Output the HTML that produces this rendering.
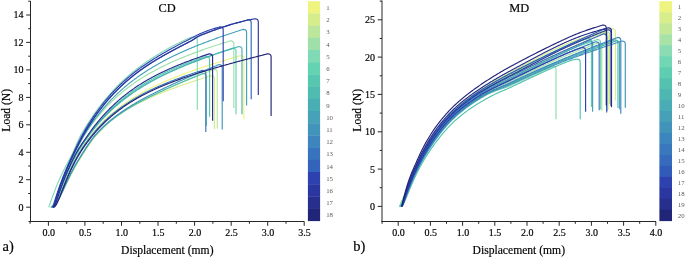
<!DOCTYPE html>
<html><head><meta charset="utf-8"><style>
html,body{margin:0;padding:0;background:#fff;}
svg{display:block;will-change:transform;}
text{font-family:"Liberation Serif",serif;fill:#000;stroke:#000;stroke-width:0.18px;}
.tk{font-size:10px;}
.cb{font-size:6.8px;fill:#5a5a5a;stroke:none;}
.ti{font-size:12.4px;}
.al{font-size:11.6px;}
.ab{font-size:14.5px;}
</style></head><body>
<svg width="685" height="257" viewBox="0 0 685 257">
<path d="M28.5 221.5H304.3M30.5 222.0V1.0" stroke="#262626" stroke-width="1.0" fill="none"/>
<path d="M48.4 221.5v4.3M84.9 221.5v4.3M121.5 221.5v4.3M158.0 221.5v4.3M194.6 221.5v4.3M231.2 221.5v4.3M267.7 221.5v4.3M304.2 221.5v4.3M30.1 221.5v2.3M66.7 221.5v2.3M103.2 221.5v2.3M139.8 221.5v2.3M176.3 221.5v2.3M212.9 221.5v2.3M249.4 221.5v2.3M286.0 221.5v2.3M30.5 207.2h-4.3M30.5 179.7h-4.3M30.5 152.3h-4.3M30.5 124.8h-4.3M30.5 97.4h-4.3M30.5 69.9h-4.3M30.5 42.4h-4.3M30.5 15.0h-4.3M30.5 193.5h-2.3M30.5 166.0h-2.3M30.5 138.5h-2.3M30.5 111.1h-2.3M30.5 83.6h-2.3M30.5 56.2h-2.3M30.5 28.7h-2.3M30.5 1.2h-2.3" stroke="#262626" stroke-width="1" fill="none"/>
<text x="48.7" y="235.9" text-anchor="middle" class="tk">0.0</text>
<text x="85.2" y="235.9" text-anchor="middle" class="tk">0.5</text>
<text x="121.8" y="235.9" text-anchor="middle" class="tk">1.0</text>
<text x="158.3" y="235.9" text-anchor="middle" class="tk">1.5</text>
<text x="194.9" y="235.9" text-anchor="middle" class="tk">2.0</text>
<text x="231.5" y="235.9" text-anchor="middle" class="tk">2.5</text>
<text x="268.0" y="235.9" text-anchor="middle" class="tk">3.0</text>
<text x="304.5" y="235.9" text-anchor="middle" class="tk">3.5</text>
<text x="23.5" y="210.6" text-anchor="end" class="tk">0</text>
<text x="23.5" y="183.1" text-anchor="end" class="tk">2</text>
<text x="23.5" y="155.7" text-anchor="end" class="tk">4</text>
<text x="23.5" y="128.2" text-anchor="end" class="tk">6</text>
<text x="23.5" y="100.8" text-anchor="end" class="tk">8</text>
<text x="23.5" y="73.3" text-anchor="end" class="tk">10</text>
<text x="23.5" y="45.8" text-anchor="end" class="tk">12</text>
<text x="23.5" y="18.4" text-anchor="end" class="tk">14</text>
<path d="M381.5 221.5H656.0M382.0 222.0V0.5" stroke="#262626" stroke-width="1.0" fill="none"/>
<path d="M398.2 221.5v4.3M430.4 221.5v4.3M462.6 221.5v4.3M494.8 221.5v4.3M527.0 221.5v4.3M559.2 221.5v4.3M591.4 221.5v4.3M623.6 221.5v4.3M655.8 221.5v4.3M382.1 221.5v2.3M414.3 221.5v2.3M446.5 221.5v2.3M478.7 221.5v2.3M510.9 221.5v2.3M543.1 221.5v2.3M575.3 221.5v2.3M607.5 221.5v2.3M639.7 221.5v2.3M382.0 206.4h-4.3M382.0 169.1h-4.3M382.0 131.8h-4.3M382.0 94.4h-4.3M382.0 57.1h-4.3M382.0 19.8h-4.3M382.0 187.7h-2.3M382.0 150.4h-2.3M382.0 113.1h-2.3M382.0 75.8h-2.3M382.0 38.5h-2.3M382.0 1.1h-2.3" stroke="#262626" stroke-width="1" fill="none"/>
<text x="398.5" y="235.9" text-anchor="middle" class="tk">0.0</text>
<text x="430.7" y="235.9" text-anchor="middle" class="tk">0.5</text>
<text x="462.9" y="235.9" text-anchor="middle" class="tk">1.0</text>
<text x="495.1" y="235.9" text-anchor="middle" class="tk">1.5</text>
<text x="527.3" y="235.9" text-anchor="middle" class="tk">2.0</text>
<text x="559.5" y="235.9" text-anchor="middle" class="tk">2.5</text>
<text x="591.7" y="235.9" text-anchor="middle" class="tk">3.0</text>
<text x="623.9" y="235.9" text-anchor="middle" class="tk">3.5</text>
<text x="656.1" y="235.9" text-anchor="middle" class="tk">4.0</text>
<text x="375.0" y="209.8" text-anchor="end" class="tk">0</text>
<text x="375.0" y="172.5" text-anchor="end" class="tk">5</text>
<text x="375.0" y="135.2" text-anchor="end" class="tk">10</text>
<text x="375.0" y="97.8" text-anchor="end" class="tk">15</text>
<text x="375.0" y="60.5" text-anchor="end" class="tk">20</text>
<text x="375.0" y="23.2" text-anchor="end" class="tk">25</text>
<rect x="307.9" y="1.20" width="12.2" height="12.50" fill="#eef47f"/>
<rect x="307.9" y="13.40" width="12.2" height="12.50" fill="#d6ed8c"/>
<rect x="307.9" y="25.60" width="12.2" height="12.50" fill="#bce69c"/>
<rect x="307.9" y="37.80" width="12.2" height="12.50" fill="#9fe0aa"/>
<rect x="307.9" y="50.00" width="12.2" height="12.50" fill="#80dab5"/>
<rect x="307.9" y="62.20" width="12.2" height="12.50" fill="#64d3b2"/>
<rect x="307.9" y="74.40" width="12.2" height="12.50" fill="#57c7b0"/>
<rect x="307.9" y="86.60" width="12.2" height="12.50" fill="#50bbb0"/>
<rect x="307.9" y="98.80" width="12.2" height="12.50" fill="#4aafb4"/>
<rect x="307.9" y="111.00" width="12.2" height="12.50" fill="#45a2b8"/>
<rect x="307.9" y="123.20" width="12.2" height="12.50" fill="#4194ba"/>
<rect x="307.9" y="135.40" width="12.2" height="12.50" fill="#3c85bd"/>
<rect x="307.9" y="147.60" width="12.2" height="12.50" fill="#3874bd"/>
<rect x="307.9" y="159.80" width="12.2" height="12.50" fill="#3463bb"/>
<rect x="307.9" y="172.00" width="12.2" height="12.50" fill="#2d42ae"/>
<rect x="307.9" y="184.20" width="12.2" height="12.50" fill="#2a37a0"/>
<rect x="307.9" y="196.40" width="12.2" height="12.50" fill="#262e8e"/>
<rect x="307.9" y="208.60" width="12.2" height="12.50" fill="#212577"/>
<text x="326.2" y="9.9" class="cb">1</text>
<text x="326.2" y="22.1" class="cb">2</text>
<text x="326.2" y="34.3" class="cb">3</text>
<text x="326.2" y="46.5" class="cb">4</text>
<text x="326.2" y="58.7" class="cb">5</text>
<text x="326.2" y="70.9" class="cb">6</text>
<text x="326.2" y="83.1" class="cb">7</text>
<text x="326.2" y="95.3" class="cb">8</text>
<text x="326.2" y="107.5" class="cb">9</text>
<text x="326.2" y="119.7" class="cb">10</text>
<text x="326.2" y="131.9" class="cb">11</text>
<text x="326.2" y="144.1" class="cb">12</text>
<text x="326.2" y="156.3" class="cb">13</text>
<text x="326.2" y="168.5" class="cb">14</text>
<text x="326.2" y="180.7" class="cb">15</text>
<text x="326.2" y="192.9" class="cb">16</text>
<text x="326.2" y="205.1" class="cb">17</text>
<text x="326.2" y="217.3" class="cb">18</text>
<rect x="659.4" y="1.20" width="12.6" height="11.28" fill="#eef47f"/>
<rect x="659.4" y="12.18" width="12.6" height="11.28" fill="#d9ee8a"/>
<rect x="659.4" y="23.16" width="12.6" height="11.28" fill="#c3e898"/>
<rect x="659.4" y="34.14" width="12.6" height="11.28" fill="#a8e2a6"/>
<rect x="659.4" y="45.12" width="12.6" height="11.28" fill="#8bdcb2"/>
<rect x="659.4" y="56.10" width="12.6" height="11.28" fill="#70d6b4"/>
<rect x="659.4" y="67.08" width="12.6" height="11.28" fill="#5ecdb0"/>
<rect x="659.4" y="78.06" width="12.6" height="11.28" fill="#55c2b0"/>
<rect x="659.4" y="89.04" width="12.6" height="11.28" fill="#4fb7b1"/>
<rect x="659.4" y="100.02" width="12.6" height="11.28" fill="#4aacb5"/>
<rect x="659.4" y="111.00" width="12.6" height="11.28" fill="#45a0b8"/>
<rect x="659.4" y="121.98" width="12.6" height="11.28" fill="#4193ba"/>
<rect x="659.4" y="132.96" width="12.6" height="11.28" fill="#3d86bd"/>
<rect x="659.4" y="143.94" width="12.6" height="11.28" fill="#3978bd"/>
<rect x="659.4" y="154.92" width="12.6" height="11.28" fill="#356abc"/>
<rect x="659.4" y="165.90" width="12.6" height="11.28" fill="#315bb8"/>
<rect x="659.4" y="176.88" width="12.6" height="11.28" fill="#2d42ae"/>
<rect x="659.4" y="187.86" width="12.6" height="11.28" fill="#2a37a0"/>
<rect x="659.4" y="198.84" width="12.6" height="11.28" fill="#262e8e"/>
<rect x="659.4" y="209.82" width="12.6" height="11.28" fill="#212577"/>
<text x="677.8" y="9.3" class="cb">1</text>
<text x="677.8" y="20.3" class="cb">2</text>
<text x="677.8" y="31.2" class="cb">3</text>
<text x="677.8" y="42.2" class="cb">4</text>
<text x="677.8" y="53.2" class="cb">5</text>
<text x="677.8" y="64.2" class="cb">6</text>
<text x="677.8" y="75.2" class="cb">7</text>
<text x="677.8" y="86.1" class="cb">8</text>
<text x="677.8" y="97.1" class="cb">9</text>
<text x="677.8" y="108.1" class="cb">10</text>
<text x="677.8" y="119.1" class="cb">11</text>
<text x="677.8" y="130.1" class="cb">12</text>
<text x="677.8" y="141.0" class="cb">13</text>
<text x="677.8" y="152.0" class="cb">14</text>
<text x="677.8" y="163.0" class="cb">15</text>
<text x="677.8" y="174.0" class="cb">16</text>
<text x="677.8" y="185.0" class="cb">17</text>
<text x="677.8" y="195.9" class="cb">18</text>
<text x="677.8" y="206.9" class="cb">19</text>
<text x="677.8" y="217.9" class="cb">20</text>
<text x="167.2" y="11.9" text-anchor="middle" class="ti">CD</text>
<text x="519.2" y="11.9" text-anchor="middle" class="ti">MD</text>
<text x="167.3" y="253.6" text-anchor="middle" class="al">Displacement (mm)</text>
<text x="518.8" y="253.6" text-anchor="middle" class="al">Displacement (mm)</text>
<text transform="translate(9.8 110.3) rotate(-90)" text-anchor="middle" class="al">Load (N)</text>
<text transform="translate(361.3 110.3) rotate(-90)" text-anchor="middle" class="al">Load (N)</text>
<text x="2.6" y="251.2" class="ab">a)</text>
<text x="353.2" y="251.2" class="ab">b)</text>
<path d="M52.05 207.20 L52.80 207.01 L53.55 206.45 L54.30 205.59 L55.05 204.48 L55.80 203.17 L56.55 201.70 L57.30 200.10 L58.05 198.41 L58.80 196.65 L59.55 194.84 L60.30 192.99 L61.05 191.12 L61.80 189.24 L62.55 187.36 L63.30 185.48 L64.06 183.63 L64.81 181.78 L65.56 179.96 L66.31 178.15 L67.06 176.38 L67.81 174.63 L68.56 172.91 L69.31 171.22 L70.06 169.56 L70.81 167.93 L71.56 166.34 L72.31 164.78 L73.06 163.25 L73.81 161.76 L74.56 160.29 L75.31 158.87 L76.06 157.47 L76.81 156.11 L77.56 154.77 L78.31 153.48 L79.06 152.21 L79.81 150.98 L80.56 149.77 L81.31 148.60 L82.06 147.45 L82.81 146.33 L83.56 145.23 L84.31 144.15 L85.06 143.09 L85.81 142.05 L86.56 141.03 L87.31 140.03 L88.06 139.04 L88.81 138.06 L89.56 137.09 L90.31 136.13 L91.06 135.18 L91.81 134.24 L92.56 133.32 L93.31 132.41 L94.06 131.51 L94.81 130.62 L95.56 129.75 L96.31 128.90 L97.06 128.05 L97.81 127.22 L98.56 126.39 L99.31 125.58 L100.06 124.79 L100.81 124.00 L101.56 123.22 L102.31 122.46 L103.06 121.70 L103.81 120.95 L104.56 120.22 L105.31 119.49 L106.06 118.78 L106.81 118.07 L107.56 117.37 L108.31 116.68 L109.06 116.00 L109.81 115.33 L110.56 114.67 L111.31 114.01 L112.06 113.36 L112.81 112.72 L113.56 112.09 L114.31 111.47 L115.06 110.85 L115.81 110.24 L116.56 109.64 L117.31 109.05 L118.06 108.46 L118.81 107.88 L119.56 107.31 L120.31 106.74 L121.06 106.18 L121.81 105.62 L122.56 105.08 L123.31 104.53 L124.06 104.00 L124.81 103.47 L125.56 102.94 L126.31 102.42 L127.06 101.91 L127.81 101.40 L128.56 100.90 L129.31 100.40 L130.06 99.91 L130.81 99.43 L131.56 98.94 L132.31 98.47 L133.06 98.00 L133.81 97.53 L134.56 97.07 L135.31 96.61 L136.06 96.16 L136.81 95.71 L137.56 95.27 L138.31 94.83 L139.06 94.39 L139.81 93.96 L140.56 93.53 L141.31 93.11 L142.06 92.69 L142.81 92.27 L143.56 91.86 L144.31 91.46 L145.06 91.05 L145.81 90.65 L146.56 90.26 L147.31 89.86 L148.06 89.47 L148.81 89.09 L149.56 88.71 L150.31 88.33 L151.06 87.95 L151.81 87.58 L152.56 87.21 L153.31 86.84 L154.06 86.48 L154.81 86.12 L155.56 85.76 L156.31 85.41 L157.06 85.05 L157.81 84.70 L158.56 84.36 L159.31 84.02 L160.06 83.68 L160.81 83.34 L161.56 83.00 L162.31 82.67 L163.06 82.34 L163.81 82.01 L164.56 81.68 L165.31 81.36 L166.06 81.04 L166.81 80.72 L167.56 80.40 L168.31 80.09 L169.06 79.77 L169.81 79.46 L170.56 79.15 L171.31 78.84 L172.06 78.54 L172.81 78.24 L173.56 77.93 L174.31 77.63 L175.06 77.34 L175.81 77.04 L176.56 76.74 L177.31 76.45 L178.06 76.16 L178.81 75.87 L179.56 75.58 L180.31 75.30 L181.06 75.01 L181.81 74.73 L182.56 74.45 L183.31 74.17 L184.06 73.89 L184.81 73.61 L185.56 73.33 L186.31 73.06 L187.06 72.79 L187.81 72.51 L188.56 72.24 L189.31 71.97 L190.06 71.70 L190.81 71.44 L191.56 71.17 L192.31 70.91 L193.06 70.64 L193.81 70.38 L194.56 70.12 L195.31 69.86 L196.06 69.60 L196.81 69.34 L197.56 69.09 L198.31 68.83 L199.06 68.58 L199.81 68.32 L200.56 68.07 L201.31 67.82 L202.06 67.57 L202.81 67.32 L203.56 67.07 L204.31 66.82 L205.06 66.57 L205.81 66.32 L206.56 66.08 L207.31 65.83 L208.06 65.59 L208.81 65.35 L209.56 65.10 L210.31 64.86 L211.06 64.62 L211.81 64.38 L212.56 64.14 L213.31 63.90 L214.06 63.67 L214.81 63.43 L215.56 63.19 L216.31 62.96 L217.06 62.72 L217.81 62.49 L218.56 62.25 L219.31 62.02 L220.06 61.79 L220.81 61.56 L221.56 61.32 L222.31 61.09 L223.06 60.86 L223.81 60.63 L224.56 60.40 L225.31 60.18 L226.06 59.95 L226.81 59.72 L227.56 59.49 L228.31 59.27 L229.06 59.04 L229.81 58.82 L230.56 58.59 L231.31 58.37 L232.06 58.14 L232.81 57.92 L233.56 57.70 L234.31 57.47 L235.06 57.25 L235.81 57.03 L236.56 56.81 L237.31 56.59 L238.06 56.37 L238.81 56.15 L239.56 55.93 L240.31 55.71 L240.70 55.59 Q243.90 55.59 243.90 58.79 L243.90 119.40" stroke="#eef47f" stroke-width="1.15" fill="none" stroke-linejoin="round"/>
<path d="M50.59 207.20 L51.34 207.07 L52.09 206.75 L52.84 206.27 L53.59 205.65 L54.34 204.89 L55.09 204.02 L55.84 203.05 L56.59 201.99 L57.34 200.85 L58.09 199.64 L58.84 198.37 L59.59 197.04 L60.34 195.68 L61.09 194.28 L61.84 192.85 L62.59 191.39 L63.34 189.92 L64.09 188.43 L64.84 186.92 L65.59 185.42 L66.34 183.91 L67.09 182.41 L67.84 180.91 L68.59 179.43 L69.34 177.96 L70.09 176.51 L70.84 175.07 L71.59 173.64 L72.34 172.23 L73.09 170.84 L73.84 169.47 L74.59 168.11 L75.34 166.77 L76.09 165.45 L76.84 164.14 L77.59 162.85 L78.34 161.58 L79.09 160.32 L79.84 159.08 L80.59 157.85 L81.34 156.64 L82.09 155.44 L82.84 154.25 L83.59 153.07 L84.34 151.90 L85.09 150.73 L85.84 149.58 L86.59 148.43 L87.34 147.30 L88.09 146.19 L88.84 145.08 L89.59 144.00 L90.34 142.93 L91.09 141.88 L91.84 140.85 L92.59 139.84 L93.34 138.86 L94.09 137.90 L94.84 136.97 L95.59 136.06 L96.34 135.18 L97.09 134.33 L97.84 133.49 L98.59 132.66 L99.34 131.85 L100.09 131.06 L100.84 130.28 L101.59 129.51 L102.34 128.76 L103.09 128.02 L103.84 127.29 L104.59 126.57 L105.34 125.87 L106.09 125.18 L106.84 124.50 L107.59 123.83 L108.34 123.17 L109.09 122.52 L109.84 121.88 L110.59 121.26 L111.34 120.64 L112.09 120.03 L112.84 119.44 L113.59 118.85 L114.34 118.27 L115.09 117.70 L115.84 117.13 L116.59 116.58 L117.34 116.03 L118.09 115.50 L118.84 114.97 L119.59 114.44 L120.34 113.93 L121.09 113.42 L121.84 112.92 L122.59 112.42 L123.34 111.93 L124.09 111.45 L124.84 110.98 L125.59 110.51 L126.34 110.05 L127.09 109.59 L127.84 109.14 L128.59 108.69 L129.34 108.25 L130.09 107.81 L130.84 107.38 L131.59 106.96 L132.34 106.54 L133.09 106.12 L133.84 105.71 L134.59 105.30 L135.34 104.90 L136.09 104.50 L136.84 104.11 L137.59 103.72 L138.34 103.33 L139.09 102.95 L139.84 102.57 L140.59 102.20 L141.34 101.82 L142.09 101.46 L142.84 101.09 L143.59 100.73 L144.34 100.37 L145.09 100.02 L145.84 99.67 L146.59 99.32 L147.34 98.97 L148.09 98.63 L148.84 98.29 L149.59 97.95 L150.34 97.61 L151.09 97.28 L151.84 96.95 L152.59 96.62 L153.34 96.30 L154.09 95.97 L154.84 95.65 L155.59 95.33 L156.34 95.02 L157.09 94.70 L157.84 94.39 L158.59 94.08 L159.34 93.77 L160.09 93.46 L160.84 93.16 L161.59 92.85 L162.34 92.55 L163.09 92.25 L163.84 91.95 L164.59 91.66 L165.34 91.36 L166.09 91.07 L166.84 90.78 L167.59 90.49 L168.34 90.20 L169.09 89.92 L169.84 89.63 L170.59 89.35 L171.34 89.07 L172.09 88.79 L172.84 88.51 L173.59 88.24 L174.34 87.96 L175.09 87.69 L175.84 87.41 L176.59 87.14 L177.34 86.87 L178.09 86.60 L178.84 86.33 L179.59 86.07 L180.34 85.80 L181.09 85.54 L181.84 85.28 L182.59 85.01 L183.34 84.75 L184.09 84.49 L184.84 84.23 L185.59 83.97 L186.34 83.72 L187.09 83.46 L187.84 83.21 L188.59 82.95 L189.34 82.70 L190.09 82.44 L190.84 82.19 L191.59 81.94 L192.34 81.69 L193.09 81.44 L193.84 81.19 L194.59 80.95 L195.34 80.70 L196.09 80.45 L196.84 80.21 L197.59 79.96 L198.34 79.72 L199.09 79.47 L199.84 79.23 L200.59 78.99 L201.34 78.74 L202.09 78.50 L202.84 78.26 L203.59 78.02 L204.34 77.78 L205.09 77.54 L205.84 77.30 L206.59 77.07 L207.34 76.83 L208.09 76.59 L208.84 76.35 L209.59 76.12 L210.34 75.88 L211.09 75.65 L211.20 75.61 Q214.40 75.61 214.40 78.81 L214.40 129.20" stroke="#d6ed8c" stroke-width="1.15" fill="none" stroke-linejoin="round"/>
<path d="M50.59 207.20 L51.34 207.06 L52.09 206.73 L52.84 206.24 L53.59 205.59 L54.34 204.80 L55.09 203.90 L55.84 202.89 L56.59 201.80 L57.34 200.62 L58.09 199.37 L58.84 198.06 L59.59 196.70 L60.34 195.30 L61.09 193.86 L61.84 192.40 L62.59 190.91 L63.34 189.40 L64.09 187.88 L64.84 186.34 L65.59 184.81 L66.34 183.28 L67.09 181.75 L67.84 180.24 L68.59 178.74 L69.34 177.26 L70.09 175.79 L70.84 174.33 L71.59 172.90 L72.34 171.48 L73.09 170.08 L73.84 168.70 L74.59 167.33 L75.34 165.99 L76.09 164.66 L76.84 163.35 L77.59 162.06 L78.34 160.79 L79.09 159.53 L79.84 158.29 L80.59 157.06 L81.34 155.85 L82.09 154.65 L82.84 153.46 L83.59 152.28 L84.34 151.11 L85.09 149.95 L85.84 148.80 L86.59 147.66 L87.34 146.54 L88.09 145.43 L88.84 144.34 L89.59 143.26 L90.34 142.21 L91.09 141.18 L91.84 140.16 L92.59 139.17 L93.34 138.21 L94.09 137.27 L94.84 136.35 L95.59 135.47 L96.34 134.61 L97.09 133.77 L97.84 132.94 L98.59 132.13 L99.34 131.34 L100.09 130.55 L100.84 129.78 L101.59 129.03 L102.34 128.28 L103.09 127.55 L103.84 126.84 L104.59 126.13 L105.34 125.44 L106.09 124.75 L106.84 124.08 L107.59 123.42 L108.34 122.77 L109.09 122.13 L109.84 121.50 L110.59 120.88 L111.34 120.26 L112.09 119.66 L112.84 119.07 L113.59 118.48 L114.34 117.90 L115.09 117.33 L115.84 116.77 L116.59 116.22 L117.34 115.67 L118.09 115.14 L118.84 114.60 L119.59 114.08 L120.34 113.56 L121.09 113.05 L121.84 112.54 L122.59 112.04 L123.34 111.55 L124.09 111.06 L124.84 110.58 L125.59 110.10 L126.34 109.63 L127.09 109.16 L127.84 108.70 L128.59 108.24 L129.34 107.79 L130.09 107.34 L130.84 106.90 L131.59 106.46 L132.34 106.03 L133.09 105.60 L133.84 105.17 L134.59 104.75 L135.34 104.33 L136.09 103.91 L136.84 103.50 L137.59 103.09 L138.34 102.68 L139.09 102.28 L139.84 101.88 L140.59 101.48 L141.34 101.09 L142.09 100.70 L142.84 100.31 L143.59 99.92 L144.34 99.54 L145.09 99.16 L145.84 98.78 L146.59 98.41 L147.34 98.03 L148.09 97.66 L148.84 97.29 L149.59 96.92 L150.34 96.56 L151.09 96.19 L151.84 95.83 L152.59 95.47 L153.34 95.11 L154.09 94.76 L154.84 94.40 L155.59 94.05 L156.34 93.70 L157.09 93.35 L157.84 93.00 L158.59 92.65 L159.34 92.30 L160.09 91.96 L160.84 91.61 L161.59 91.27 L162.34 90.93 L163.09 90.59 L163.84 90.25 L164.59 89.92 L165.34 89.58 L166.09 89.25 L166.84 88.91 L167.59 88.58 L168.34 88.25 L169.09 87.92 L169.84 87.59 L170.59 87.26 L171.34 86.94 L172.09 86.61 L172.84 86.29 L173.59 85.96 L174.34 85.64 L175.09 85.32 L175.84 85.00 L176.59 84.68 L177.34 84.36 L178.09 84.04 L178.84 83.72 L179.59 83.41 L180.34 83.09 L181.09 82.78 L181.84 82.46 L182.59 82.15 L183.34 81.83 L184.09 81.52 L184.84 81.21 L185.59 80.90 L186.34 80.59 L187.09 80.28 L187.84 79.97 L188.59 79.66 L189.34 79.35 L190.09 79.04 L190.84 78.74 L191.59 78.43 L192.34 78.12 L193.09 77.82 L193.84 77.51 L194.59 77.21 L195.34 76.90 L196.09 76.60 L196.84 76.30 L197.59 75.99 L198.34 75.69 L199.09 75.39 L199.84 75.08 L200.59 74.78 L201.34 74.48 L202.09 74.18 L202.84 73.88 L203.59 73.58 L204.34 73.28 L205.09 72.98 L205.84 72.68 L206.59 72.38 L207.34 72.08 L208.09 71.78 L208.84 71.48 L209.59 71.18 L210.34 70.89 L211.09 70.59 L211.84 70.29 L212.59 69.99 L213.34 69.70 L214.09 69.40 L214.10 69.40 Q217.30 69.40 217.30 72.60 L217.30 128.50" stroke="#bce69c" stroke-width="1.15" fill="none" stroke-linejoin="round"/>
<path d="M50.59 207.20 L51.34 206.91 L52.09 206.21 L52.84 205.16 L53.59 203.85 L54.34 202.33 L55.09 200.65 L55.84 198.83 L56.59 196.93 L57.34 194.96 L58.09 192.94 L58.84 190.90 L59.59 188.85 L60.34 186.79 L61.09 184.75 L61.84 182.73 L62.59 180.74 L63.34 178.80 L64.09 176.89 L64.84 175.02 L65.59 173.20 L66.34 171.41 L67.09 169.67 L67.84 167.96 L68.59 166.28 L69.34 164.64 L70.09 163.02 L70.84 161.44 L71.59 159.87 L72.34 158.33 L73.09 156.81 L73.84 155.31 L74.59 153.82 L75.34 152.32 L76.09 150.82 L76.84 149.33 L77.59 147.83 L78.34 146.35 L79.09 144.88 L79.84 143.42 L80.59 142.00 L81.34 140.60 L82.09 139.24 L82.84 137.91 L83.59 136.64 L84.34 135.41 L85.09 134.23 L85.84 133.07 L86.59 131.92 L87.34 130.80 L88.09 129.69 L88.84 128.60 L89.59 127.52 L90.34 126.46 L91.09 125.41 L91.84 124.38 L92.59 123.36 L93.34 122.36 L94.09 121.37 L94.84 120.40 L95.59 119.44 L96.34 118.49 L97.09 117.55 L97.84 116.63 L98.59 115.71 L99.34 114.81 L100.09 113.93 L100.84 113.05 L101.59 112.18 L102.34 111.33 L103.09 110.49 L103.84 109.65 L104.59 108.83 L105.34 108.02 L106.09 107.22 L106.84 106.43 L107.59 105.65 L108.34 104.87 L109.09 104.11 L109.84 103.36 L110.59 102.61 L111.34 101.88 L112.09 101.15 L112.84 100.43 L113.59 99.72 L114.34 99.02 L115.09 98.33 L115.84 97.65 L116.59 96.97 L117.34 96.30 L118.09 95.64 L118.84 94.99 L119.59 94.34 L120.34 93.70 L121.09 93.07 L121.84 92.45 L122.59 91.83 L123.34 91.22 L124.09 90.62 L124.84 90.02 L125.59 89.43 L126.34 88.85 L127.09 88.27 L127.84 87.70 L128.59 87.13 L129.34 86.57 L130.09 86.02 L130.84 85.47 L131.59 84.93 L132.34 84.39 L133.09 83.86 L133.84 83.34 L134.59 82.82 L135.34 82.30 L136.09 81.79 L136.84 81.29 L137.59 80.79 L138.34 80.30 L139.09 79.81 L139.84 79.32 L140.59 78.84 L141.34 78.37 L142.09 77.90 L142.84 77.43 L143.59 76.97 L144.34 76.51 L145.09 76.06 L145.84 75.61 L146.59 75.16 L147.34 74.72 L148.09 74.28 L148.84 73.85 L149.59 73.42 L150.34 72.99 L151.09 72.57 L151.84 72.15 L152.59 71.73 L153.34 71.32 L154.09 70.91 L154.84 70.51 L155.59 70.10 L156.34 69.70 L157.09 69.31 L157.84 68.91 L158.59 68.52 L159.34 68.14 L160.09 67.75 L160.84 67.37 L161.59 66.99 L162.34 66.62 L163.09 66.25 L163.84 65.88 L164.59 65.51 L165.34 65.15 L166.09 64.79 L166.84 64.43 L167.59 64.07 L168.34 63.72 L169.09 63.37 L169.84 63.03 L170.59 62.68 L171.34 62.34 L172.09 62.00 L172.84 61.66 L173.59 61.33 L174.34 61.00 L175.09 60.67 L175.84 60.34 L176.59 60.02 L177.34 59.69 L178.09 59.37 L178.84 59.05 L179.59 58.74 L180.34 58.42 L181.09 58.11 L181.84 57.80 L182.59 57.49 L183.34 57.19 L184.09 56.88 L184.84 56.58 L185.59 56.28 L186.34 55.98 L187.09 55.69 L187.84 55.39 L188.59 55.10 L189.34 54.81 L190.09 54.52 L190.84 54.23 L191.59 53.94 L192.34 53.66 L193.09 53.38 L193.84 53.09 L194.59 52.82 L195.34 52.54 L196.09 52.26 L196.84 51.98 L197.59 51.71 L198.34 51.44 L199.09 51.17 L199.84 50.90 L200.59 50.63 L201.34 50.36 L202.09 50.10 L202.84 49.83 L203.59 49.57 L204.34 49.31 L205.09 49.05 L205.84 48.79 L206.59 48.53 L207.34 48.27 L208.09 48.02 L208.84 47.76 L209.59 47.51 L210.34 47.26 L211.09 47.01 L211.84 46.76 L212.59 46.51 L213.34 46.26 L214.09 46.01 L214.84 45.77 L215.59 45.52 L216.34 45.28 L217.09 45.03 L217.84 44.79 L218.59 44.55 L219.34 44.31 L220.09 44.07 L220.84 43.83 L221.59 43.59 L222.34 43.36 L223.09 43.12 L223.84 42.89 L224.59 42.65 L225.34 42.42 L226.09 42.19 L226.84 41.95 L227.59 41.72 L228.34 41.49 L229.09 41.26 L229.84 41.03 L230.59 40.81 L230.60 40.80 Q233.80 40.80 233.80 44.00 L233.80 108.00" stroke="#9fe0aa" stroke-width="1.15" fill="none" stroke-linejoin="round"/>
<path d="M48.77 207.20 L49.52 205.27 L50.27 202.92 L51.02 200.74 L51.77 198.64 L52.52 196.59 L53.27 194.57 L54.02 192.58 L54.77 190.62 L55.52 188.70 L56.27 186.82 L57.02 184.96 L57.77 183.15 L58.52 181.39 L59.27 179.68 L60.02 178.02 L60.77 176.39 L61.52 174.80 L62.27 173.25 L63.02 171.72 L63.77 170.22 L64.52 168.75 L65.27 167.29 L66.02 165.84 L66.77 164.41 L67.52 162.98 L68.27 161.56 L69.02 160.13 L69.77 158.71 L70.52 157.27 L71.27 155.82 L72.02 154.36 L72.77 152.86 L73.52 151.26 L74.27 149.58 L75.02 147.85 L75.77 146.10 L76.52 144.33 L77.27 142.58 L78.02 140.86 L78.77 139.20 L79.52 137.63 L80.27 136.15 L81.02 134.80 L81.77 133.51 L82.52 132.23 L83.27 130.97 L84.02 129.72 L84.77 128.48 L85.52 127.26 L86.27 126.05 L87.02 124.86 L87.77 123.68 L88.52 122.51 L89.27 121.35 L90.02 120.21 L90.77 119.08 L91.52 117.97 L92.27 116.86 L93.02 115.77 L93.77 114.69 L94.52 113.62 L95.27 112.57 L96.02 111.52 L96.77 110.49 L97.52 109.47 L98.27 108.46 L99.02 107.46 L99.77 106.48 L100.52 105.50 L101.27 104.53 L102.02 103.58 L102.77 102.63 L103.52 101.70 L104.27 100.78 L105.02 99.86 L105.77 98.96 L106.52 98.06 L107.27 97.18 L108.02 96.31 L108.77 95.44 L109.52 94.59 L110.27 93.74 L111.02 92.90 L111.77 92.07 L112.52 91.26 L113.27 90.45 L114.02 89.64 L114.77 88.85 L115.52 88.07 L116.27 87.29 L117.02 86.52 L117.77 85.76 L118.52 85.01 L119.27 84.27 L120.02 83.53 L120.77 82.80 L121.52 82.08 L122.27 81.37 L123.02 80.67 L123.77 79.97 L124.52 79.28 L125.27 78.60 L126.02 77.92 L126.77 77.25 L127.52 76.59 L128.27 75.93 L129.02 75.28 L129.77 74.64 L130.52 74.01 L131.27 73.38 L132.02 72.75 L132.77 72.14 L133.52 71.53 L134.27 70.92 L135.02 70.32 L135.77 69.73 L136.52 69.14 L137.27 68.56 L138.02 67.99 L138.77 67.42 L139.52 66.86 L140.27 66.30 L141.02 65.74 L141.77 65.20 L142.52 64.65 L143.27 64.12 L144.02 63.58 L144.77 63.05 L145.52 62.53 L146.27 62.01 L147.02 61.50 L147.77 60.99 L148.52 60.49 L149.27 59.99 L150.02 59.49 L150.77 59.00 L151.52 58.52 L152.27 58.04 L153.02 57.56 L153.77 57.09 L154.52 56.62 L155.27 56.15 L156.02 55.69 L156.77 55.23 L157.52 54.78 L158.27 54.33 L159.02 53.88 L159.77 53.44 L160.52 53.00 L161.27 52.56 L162.02 52.12 L162.77 51.69 L163.52 51.25 L164.27 50.82 L165.02 50.39 L165.77 49.96 L166.52 49.53 L167.27 49.11 L168.02 48.68 L168.77 48.26 L169.52 47.84 L170.27 47.43 L171.02 47.02 L171.77 46.60 L172.52 46.20 L173.27 45.79 L174.02 45.39 L174.77 44.99 L175.52 44.60 L176.27 44.21 L177.02 43.82 L177.77 43.44 L178.52 43.06 L179.27 42.68 L180.02 42.31 L180.77 41.94 L181.52 41.58 L182.27 41.22 L183.02 40.86 L183.77 40.51 L184.52 40.17 L185.27 39.83 L186.02 39.49 L186.77 39.16 L187.52 38.84 L188.27 38.52 L189.02 38.20 L189.77 37.90 L190.52 37.60 L191.27 37.36 L192.02 37.16 L192.77 36.98 L193.52 36.83 L194.10 36.71 Q197.30 36.71 197.30 39.91 L197.30 109.80" stroke="#80dab5" stroke-width="1.15" fill="none" stroke-linejoin="round"/>
<path d="M50.96 207.20 L51.71 207.01 L52.46 206.42 L53.21 205.52 L53.96 204.36 L54.71 203.01 L55.46 201.49 L56.21 199.84 L56.96 198.11 L57.71 196.30 L58.46 194.45 L59.21 192.57 L59.96 190.67 L60.71 188.77 L61.46 186.87 L62.21 184.98 L62.96 183.10 L63.71 181.24 L64.46 179.40 L65.21 177.58 L65.96 175.79 L66.71 174.02 L67.46 172.28 L68.21 170.57 L68.96 168.89 L69.71 167.24 L70.46 165.62 L71.21 164.04 L71.96 162.49 L72.71 160.97 L73.46 159.49 L74.21 158.04 L74.96 156.62 L75.71 155.24 L76.46 153.90 L77.21 152.59 L77.96 151.31 L78.71 150.07 L79.46 148.87 L80.21 147.69 L80.96 146.54 L81.71 145.41 L82.46 144.31 L83.21 143.22 L83.96 142.16 L84.71 141.11 L85.46 140.07 L86.21 139.04 L86.96 138.02 L87.71 137.01 L88.46 136.00 L89.21 134.99 L89.96 133.99 L90.71 133.00 L91.46 132.03 L92.21 131.07 L92.96 130.12 L93.71 129.19 L94.46 128.27 L95.21 127.36 L95.96 126.46 L96.71 125.57 L97.46 124.70 L98.21 123.83 L98.96 122.98 L99.71 122.14 L100.46 121.30 L101.21 120.48 L101.96 119.67 L102.71 118.87 L103.46 118.07 L104.21 117.29 L104.96 116.52 L105.71 115.75 L106.46 115.00 L107.21 114.25 L107.96 113.51 L108.71 112.78 L109.46 112.06 L110.21 111.34 L110.96 110.64 L111.71 109.94 L112.46 109.25 L113.21 108.57 L113.96 107.89 L114.71 107.22 L115.46 106.56 L116.21 105.91 L116.96 105.26 L117.71 104.62 L118.46 103.99 L119.21 103.37 L119.96 102.75 L120.71 102.13 L121.46 101.53 L122.21 100.93 L122.96 100.33 L123.71 99.75 L124.46 99.16 L125.21 98.59 L125.96 98.02 L126.71 97.45 L127.46 96.89 L128.21 96.34 L128.96 95.79 L129.71 95.25 L130.46 94.71 L131.21 94.18 L131.96 93.65 L132.71 93.13 L133.46 92.61 L134.21 92.10 L134.96 91.60 L135.71 91.09 L136.46 90.59 L137.21 90.10 L137.96 89.61 L138.71 89.13 L139.46 88.65 L140.21 88.17 L140.96 87.70 L141.71 87.24 L142.46 86.77 L143.21 86.31 L143.96 85.86 L144.71 85.41 L145.46 84.96 L146.21 84.52 L146.96 84.08 L147.71 83.64 L148.46 83.21 L149.21 82.78 L149.96 82.36 L150.71 81.94 L151.46 81.52 L152.21 81.11 L152.96 80.70 L153.71 80.29 L154.46 79.89 L155.21 79.49 L155.96 79.09 L156.71 78.69 L157.46 78.30 L158.21 77.91 L158.96 77.53 L159.71 77.15 L160.46 76.77 L161.21 76.39 L161.96 76.02 L162.71 75.65 L163.46 75.28 L164.21 74.91 L164.96 74.55 L165.71 74.19 L166.46 73.83 L167.21 73.47 L167.96 73.12 L168.71 72.77 L169.46 72.42 L170.21 72.07 L170.96 71.72 L171.71 71.38 L172.46 71.04 L173.21 70.70 L173.96 70.36 L174.71 70.03 L175.46 69.70 L176.21 69.37 L176.96 69.04 L177.71 68.71 L178.46 68.38 L179.21 68.06 L179.96 67.74 L180.71 67.42 L181.46 67.10 L182.21 66.78 L182.96 66.47 L183.71 66.16 L184.46 65.84 L185.21 65.53 L185.96 65.22 L186.71 64.92 L187.46 64.61 L188.21 64.31 L188.96 64.01 L189.71 63.71 L190.46 63.41 L191.21 63.11 L191.96 62.81 L192.71 62.52 L193.46 62.22 L194.21 61.93 L194.96 61.64 L195.71 61.35 L196.46 61.06 L197.21 60.77 L197.96 60.48 L198.71 60.20 L199.46 59.91 L200.21 59.63 L200.96 59.35 L201.71 59.07 L202.46 58.79 L203.21 58.51 L203.96 58.23 L204.71 57.96 L205.46 57.68 L206.21 57.41 L206.96 57.13 L207.71 56.86 L208.46 56.59 L209.21 56.32 L209.96 56.05 L210.71 55.78 L211.46 55.51 L212.21 55.25 L212.96 54.98 L213.71 54.72 L214.46 54.45 L215.21 54.19 L215.96 53.93 L216.71 53.66 L217.46 53.40 L218.21 53.14 L218.96 52.88 L219.71 52.63 L220.46 52.37 L221.21 52.11 L221.96 51.86 L222.71 51.60 L223.46 51.34 L224.21 51.09 L224.96 50.84 L225.71 50.58 L226.46 50.33 L227.21 50.08 L227.96 49.83 L228.71 49.58 L229.46 49.33 L230.21 49.08 L230.96 48.83 L231.71 48.59 L232.46 48.34 L232.80 48.23 Q236.00 48.23 236.00 51.43 L236.00 114.20" stroke="#64d3b2" stroke-width="1.15" fill="none" stroke-linejoin="round"/>
<path d="M51.32 207.20 L52.07 206.99 L52.82 206.35 L53.57 205.37 L54.32 204.12 L55.07 202.67 L55.82 201.06 L56.57 199.33 L57.32 197.51 L58.07 195.63 L58.82 193.72 L59.57 191.78 L60.32 189.83 L61.07 187.89 L61.82 185.96 L62.57 184.05 L63.32 182.15 L64.07 180.27 L64.82 178.41 L65.57 176.58 L66.32 174.78 L67.07 173.00 L67.82 171.26 L68.57 169.54 L69.32 167.86 L70.07 166.21 L70.82 164.59 L71.57 163.01 L72.32 161.46 L73.07 159.94 L73.82 158.46 L74.57 157.02 L75.32 155.60 L76.07 154.23 L76.82 152.89 L77.57 151.59 L78.32 150.33 L79.07 149.10 L79.82 147.91 L80.57 146.74 L81.32 145.60 L82.07 144.48 L82.82 143.38 L83.57 142.30 L84.32 141.23 L85.07 140.17 L85.82 139.13 L86.57 138.08 L87.32 137.04 L88.07 136.01 L88.82 134.97 L89.57 133.93 L90.32 132.91 L91.07 131.91 L91.82 130.91 L92.57 129.93 L93.32 128.96 L94.07 128.01 L94.82 127.06 L95.57 126.13 L96.32 125.21 L97.07 124.30 L97.82 123.40 L98.57 122.52 L99.32 121.64 L100.07 120.77 L100.82 119.92 L101.57 119.07 L102.32 118.24 L103.07 117.41 L103.82 116.60 L104.57 115.79 L105.32 115.00 L106.07 114.21 L106.82 113.43 L107.57 112.66 L108.32 111.90 L109.07 111.15 L109.82 110.41 L110.57 109.67 L111.32 108.95 L112.07 108.23 L112.82 107.52 L113.57 106.82 L114.32 106.12 L115.07 105.43 L115.82 104.76 L116.57 104.08 L117.32 103.42 L118.07 102.76 L118.82 102.11 L119.57 101.47 L120.32 100.84 L121.07 100.21 L121.82 99.58 L122.57 98.97 L123.32 98.36 L124.07 97.76 L124.82 97.16 L125.57 96.57 L126.32 95.99 L127.07 95.41 L127.82 94.84 L128.57 94.27 L129.32 93.71 L130.07 93.16 L130.82 92.61 L131.57 92.07 L132.32 91.53 L133.07 91.00 L133.82 90.48 L134.57 89.95 L135.32 89.44 L136.07 88.93 L136.82 88.42 L137.57 87.92 L138.32 87.43 L139.07 86.94 L139.82 86.45 L140.57 85.97 L141.32 85.50 L142.07 85.02 L142.82 84.56 L143.57 84.10 L144.32 83.64 L145.07 83.18 L145.82 82.74 L146.57 82.29 L147.32 81.85 L148.07 81.41 L148.82 80.98 L149.57 80.55 L150.32 80.13 L151.07 79.71 L151.82 79.29 L152.57 78.88 L153.32 78.47 L154.07 78.07 L154.82 77.67 L155.57 77.27 L156.32 76.88 L157.07 76.49 L157.82 76.10 L158.57 75.72 L159.32 75.34 L160.07 74.96 L160.82 74.59 L161.57 74.22 L162.32 73.85 L163.07 73.49 L163.82 73.13 L164.57 72.77 L165.32 72.42 L166.07 72.06 L166.82 71.71 L167.57 71.37 L168.32 71.02 L169.07 70.68 L169.82 70.34 L170.57 70.01 L171.32 69.67 L172.07 69.34 L172.82 69.01 L173.57 68.69 L174.32 68.36 L175.07 68.04 L175.82 67.72 L176.57 67.40 L177.32 67.09 L178.07 66.78 L178.82 66.47 L179.57 66.16 L180.32 65.85 L181.07 65.55 L181.82 65.24 L182.57 64.94 L183.32 64.65 L184.07 64.35 L184.82 64.06 L185.57 63.76 L186.32 63.47 L187.07 63.19 L187.82 62.90 L188.57 62.61 L189.32 62.33 L190.07 62.05 L190.82 61.77 L191.57 61.49 L192.32 61.22 L193.07 60.94 L193.82 60.67 L194.57 60.40 L195.32 60.13 L196.07 59.86 L196.82 59.60 L197.57 59.33 L198.32 59.07 L199.07 58.81 L199.82 58.55 L200.57 58.29 L201.32 58.03 L202.07 57.78 L202.82 57.52 L203.57 57.27 L204.32 57.02 L205.07 56.77 L205.82 56.52 L206.40 56.33 Q209.60 56.33 209.60 59.53 L209.60 116.80" stroke="#57c7b0" stroke-width="1.15" fill="none" stroke-linejoin="round"/>
<path d="M52.05 207.20 L52.80 207.01 L53.55 206.57 L54.30 205.93 L55.05 205.11 L55.80 204.14 L56.55 203.03 L57.30 201.81 L58.05 200.50 L58.80 199.11 L59.55 197.65 L60.30 196.14 L61.05 194.59 L61.80 193.01 L62.55 191.40 L63.30 189.78 L64.06 188.15 L64.81 186.51 L65.56 184.88 L66.31 183.26 L67.06 181.66 L67.81 180.08 L68.56 178.53 L69.31 177.00 L70.06 175.50 L70.81 174.03 L71.56 172.58 L72.31 171.16 L73.06 169.77 L73.81 168.40 L74.56 167.06 L75.31 165.74 L76.06 164.44 L76.81 163.16 L77.56 161.91 L78.31 160.67 L79.06 159.44 L79.81 158.24 L80.56 157.04 L81.31 155.86 L82.06 154.69 L82.81 153.53 L83.56 152.36 L84.31 151.19 L85.06 150.02 L85.81 148.86 L86.56 147.70 L87.31 146.55 L88.06 145.41 L88.81 144.29 L89.56 143.18 L90.31 142.09 L91.06 141.03 L91.81 139.99 L92.56 138.98 L93.31 138.00 L94.06 137.05 L94.81 136.14 L95.56 135.27 L96.31 134.44 L97.06 133.62 L97.81 132.82 L98.56 132.03 L99.31 131.26 L100.06 130.49 L100.81 129.74 L101.56 129.01 L102.31 128.28 L103.06 127.57 L103.81 126.87 L104.56 126.18 L105.31 125.50 L106.06 124.83 L106.81 124.17 L107.56 123.52 L108.31 122.88 L109.06 122.25 L109.81 121.62 L110.56 121.01 L111.31 120.41 L112.06 119.81 L112.81 119.22 L113.56 118.64 L114.31 118.07 L115.06 117.51 L115.81 116.95 L116.56 116.40 L117.31 115.86 L118.06 115.32 L118.81 114.79 L119.56 114.27 L120.31 113.75 L121.06 113.24 L121.81 112.73 L122.56 112.23 L123.31 111.74 L124.06 111.25 L124.81 110.76 L125.56 110.28 L126.31 109.81 L127.06 109.34 L127.81 108.87 L128.56 108.41 L129.31 107.96 L130.06 107.51 L130.81 107.06 L131.56 106.62 L132.31 106.18 L133.06 105.74 L133.81 105.31 L134.56 104.88 L135.31 104.46 L136.06 104.04 L136.81 103.62 L137.56 103.20 L138.31 102.79 L139.06 102.39 L139.81 101.98 L140.56 101.58 L141.31 101.18 L142.06 100.78 L142.81 100.39 L143.56 99.99 L144.31 99.61 L145.06 99.22 L145.81 98.83 L146.56 98.45 L147.31 98.07 L148.06 97.69 L148.81 97.32 L149.56 96.94 L150.31 96.57 L151.06 96.20 L151.81 95.83 L152.56 95.46 L153.31 95.10 L154.06 94.74 L154.81 94.37 L155.56 94.01 L156.31 93.65 L157.06 93.29 L157.81 92.94 L158.56 92.58 L159.31 92.23 L160.06 91.87 L160.81 91.52 L161.56 91.17 L162.31 90.82 L163.06 90.48 L163.81 90.13 L164.56 89.79 L165.31 89.44 L166.06 89.10 L166.81 88.76 L167.56 88.42 L168.31 88.09 L169.06 87.75 L169.81 87.42 L170.56 87.08 L171.31 86.75 L172.06 86.42 L172.81 86.09 L173.56 85.76 L174.31 85.43 L175.06 85.10 L175.81 84.78 L176.56 84.45 L177.31 84.13 L178.06 83.81 L178.81 83.49 L179.56 83.16 L180.31 82.84 L181.06 82.52 L181.81 82.21 L182.56 81.89 L183.31 81.57 L184.06 81.25 L184.81 80.94 L185.56 80.62 L186.31 80.31 L187.06 80.00 L187.81 79.68 L188.56 79.37 L189.31 79.06 L190.06 78.75 L190.81 78.44 L191.56 78.13 L192.31 77.82 L193.06 77.51 L193.81 77.20 L194.56 76.89 L195.31 76.58 L196.06 76.27 L196.81 75.97 L197.56 75.66 L198.31 75.36 L199.06 75.05 L199.81 74.74 L200.56 74.44 L201.31 74.13 L202.06 73.83 L202.81 73.52 L203.10 73.41 Q206.30 73.41 206.30 76.61 L206.30 126.10" stroke="#50bbb0" stroke-width="1.15" fill="none" stroke-linejoin="round"/>
<path d="M51.32 207.20 L52.07 206.98 L52.82 206.33 L53.57 205.35 L54.32 204.11 L55.07 202.66 L55.82 201.05 L56.57 199.32 L57.32 197.50 L58.07 195.63 L58.82 193.71 L59.57 191.78 L60.32 189.83 L61.07 187.89 L61.82 185.96 L62.57 184.05 L63.32 182.16 L64.07 180.29 L64.82 178.44 L65.57 176.63 L66.32 174.84 L67.07 173.09 L67.82 171.36 L68.57 169.67 L69.32 168.02 L70.07 166.39 L70.82 164.80 L71.57 163.25 L72.32 161.72 L73.07 160.23 L73.82 158.77 L74.57 157.34 L75.32 155.95 L76.07 154.58 L76.82 153.25 L77.57 151.95 L78.32 150.69 L79.07 149.45 L79.82 148.25 L80.57 147.07 L81.32 145.91 L82.07 144.77 L82.82 143.66 L83.57 142.56 L84.32 141.48 L85.07 140.42 L85.82 139.36 L86.57 138.32 L87.32 137.29 L88.07 136.26 L88.82 135.24 L89.57 134.22 L90.32 133.22 L91.07 132.24 L91.82 131.26 L92.57 130.30 L93.32 129.35 L94.07 128.42 L94.82 127.50 L95.57 126.59 L96.32 125.69 L97.07 124.80 L97.82 123.92 L98.57 123.06 L99.32 122.20 L100.07 121.36 L100.82 120.52 L101.57 119.70 L102.32 118.89 L103.07 118.08 L103.82 117.29 L104.57 116.50 L105.32 115.73 L106.07 114.96 L106.82 114.21 L107.57 113.46 L108.32 112.72 L109.07 111.99 L109.82 111.27 L110.57 110.55 L111.32 109.85 L112.07 109.15 L112.82 108.46 L113.57 107.78 L114.32 107.10 L115.07 106.44 L115.82 105.78 L116.57 105.12 L117.32 104.48 L118.07 103.84 L118.82 103.21 L119.57 102.58 L120.32 101.97 L121.07 101.35 L121.82 100.75 L122.57 100.15 L123.32 99.56 L124.07 98.97 L124.82 98.39 L125.57 97.82 L126.32 97.25 L127.07 96.69 L127.82 96.13 L128.57 95.58 L129.32 95.04 L130.07 94.50 L130.82 93.96 L131.57 93.43 L132.32 92.91 L133.07 92.39 L133.82 91.88 L134.57 91.37 L135.32 90.87 L136.07 90.37 L136.82 89.87 L137.57 89.38 L138.32 88.90 L139.07 88.42 L139.82 87.94 L140.57 87.47 L141.32 87.00 L142.07 86.54 L142.82 86.08 L143.57 85.63 L144.32 85.18 L145.07 84.73 L145.82 84.29 L146.57 83.85 L147.32 83.41 L148.07 82.98 L148.82 82.56 L149.57 82.13 L150.32 81.71 L151.07 81.30 L151.82 80.88 L152.57 80.48 L153.32 80.07 L154.07 79.67 L154.82 79.27 L155.57 78.87 L156.32 78.48 L157.07 78.09 L157.82 77.70 L158.57 77.32 L159.32 76.94 L160.07 76.56 L160.82 76.19 L161.57 75.82 L162.32 75.45 L163.07 75.08 L163.82 74.72 L164.57 74.36 L165.32 74.00 L166.07 73.64 L166.82 73.29 L167.57 72.94 L168.32 72.59 L169.07 72.24 L169.82 71.90 L170.57 71.56 L171.32 71.22 L172.07 70.88 L172.82 70.54 L173.57 70.21 L174.32 69.88 L175.07 69.55 L175.82 69.22 L176.57 68.90 L177.32 68.58 L178.07 68.25 L178.82 67.93 L179.57 67.62 L180.32 67.30 L181.07 66.99 L181.82 66.68 L182.57 66.36 L183.32 66.06 L184.07 65.75 L184.82 65.44 L185.57 65.14 L186.32 64.84 L187.07 64.54 L187.82 64.24 L188.57 63.94 L189.32 63.65 L190.07 63.35 L190.82 63.06 L191.57 62.77 L192.32 62.48 L193.07 62.19 L193.82 61.90 L194.57 61.61 L195.32 61.33 L196.07 61.05 L196.82 60.76 L197.57 60.48 L198.32 60.20 L199.07 59.93 L199.82 59.65 L200.57 59.37 L201.32 59.10 L202.07 58.82 L202.82 58.55 L203.57 58.28 L204.32 58.01 L205.07 57.74 L205.82 57.47 L206.57 57.20 L207.32 56.94 L208.07 56.67 L208.82 56.41 L209.57 56.15 L210.32 55.88 L211.07 55.62 L211.82 55.36 L212.57 55.10 L213.32 54.84 L214.07 54.59 L214.82 54.33 L215.57 54.07 L216.32 53.82 L217.07 53.57 L217.82 53.31 L218.57 53.06 L219.32 52.81 L220.07 52.56 L220.82 52.31 L221.57 52.06 L222.32 51.81 L223.07 51.56 L223.82 51.31 L224.57 51.07 L225.32 50.82 L226.07 50.58 L226.82 50.33 L227.57 50.09 L228.32 49.84 L229.07 49.60 L229.82 49.36 L230.57 49.12 L231.32 48.88 L232.07 48.64 L232.82 48.40 L233.57 48.16 L234.32 47.92 L235.07 47.68 L235.82 47.45 L236.57 47.21 L237.32 46.98 L238.07 46.74 L238.80 46.51 Q242.00 46.51 242.00 49.71 L242.00 114.20" stroke="#4aafb4" stroke-width="1.15" fill="none" stroke-linejoin="round"/>
<path d="M51.32 207.20 L52.07 206.84 L52.82 205.94 L53.57 204.62 L54.32 203.01 L55.07 201.18 L55.82 199.21 L56.57 197.13 L57.32 194.99 L58.07 192.83 L58.82 190.66 L59.57 188.49 L60.32 186.35 L61.07 184.23 L61.82 182.16 L62.57 180.14 L63.32 178.17 L64.07 176.25 L64.82 174.38 L65.57 172.55 L66.32 170.77 L67.07 169.03 L67.82 167.33 L68.57 165.66 L69.32 164.03 L70.07 162.42 L70.82 160.85 L71.57 159.29 L72.32 157.76 L73.07 156.25 L73.82 154.75 L74.57 153.26 L75.32 151.76 L76.07 150.26 L76.82 148.76 L77.57 147.27 L78.32 145.78 L79.07 144.31 L79.82 142.85 L80.57 141.42 L81.32 140.02 L82.07 138.65 L82.82 137.32 L83.57 136.04 L84.32 134.80 L85.07 133.59 L85.82 132.40 L86.57 131.22 L87.32 130.06 L88.07 128.91 L88.82 127.78 L89.57 126.67 L90.32 125.56 L91.07 124.48 L91.82 123.40 L92.57 122.34 L93.32 121.30 L94.07 120.26 L94.82 119.24 L95.57 118.24 L96.32 117.24 L97.07 116.26 L97.82 115.29 L98.57 114.33 L99.32 113.38 L100.07 112.45 L100.82 111.52 L101.57 110.61 L102.32 109.71 L103.07 108.82 L103.82 107.94 L104.57 107.07 L105.32 106.21 L106.07 105.36 L106.82 104.52 L107.57 103.69 L108.32 102.87 L109.07 102.06 L109.82 101.26 L110.57 100.47 L111.32 99.69 L112.07 98.91 L112.82 98.15 L113.57 97.39 L114.32 96.65 L115.07 95.91 L115.82 95.18 L116.57 94.46 L117.32 93.74 L118.07 93.04 L118.82 92.34 L119.57 91.65 L120.32 90.97 L121.07 90.29 L121.82 89.62 L122.57 88.96 L123.32 88.31 L124.07 87.66 L124.82 87.02 L125.57 86.39 L126.32 85.76 L127.07 85.14 L127.82 84.53 L128.57 83.92 L129.32 83.32 L130.07 82.72 L130.82 82.13 L131.57 81.55 L132.32 80.97 L133.07 80.40 L133.82 79.84 L134.57 79.28 L135.32 78.72 L136.07 78.17 L136.82 77.63 L137.57 77.09 L138.32 76.56 L139.07 76.03 L139.82 75.50 L140.57 74.99 L141.32 74.47 L142.07 73.96 L142.82 73.46 L143.57 72.96 L144.32 72.46 L145.07 71.97 L145.82 71.48 L146.57 71.00 L147.32 70.52 L148.07 70.05 L148.82 69.58 L149.57 69.11 L150.32 68.65 L151.07 68.19 L151.82 67.73 L152.57 67.28 L153.32 66.84 L154.07 66.39 L154.82 65.95 L155.57 65.51 L156.32 65.08 L157.07 64.65 L157.82 64.22 L158.57 63.80 L159.32 63.38 L160.07 62.96 L160.82 62.54 L161.57 62.13 L162.32 61.72 L163.07 61.32 L163.82 60.92 L164.57 60.52 L165.32 60.12 L166.07 59.73 L166.82 59.34 L167.57 58.95 L168.32 58.57 L169.07 58.19 L169.82 57.81 L170.57 57.44 L171.32 57.06 L172.07 56.69 L172.82 56.33 L173.57 55.96 L174.32 55.60 L175.07 55.24 L175.82 54.88 L176.57 54.53 L177.32 54.17 L178.07 53.82 L178.82 53.47 L179.57 53.13 L180.32 52.79 L181.07 52.44 L181.82 52.11 L182.57 51.77 L183.32 51.43 L184.07 51.10 L184.82 50.77 L185.57 50.44 L186.32 50.11 L187.07 49.79 L187.82 49.47 L188.57 49.15 L189.32 48.83 L190.07 48.51 L190.82 48.20 L191.57 47.88 L192.32 47.57 L193.07 47.26 L193.82 46.95 L194.57 46.65 L195.32 46.34 L196.07 46.04 L196.82 45.74 L197.57 45.44 L198.32 45.14 L199.07 44.84 L199.82 44.54 L200.57 44.25 L201.32 43.96 L202.07 43.67 L202.82 43.38 L203.57 43.09 L204.32 42.80 L205.07 42.52 L205.82 42.23 L206.57 41.95 L207.32 41.67 L208.07 41.39 L208.82 41.11 L209.57 40.83 L210.32 40.55 L211.07 40.28 L211.82 40.00 L212.57 39.73 L213.32 39.46 L214.07 39.19 L214.82 38.92 L215.57 38.65 L216.32 38.38 L217.07 38.11 L217.82 37.85 L218.57 37.58 L219.32 37.32 L220.07 37.06 L220.82 36.80 L221.57 36.54 L222.32 36.28 L223.07 36.02 L223.82 35.76 L224.57 35.50 L225.32 35.25 L226.07 34.99 L226.82 34.74 L227.57 34.49 L228.32 34.23 L229.07 33.98 L229.82 33.73 L230.57 33.48 L231.32 33.23 L232.07 32.98 L232.82 32.74 L233.57 32.49 L234.32 32.24 L235.07 32.00 L235.82 31.75 L236.57 31.51 L237.32 31.26 L238.07 31.02 L238.82 30.78 L239.57 30.54 L240.32 30.30 L241.07 30.06 L241.82 29.82 L242.57 29.58 L243.32 29.34 L243.40 29.32 Q246.60 29.32 246.60 32.52 L246.60 105.40" stroke="#45a2b8" stroke-width="1.15" fill="none" stroke-linejoin="round"/>
<path d="M52.05 207.20 L52.80 207.01 L53.55 206.57 L54.30 205.91 L55.05 205.07 L55.80 204.07 L56.55 202.93 L57.30 201.68 L58.05 200.34 L58.80 198.91 L59.55 197.42 L60.30 195.88 L61.05 194.30 L61.80 192.69 L62.55 191.05 L63.30 189.41 L64.06 187.75 L64.81 186.09 L65.56 184.44 L66.31 182.80 L67.06 181.18 L67.81 179.59 L68.56 178.02 L69.31 176.48 L70.06 174.96 L70.81 173.47 L71.56 172.01 L72.31 170.57 L73.06 169.16 L73.81 167.77 L74.56 166.41 L75.31 165.08 L76.06 163.76 L76.81 162.47 L77.56 161.20 L78.31 159.95 L79.06 158.71 L79.81 157.49 L80.56 156.29 L81.31 155.09 L82.06 153.91 L82.81 152.74 L83.56 151.56 L84.31 150.39 L85.06 149.22 L85.81 148.06 L86.56 146.91 L87.31 145.78 L88.06 144.65 L88.81 143.55 L89.56 142.46 L90.31 141.39 L91.06 140.35 L91.81 139.33 L92.56 138.35 L93.31 137.39 L94.06 136.46 L94.81 135.57 L95.56 134.71 L96.31 133.88 L97.06 133.05 L97.81 132.25 L98.56 131.45 L99.31 130.67 L100.06 129.90 L100.81 129.14 L101.56 128.40 L102.31 127.66 L103.06 126.94 L103.81 126.23 L104.56 125.53 L105.31 124.84 L106.06 124.16 L106.81 123.49 L107.56 122.83 L108.31 122.18 L109.06 121.54 L109.81 120.91 L110.56 120.28 L111.31 119.67 L112.06 119.06 L112.81 118.46 L113.56 117.86 L114.31 117.28 L115.06 116.70 L115.81 116.13 L116.56 115.57 L117.31 115.01 L118.06 114.46 L118.81 113.91 L119.56 113.37 L120.31 112.84 L121.06 112.32 L121.81 111.79 L122.56 111.28 L123.31 110.77 L124.06 110.26 L124.81 109.77 L125.56 109.27 L126.31 108.78 L127.06 108.30 L127.81 107.82 L128.56 107.34 L129.31 106.87 L130.06 106.40 L130.81 105.94 L131.56 105.48 L132.31 105.03 L133.06 104.57 L133.81 104.13 L134.56 103.68 L135.31 103.24 L136.06 102.81 L136.81 102.37 L137.56 101.94 L138.31 101.52 L139.06 101.09 L139.81 100.67 L140.56 100.25 L141.31 99.84 L142.06 99.42 L142.81 99.01 L143.56 98.61 L144.31 98.20 L145.06 97.80 L145.81 97.40 L146.56 97.00 L147.31 96.61 L148.06 96.22 L148.81 95.82 L149.56 95.44 L150.31 95.05 L151.06 94.66 L151.81 94.28 L152.56 93.90 L153.31 93.52 L154.06 93.14 L154.81 92.77 L155.56 92.39 L156.31 92.02 L157.06 91.65 L157.81 91.28 L158.56 90.91 L159.31 90.54 L160.06 90.17 L160.81 89.81 L161.56 89.45 L162.31 89.08 L163.06 88.72 L163.81 88.37 L164.56 88.01 L165.31 87.65 L166.06 87.30 L166.81 86.95 L167.56 86.60 L168.31 86.25 L169.06 85.90 L169.81 85.55 L170.56 85.21 L171.31 84.86 L172.06 84.52 L172.81 84.18 L173.56 83.84 L174.31 83.50 L175.06 83.16 L175.81 82.82 L176.56 82.48 L177.31 82.15 L178.06 81.82 L178.81 81.48 L179.56 81.15 L180.31 80.82 L181.06 80.49 L181.81 80.16 L182.56 79.83 L183.31 79.50 L184.06 79.18 L184.81 78.85 L185.56 78.53 L186.31 78.20 L187.06 77.88 L187.81 77.56 L188.56 77.23 L189.31 76.91 L190.06 76.59 L190.81 76.27 L191.56 75.95 L192.31 75.63 L193.06 75.32 L193.81 75.00 L194.56 74.68 L195.31 74.37 L196.06 74.05 L196.81 73.74 L197.56 73.42 L198.31 73.11 L199.06 72.79 L199.81 72.48 L200.56 72.17 L201.31 71.86 L202.06 71.54 L202.81 71.23 L203.56 70.92 L204.31 70.61 L205.06 70.30 L205.81 69.99 L206.56 69.68 L207.31 69.38 L208.06 69.07 L208.81 68.76 L209.56 68.45 L210.31 68.15 L211.06 67.84 L211.81 67.53 L212.56 67.23 L213.31 66.92 L214.06 66.61 L214.81 66.31 L215.56 66.00 L216.31 65.70 L217.06 65.39 L217.81 65.09 L218.56 64.79 L219.00 64.61 Q222.20 64.61 222.20 67.81 L222.20 129.50" stroke="#4194ba" stroke-width="1.15" fill="none" stroke-linejoin="round"/>
<path d="M53.15 207.20 L53.90 206.97 L54.65 206.32 L55.40 205.33 L56.15 204.08 L56.90 202.62 L57.65 201.00 L58.40 199.26 L59.15 197.44 L59.90 195.56 L60.65 193.64 L61.40 191.70 L62.15 189.75 L62.90 187.81 L63.65 185.89 L64.40 183.98 L65.15 182.10 L65.90 180.25 L66.65 178.42 L67.40 176.63 L68.15 174.87 L68.90 173.15 L69.65 171.46 L70.40 169.81 L71.15 168.20 L71.90 166.62 L72.65 165.07 L73.40 163.56 L74.15 162.09 L74.90 160.64 L75.65 159.24 L76.40 157.86 L77.15 156.51 L77.90 155.20 L78.65 153.91 L79.40 152.66 L80.15 151.43 L80.90 150.24 L81.65 149.07 L82.40 147.93 L83.15 146.81 L83.90 145.72 L84.65 144.64 L85.40 143.59 L86.15 142.55 L86.90 141.54 L87.65 140.54 L88.40 139.55 L89.15 138.58 L89.90 137.62 L90.65 136.68 L91.40 135.74 L92.15 134.81 L92.90 133.90 L93.65 133.00 L94.40 132.12 L95.15 131.24 L95.90 130.39 L96.65 129.54 L97.40 128.71 L98.15 127.89 L98.90 127.08 L99.65 126.28 L100.40 125.49 L101.15 124.72 L101.90 123.95 L102.65 123.20 L103.40 122.46 L104.15 121.72 L104.90 121.00 L105.65 120.29 L106.40 119.58 L107.15 118.89 L107.90 118.20 L108.65 117.53 L109.40 116.86 L110.15 116.20 L110.90 115.55 L111.65 114.91 L112.40 114.28 L113.15 113.66 L113.90 113.04 L114.65 112.43 L115.40 111.83 L116.15 111.23 L116.90 110.65 L117.65 110.07 L118.40 109.50 L119.15 108.93 L119.90 108.37 L120.65 107.82 L121.40 107.27 L122.15 106.74 L122.90 106.20 L123.65 105.68 L124.40 105.16 L125.15 104.64 L125.90 104.13 L126.65 103.63 L127.40 103.13 L128.15 102.64 L128.90 102.16 L129.65 101.68 L130.40 101.20 L131.15 100.73 L131.90 100.27 L132.65 99.81 L133.40 99.35 L134.15 98.90 L134.90 98.46 L135.65 98.02 L136.40 97.58 L137.15 97.15 L137.90 96.72 L138.65 96.30 L139.40 95.88 L140.15 95.46 L140.90 95.05 L141.65 94.65 L142.40 94.25 L143.15 93.85 L143.90 93.45 L144.65 93.06 L145.40 92.68 L146.15 92.29 L146.90 91.91 L147.65 91.54 L148.40 91.16 L149.15 90.79 L149.90 90.43 L150.65 90.07 L151.40 89.71 L152.15 89.35 L152.90 89.00 L153.65 88.65 L154.40 88.30 L155.15 87.96 L155.90 87.61 L156.65 87.28 L157.40 86.94 L158.15 86.61 L158.90 86.28 L159.65 85.95 L160.40 85.63 L161.15 85.30 L161.90 84.98 L162.65 84.67 L163.40 84.35 L164.15 84.04 L164.90 83.73 L165.65 83.42 L166.40 83.12 L167.15 82.81 L167.90 82.51 L168.65 82.21 L169.40 81.91 L170.15 81.62 L170.90 81.32 L171.65 81.03 L172.40 80.74 L173.15 80.45 L173.90 80.17 L174.65 79.88 L175.40 79.60 L176.15 79.32 L176.90 79.04 L177.65 78.76 L178.40 78.49 L179.15 78.21 L179.90 77.94 L180.65 77.67 L181.40 77.40 L182.15 77.13 L182.90 76.87 L183.65 76.60 L184.40 76.34 L185.15 76.07 L185.90 75.81 L186.65 75.55 L187.40 75.29 L188.15 75.04 L188.90 74.78 L189.65 74.53 L190.40 74.27 L191.15 74.02 L191.90 73.77 L192.65 73.52 L193.40 73.27 L194.15 73.03 L194.90 72.78 L195.65 72.54 L196.40 72.29 L197.15 72.05 L197.90 71.81 L198.65 71.57 L199.40 71.33 L200.15 71.09 L200.90 70.85 L201.65 70.61 L202.40 70.38 L202.60 70.31 Q205.80 70.31 205.80 73.51 L205.80 132.00" stroke="#3874bd" stroke-width="1.15" fill="none" stroke-linejoin="round"/>
<path d="M52.79 207.20 L53.54 206.43 L54.29 204.66 L55.04 202.40 L55.79 199.95 L56.54 197.46 L57.29 195.00 L58.04 192.61 L58.79 190.29 L59.54 188.06 L60.29 185.89 L61.04 183.78 L61.79 181.74 L62.54 179.74 L63.29 177.78 L64.04 175.87 L64.79 174.00 L65.54 172.15 L66.29 170.34 L67.04 168.56 L67.79 166.80 L68.54 165.07 L69.29 163.37 L70.04 161.69 L70.79 160.03 L71.54 158.39 L72.29 156.78 L73.04 155.19 L73.79 153.61 L74.54 152.05 L75.29 150.51 L76.04 148.98 L76.79 147.47 L77.54 145.98 L78.29 144.50 L79.04 143.04 L79.79 141.61 L80.54 140.19 L81.29 138.80 L82.04 137.43 L82.79 136.08 L83.54 134.76 L84.29 133.46 L85.04 132.18 L85.79 130.91 L86.54 129.66 L87.29 128.43 L88.04 127.21 L88.79 126.01 L89.54 124.83 L90.29 123.66 L91.04 122.50 L91.79 121.36 L92.54 120.24 L93.29 119.13 L94.04 118.03 L94.79 116.95 L95.54 115.88 L96.29 114.83 L97.04 113.78 L97.79 112.76 L98.54 111.74 L99.29 110.74 L100.04 109.75 L100.79 108.77 L101.54 107.80 L102.29 106.85 L103.04 105.91 L103.79 104.98 L104.54 104.06 L105.29 103.15 L106.04 102.25 L106.79 101.37 L107.54 100.49 L108.29 99.62 L109.04 98.77 L109.79 97.92 L110.54 97.09 L111.29 96.26 L112.04 95.45 L112.79 94.64 L113.54 93.84 L114.29 93.06 L115.04 92.28 L115.79 91.51 L116.54 90.75 L117.29 89.99 L118.04 89.25 L118.79 88.51 L119.54 87.79 L120.29 87.07 L121.04 86.35 L121.79 85.65 L122.54 84.95 L123.29 84.26 L124.04 83.58 L124.79 82.91 L125.54 82.24 L126.29 81.58 L127.04 80.93 L127.79 80.28 L128.54 79.64 L129.29 79.01 L130.04 78.38 L130.79 77.76 L131.54 77.15 L132.29 76.54 L133.04 75.94 L133.79 75.34 L134.54 74.75 L135.29 74.17 L136.04 73.59 L136.79 73.02 L137.54 72.45 L138.29 71.89 L139.04 71.33 L139.79 70.78 L140.54 70.23 L141.29 69.69 L142.04 69.16 L142.79 68.62 L143.54 68.10 L144.29 67.58 L145.04 67.06 L145.79 66.55 L146.54 66.04 L147.29 65.53 L148.04 65.03 L148.79 64.54 L149.54 64.05 L150.29 63.56 L151.04 63.08 L151.79 62.60 L152.54 62.13 L153.29 61.65 L154.04 61.19 L154.79 60.72 L155.54 60.26 L156.29 59.81 L157.04 59.36 L157.79 58.91 L158.54 58.46 L159.29 58.02 L160.04 57.58 L160.79 57.14 L161.54 56.71 L162.29 56.28 L163.04 55.85 L163.79 55.42 L164.54 54.99 L165.29 54.57 L166.04 54.15 L166.79 53.73 L167.54 53.31 L168.29 52.90 L169.04 52.48 L169.79 52.07 L170.54 51.66 L171.29 51.25 L172.04 50.84 L172.79 50.44 L173.54 50.03 L174.29 49.63 L175.04 49.23 L175.79 48.83 L176.54 48.43 L177.29 48.04 L178.04 47.64 L178.79 47.25 L179.54 46.86 L180.29 46.47 L181.04 46.08 L181.79 45.69 L182.54 45.30 L183.29 44.91 L184.04 44.53 L184.79 44.14 L185.54 43.76 L186.29 43.38 L187.04 43.00 L187.79 42.62 L188.54 42.24 L189.29 41.86 L190.04 41.48 L190.79 41.09 L191.54 40.66 L192.29 40.20 L193.04 39.73 L193.79 39.25 L194.54 38.76 L195.29 38.27 L196.04 37.78 L196.79 37.31 L197.54 36.86 L198.29 36.44 L199.04 36.05 L199.79 35.69 L200.54 35.37 L201.29 35.06 L202.04 34.75 L202.79 34.44 L203.54 34.13 L204.29 33.83 L205.04 33.53 L205.79 33.23 L206.54 32.94 L207.29 32.65 L208.04 32.36 L208.79 32.07 L209.54 31.79 L210.29 31.51 L211.04 31.23 L211.79 30.96 L212.54 30.68 L213.29 30.41 L214.04 30.14 L214.79 29.87 L215.54 29.61 L216.29 29.34 L217.04 29.08 L217.79 28.82 L218.54 28.57 L219.29 28.31 L220.04 28.05 L220.79 27.80 L221.54 27.55 L222.29 27.30 L223.04 27.05 L223.79 26.80 L224.54 26.56 L225.29 26.31 L226.04 26.07 L226.79 25.83 L227.54 25.59 L228.29 25.35 L229.04 25.11 L229.79 24.87 L230.54 24.63 L231.29 24.41 L232.04 24.20 L232.79 24.00 L233.54 23.81 L234.29 23.62 L235.04 23.43 L235.79 23.25 L236.54 23.08 L237.29 22.90 L238.04 22.72 L238.79 22.53 L239.54 22.34 L240.29 22.14 L241.04 21.93 L241.79 21.72 L242.54 21.49 L243.29 21.25 L244.04 20.99 L244.79 20.72 L245.54 20.46 L246.29 20.19 L247.04 19.92 L247.79 19.65 L248.00 19.57 Q251.20 19.57 251.20 22.77 L251.20 99.30" stroke="#3463bb" stroke-width="1.15" fill="none" stroke-linejoin="round"/>
<path d="M52.79 207.20 L53.54 205.01 L54.29 202.33 L55.04 199.86 L55.79 197.48 L56.54 195.15 L57.29 192.87 L58.04 190.64 L58.79 188.45 L59.54 186.30 L60.29 184.21 L61.04 182.16 L61.79 180.16 L62.54 178.20 L63.29 176.29 L64.04 174.41 L64.79 172.57 L65.54 170.76 L66.29 168.99 L67.04 167.24 L67.79 165.51 L68.54 163.81 L69.29 162.13 L70.04 160.47 L70.79 158.81 L71.54 157.18 L72.29 155.55 L73.04 153.92 L73.79 152.30 L74.54 150.69 L75.29 149.08 L76.04 147.48 L76.79 145.90 L77.54 144.33 L78.29 142.79 L79.04 141.27 L79.79 139.77 L80.54 138.31 L81.29 136.88 L82.04 135.48 L82.79 134.12 L83.54 132.78 L84.29 131.46 L85.04 130.16 L85.79 128.87 L86.54 127.61 L87.29 126.36 L88.04 125.12 L88.79 123.91 L89.54 122.71 L90.29 121.52 L91.04 120.35 L91.79 119.20 L92.54 118.06 L93.29 116.94 L94.04 115.83 L94.79 114.74 L95.54 113.66 L96.29 112.60 L97.04 111.54 L97.79 110.51 L98.54 109.48 L99.29 108.47 L100.04 107.47 L100.79 106.49 L101.54 105.52 L102.29 104.56 L103.04 103.61 L103.79 102.67 L104.54 101.75 L105.29 100.83 L106.04 99.93 L106.79 99.04 L107.54 98.16 L108.29 97.29 L109.04 96.43 L109.79 95.58 L110.54 94.74 L111.29 93.91 L112.04 93.09 L112.79 92.29 L113.54 91.49 L114.29 90.70 L115.04 89.91 L115.79 89.14 L116.54 88.38 L117.29 87.62 L118.04 86.88 L118.79 86.14 L119.54 85.41 L120.29 84.69 L121.04 83.98 L121.79 83.27 L122.54 82.58 L123.29 81.89 L124.04 81.20 L124.79 80.53 L125.54 79.86 L126.29 79.20 L127.04 78.55 L127.79 77.90 L128.54 77.26 L129.29 76.63 L130.04 76.00 L130.79 75.38 L131.54 74.76 L132.29 74.16 L133.04 73.55 L133.79 72.96 L134.54 72.37 L135.29 71.78 L136.04 71.21 L136.79 70.63 L137.54 70.07 L138.29 69.50 L139.04 68.95 L139.79 68.39 L140.54 67.85 L141.29 67.31 L142.04 66.77 L142.79 66.24 L143.54 65.71 L144.29 65.19 L145.04 64.67 L145.79 64.16 L146.54 63.65 L147.29 63.15 L148.04 62.65 L148.79 62.15 L149.54 61.66 L150.29 61.17 L151.04 60.69 L151.79 60.21 L152.54 59.73 L153.29 59.26 L154.04 58.79 L154.79 58.33 L155.54 57.87 L156.29 57.41 L157.04 56.96 L157.79 56.51 L158.54 56.06 L159.29 55.62 L160.04 55.18 L160.79 54.74 L161.54 54.30 L162.29 53.87 L163.04 53.44 L163.79 53.01 L164.54 52.58 L165.29 52.15 L166.04 51.72 L166.79 51.30 L167.54 50.87 L168.29 50.45 L169.04 50.03 L169.79 49.61 L170.54 49.19 L171.29 48.78 L172.04 48.36 L172.79 47.95 L173.54 47.54 L174.29 47.13 L175.04 46.72 L175.79 46.31 L176.54 45.91 L177.29 45.50 L178.04 45.10 L178.79 44.70 L179.54 44.30 L180.29 43.91 L181.04 43.51 L181.79 43.11 L182.54 42.72 L183.29 42.33 L184.04 41.94 L184.79 41.55 L185.54 41.17 L186.29 40.78 L187.04 40.40 L187.79 40.02 L188.54 39.64 L189.29 39.26 L190.04 38.88 L190.79 38.50 L191.54 38.11 L192.29 37.71 L193.04 37.31 L193.79 36.91 L194.54 36.51 L195.29 36.11 L196.04 35.72 L196.79 35.33 L197.54 34.95 L198.29 34.58 L199.04 34.23 L199.79 33.89 L200.54 33.57 L201.29 33.25 L202.04 32.94 L202.79 32.62 L203.54 32.32 L204.29 32.02 L205.04 31.72 L205.79 31.43 L206.54 31.14 L207.29 30.86 L208.04 30.58 L208.79 30.31 L209.54 30.04 L210.29 29.78 L211.04 29.53 L211.79 29.28 L212.54 29.03 L213.29 28.80 L214.04 28.56 L214.79 28.34 L215.54 28.11 L216.29 27.90 L217.04 27.69 L217.79 27.49 L218.54 27.29 L219.29 27.11 L220.00 26.93 Q223.20 26.93 223.20 30.13 L223.20 101.20" stroke="#2d42ae" stroke-width="1.15" fill="none" stroke-linejoin="round"/>
<path d="M52.79 207.20 L53.54 206.41 L54.29 204.61 L55.04 202.33 L55.79 199.87 L56.54 197.38 L57.29 194.93 L58.04 192.56 L58.79 190.26 L59.54 188.04 L60.29 185.88 L61.04 183.79 L61.79 181.75 L62.54 179.76 L63.29 177.81 L64.04 175.90 L64.79 174.03 L65.54 172.19 L66.29 170.37 L67.04 168.59 L67.79 166.83 L68.54 165.10 L69.29 163.39 L70.04 161.70 L70.79 160.04 L71.54 158.40 L72.29 156.79 L73.04 155.19 L73.79 153.61 L74.54 152.05 L75.29 150.51 L76.04 148.98 L76.79 147.47 L77.54 145.98 L78.29 144.50 L79.04 143.05 L79.79 141.61 L80.54 140.20 L81.29 138.81 L82.04 137.43 L82.79 136.09 L83.54 134.76 L84.29 133.46 L85.04 132.17 L85.79 130.90 L86.54 129.64 L87.29 128.40 L88.04 127.18 L88.79 125.98 L89.54 124.79 L90.29 123.61 L91.04 122.45 L91.79 121.31 L92.54 120.18 L93.29 119.06 L94.04 117.96 L94.79 116.88 L95.54 115.80 L96.29 114.74 L97.04 113.70 L97.79 112.66 L98.54 111.64 L99.29 110.64 L100.04 109.64 L100.79 108.66 L101.54 107.69 L102.29 106.73 L103.04 105.79 L103.79 104.85 L104.54 103.93 L105.29 103.02 L106.04 102.12 L106.79 101.23 L107.54 100.35 L108.29 99.48 L109.04 98.62 L109.79 97.77 L110.54 96.93 L111.29 96.11 L112.04 95.29 L112.79 94.48 L113.54 93.68 L114.29 92.89 L115.04 92.11 L115.79 91.34 L116.54 90.57 L117.29 89.82 L118.04 89.07 L118.79 88.34 L119.54 87.61 L120.29 86.89 L121.04 86.17 L121.79 85.47 L122.54 84.77 L123.29 84.08 L124.04 83.40 L124.79 82.73 L125.54 82.06 L126.29 81.40 L127.04 80.75 L127.79 80.10 L128.54 79.46 L129.29 78.83 L130.04 78.20 L130.79 77.59 L131.54 76.97 L132.29 76.37 L133.04 75.77 L133.79 75.17 L134.54 74.59 L135.29 74.00 L136.04 73.43 L136.79 72.86 L137.54 72.29 L138.29 71.73 L139.04 71.18 L139.79 70.63 L140.54 70.09 L141.29 69.55 L142.04 69.02 L142.79 68.49 L143.54 67.97 L144.29 67.45 L145.04 66.94 L145.79 66.43 L146.54 65.93 L147.29 65.43 L148.04 64.93 L148.79 64.44 L149.54 63.96 L150.29 63.48 L151.04 63.00 L151.79 62.53 L152.54 62.06 L153.29 61.59 L154.04 61.13 L154.79 60.67 L155.54 60.22 L156.29 59.77 L157.04 59.33 L157.79 58.88 L158.54 58.45 L159.29 58.01 L160.04 57.58 L160.79 57.15 L161.54 56.72 L162.29 56.30 L163.04 55.87 L163.79 55.45 L164.54 55.03 L165.29 54.61 L166.04 54.19 L166.79 53.78 L167.54 53.36 L168.29 52.95 L169.04 52.54 L169.79 52.13 L170.54 51.72 L171.29 51.31 L172.04 50.90 L172.79 50.50 L173.54 50.09 L174.29 49.69 L175.04 49.29 L175.79 48.89 L176.54 48.49 L177.29 48.09 L178.04 47.69 L178.79 47.30 L179.54 46.90 L180.29 46.51 L181.04 46.12 L181.79 45.72 L182.54 45.33 L183.29 44.94 L184.04 44.55 L184.79 44.17 L185.54 43.78 L186.29 43.40 L187.04 43.01 L187.79 42.63 L188.54 42.24 L189.29 41.86 L190.04 41.48 L190.79 41.08 L191.54 40.65 L192.29 40.19 L193.04 39.71 L193.79 39.22 L194.54 38.73 L195.29 38.24 L196.04 37.75 L196.79 37.28 L197.54 36.83 L198.29 36.42 L199.04 36.03 L199.79 35.69 L200.54 35.38 L201.29 35.08 L202.04 34.78 L202.79 34.48 L203.54 34.19 L204.29 33.89 L205.04 33.60 L205.79 33.31 L206.54 33.02 L207.29 32.74 L208.04 32.45 L208.79 32.17 L209.54 31.89 L210.29 31.61 L211.04 31.33 L211.79 31.05 L212.54 30.78 L213.29 30.51 L214.04 30.23 L214.79 29.97 L215.54 29.70 L216.29 29.43 L217.04 29.17 L217.79 28.90 L218.54 28.64 L219.29 28.38 L220.04 28.12 L220.79 27.86 L221.54 27.61 L222.29 27.35 L223.04 27.10 L223.79 26.84 L224.54 26.59 L225.29 26.34 L226.04 26.09 L226.79 25.85 L227.54 25.60 L228.29 25.36 L229.04 25.11 L229.79 24.87 L230.54 24.63 L231.29 24.39 L232.04 24.16 L232.79 23.94 L233.54 23.72 L234.29 23.50 L235.04 23.29 L235.79 23.09 L236.54 22.88 L237.29 22.68 L238.04 22.49 L238.79 22.29 L239.54 22.10 L240.29 21.91 L241.04 21.73 L241.79 21.54 L242.54 21.36 L243.29 21.17 L244.04 20.99 L244.79 20.81 L245.54 20.64 L246.29 20.47 L247.04 20.30 L247.79 20.14 L248.54 19.99 L249.29 19.84 L250.04 19.69 L250.79 19.54 L251.54 19.40 L252.29 19.26 L253.04 19.13 L253.79 18.99 L254.54 18.86 L255.10 18.77 Q258.30 18.77 258.30 21.97 L258.30 94.90" stroke="#2a37a0" stroke-width="1.15" fill="none" stroke-linejoin="round"/>
<path d="M53.15 207.20 L53.90 206.74 L54.65 205.55 L55.40 203.89 L56.15 201.94 L56.90 199.81 L57.65 197.60 L58.40 195.36 L59.15 193.12 L59.90 190.92 L60.65 188.76 L61.40 186.65 L62.15 184.59 L62.90 182.58 L63.65 180.61 L64.40 178.69 L65.15 176.81 L65.90 174.96 L66.65 173.16 L67.40 171.39 L68.15 169.65 L68.90 167.95 L69.65 166.28 L70.40 164.64 L71.15 163.04 L71.90 161.47 L72.65 159.93 L73.40 158.42 L74.15 156.94 L74.90 155.50 L75.65 154.09 L76.40 152.72 L77.15 151.40 L77.90 150.11 L78.65 148.87 L79.40 147.66 L80.15 146.48 L80.90 145.32 L81.65 144.19 L82.40 143.08 L83.15 141.98 L83.90 140.89 L84.65 139.81 L85.40 138.74 L86.15 137.67 L86.90 136.59 L87.65 135.51 L88.40 134.42 L89.15 133.34 L89.90 132.28 L90.65 131.23 L91.40 130.19 L92.15 129.17 L92.90 128.17 L93.65 127.17 L94.40 126.19 L95.15 125.22 L95.90 124.27 L96.65 123.33 L97.40 122.40 L98.15 121.48 L98.90 120.57 L99.65 119.68 L100.40 118.79 L101.15 117.92 L101.90 117.06 L102.65 116.21 L103.40 115.37 L104.15 114.54 L104.90 113.72 L105.65 112.92 L106.40 112.12 L107.15 111.33 L107.90 110.55 L108.65 109.78 L109.40 109.02 L110.15 108.27 L110.90 107.53 L111.65 106.80 L112.40 106.08 L113.15 105.36 L113.90 104.65 L114.65 103.96 L115.40 103.27 L116.15 102.59 L116.90 101.91 L117.65 101.25 L118.40 100.59 L119.15 99.94 L119.90 99.30 L120.65 98.66 L121.40 98.03 L122.15 97.41 L122.90 96.80 L123.65 96.19 L124.40 95.59 L125.15 94.99 L125.90 94.41 L126.65 93.83 L127.40 93.25 L128.15 92.69 L128.90 92.12 L129.65 91.57 L130.40 91.02 L131.15 90.48 L131.90 89.94 L132.65 89.41 L133.40 88.88 L134.15 88.36 L134.90 87.84 L135.65 87.33 L136.40 86.83 L137.15 86.33 L137.90 85.84 L138.65 85.35 L139.40 84.86 L140.15 84.38 L140.90 83.91 L141.65 83.44 L142.40 82.98 L143.15 82.52 L143.90 82.06 L144.65 81.61 L145.40 81.17 L146.15 80.72 L146.90 80.29 L147.65 79.85 L148.40 79.43 L149.15 79.00 L149.90 78.58 L150.65 78.16 L151.40 77.75 L152.15 77.34 L152.90 76.94 L153.65 76.54 L154.40 76.14 L155.15 75.75 L155.90 75.36 L156.65 74.98 L157.40 74.59 L158.15 74.22 L158.90 73.84 L159.65 73.47 L160.40 73.10 L161.15 72.74 L161.90 72.38 L162.65 72.02 L163.40 71.66 L164.15 71.31 L164.90 70.96 L165.65 70.61 L166.40 70.27 L167.15 69.92 L167.90 69.58 L168.65 69.25 L169.40 68.91 L170.15 68.58 L170.90 68.25 L171.65 67.92 L172.40 67.60 L173.15 67.27 L173.90 66.95 L174.65 66.64 L175.40 66.32 L176.15 66.00 L176.90 65.69 L177.65 65.38 L178.40 65.08 L179.15 64.77 L179.90 64.47 L180.65 64.16 L181.40 63.86 L182.15 63.57 L182.90 63.27 L183.65 62.98 L184.40 62.68 L185.15 62.39 L185.90 62.10 L186.65 61.82 L187.40 61.53 L188.15 61.25 L188.90 60.97 L189.65 60.69 L190.40 60.41 L191.15 60.13 L191.90 59.85 L192.65 59.58 L193.40 59.31 L194.15 59.04 L194.90 58.77 L195.65 58.50 L196.40 58.23 L197.15 57.97 L197.90 57.70 L198.65 57.44 L199.40 57.18 L200.15 56.92 L200.90 56.66 L201.65 56.41 L202.40 56.15 L203.15 55.90 L203.90 55.64 L204.65 55.39 L205.40 55.14 L206.15 54.89 L206.90 54.64 L207.65 54.40 L208.40 54.15 L209.15 53.90 L209.40 53.82 Q212.60 53.82 212.60 57.02 L212.60 120.70" stroke="#262e8e" stroke-width="1.15" fill="none" stroke-linejoin="round"/>
<path d="M53.52 207.20 L54.27 206.97 L55.02 206.33 L55.77 205.36 L56.52 204.12 L57.27 202.69 L58.02 201.10 L58.77 199.39 L59.52 197.60 L60.27 195.74 L61.02 193.85 L61.77 191.94 L62.52 190.02 L63.27 188.11 L64.02 186.21 L64.77 184.33 L65.52 182.48 L66.27 180.65 L67.02 178.85 L67.77 177.08 L68.52 175.35 L69.27 173.65 L70.02 171.99 L70.77 170.36 L71.52 168.77 L72.27 167.21 L73.02 165.68 L73.77 164.19 L74.52 162.73 L75.27 161.31 L76.02 159.92 L76.77 158.55 L77.52 157.22 L78.27 155.92 L79.02 154.64 L79.77 153.39 L80.52 152.17 L81.27 150.98 L82.02 149.82 L82.77 148.68 L83.52 147.56 L84.27 146.46 L85.02 145.39 L85.77 144.34 L86.52 143.30 L87.27 142.28 L88.02 141.28 L88.77 140.30 L89.52 139.33 L90.27 138.38 L91.02 137.43 L91.77 136.50 L92.52 135.59 L93.27 134.68 L94.02 133.78 L94.77 132.90 L95.52 132.04 L96.27 131.18 L97.02 130.34 L97.77 129.51 L98.52 128.69 L99.27 127.89 L100.02 127.09 L100.77 126.31 L101.52 125.54 L102.27 124.78 L103.02 124.02 L103.77 123.28 L104.52 122.55 L105.27 121.83 L106.02 121.12 L106.77 120.42 L107.52 119.73 L108.27 119.05 L109.02 118.38 L109.77 117.71 L110.52 117.06 L111.27 116.41 L112.02 115.77 L112.77 115.14 L113.52 114.52 L114.27 113.91 L115.02 113.30 L115.77 112.70 L116.52 112.11 L117.27 111.52 L118.02 110.95 L118.77 110.38 L119.52 109.81 L120.27 109.26 L121.02 108.71 L121.77 108.17 L122.52 107.63 L123.27 107.10 L124.02 106.57 L124.77 106.06 L125.52 105.55 L126.27 105.04 L127.02 104.54 L127.77 104.05 L128.52 103.56 L129.27 103.07 L130.02 102.60 L130.77 102.12 L131.52 101.66 L132.27 101.19 L133.02 100.74 L133.77 100.28 L134.52 99.84 L135.27 99.39 L136.02 98.96 L136.77 98.52 L137.52 98.09 L138.27 97.67 L139.02 97.25 L139.77 96.83 L140.52 96.42 L141.27 96.02 L142.02 95.61 L142.77 95.21 L143.52 94.82 L144.27 94.43 L145.02 94.04 L145.77 93.65 L146.52 93.27 L147.27 92.90 L148.02 92.53 L148.77 92.16 L149.52 91.79 L150.27 91.43 L151.02 91.07 L151.77 90.71 L152.52 90.36 L153.27 90.01 L154.02 89.66 L154.77 89.32 L155.52 88.98 L156.27 88.64 L157.02 88.30 L157.77 87.97 L158.52 87.64 L159.27 87.32 L160.02 86.99 L160.77 86.67 L161.52 86.35 L162.27 86.04 L163.02 85.72 L163.77 85.41 L164.52 85.10 L165.27 84.80 L166.02 84.49 L166.77 84.19 L167.52 83.89 L168.27 83.59 L169.02 83.29 L169.77 83.00 L170.52 82.71 L171.27 82.42 L172.02 82.13 L172.77 81.85 L173.52 81.56 L174.27 81.28 L175.02 81.00 L175.77 80.72 L176.52 80.44 L177.27 80.17 L178.02 79.90 L178.77 79.62 L179.52 79.35 L180.27 79.09 L181.02 78.82 L181.77 78.55 L182.52 78.29 L183.27 78.03 L184.02 77.77 L184.77 77.51 L185.52 77.25 L186.27 76.99 L187.02 76.74 L187.77 76.48 L188.52 76.23 L189.27 75.98 L190.02 75.73 L190.77 75.48 L191.52 75.23 L192.27 74.99 L193.02 74.74 L193.77 74.50 L194.52 74.25 L195.27 74.01 L196.02 73.77 L196.77 73.53 L197.52 73.29 L198.27 73.06 L199.02 72.82 L199.77 72.58 L200.52 72.35 L201.27 72.11 L202.02 71.88 L202.77 71.65 L203.52 71.42 L204.27 71.19 L205.02 70.96 L205.77 70.73 L206.52 70.51 L207.27 70.28 L208.02 70.05 L208.77 69.83 L209.52 69.60 L210.27 69.38 L211.02 69.16 L211.77 68.94 L212.52 68.72 L213.27 68.50 L214.02 68.28 L214.77 68.06 L215.52 67.84 L216.27 67.62 L217.02 67.40 L217.77 67.19 L218.52 66.97 L219.27 66.76 L220.02 66.54 L220.77 66.33 L221.52 66.12 L222.27 65.90 L223.02 65.69 L223.77 65.48 L224.52 65.27 L225.27 65.06 L226.02 64.85 L226.77 64.64 L227.52 64.43 L228.27 64.22 L229.02 64.02 L229.77 63.81 L230.52 63.60 L231.27 63.40 L232.02 63.19 L232.77 62.99 L233.52 62.78 L234.27 62.58 L235.02 62.37 L235.77 62.17 L236.52 61.97 L237.27 61.76 L238.02 61.56 L238.77 61.36 L239.52 61.16 L240.27 60.96 L241.02 60.75 L241.77 60.55 L242.52 60.35 L243.27 60.15 L244.02 59.95 L244.77 59.76 L245.52 59.56 L246.27 59.36 L247.02 59.16 L247.77 58.96 L248.52 58.77 L249.27 58.57 L250.02 58.37 L250.77 58.17 L251.52 57.98 L252.27 57.78 L253.02 57.59 L253.77 57.39 L254.52 57.20 L255.27 57.00 L256.02 56.81 L256.77 56.61 L257.52 56.42 L258.27 56.22 L259.02 56.03 L259.77 55.84 L260.52 55.64 L261.27 55.45 L262.02 55.26 L262.77 55.07 L263.52 54.87 L264.27 54.68 L265.02 54.49 L265.77 54.30 L266.52 54.11 L267.27 53.92 L267.90 53.75 Q271.10 53.75 271.10 56.95 L271.10 115.90" stroke="#212577" stroke-width="1.15" fill="none" stroke-linejoin="round"/>
<path d="M399.49 206.40 L400.24 204.95 L400.99 203.11 L401.74 201.46 L402.49 199.86 L403.24 198.27 L403.99 196.69 L404.74 195.10 L405.49 193.49 L406.24 191.85 L406.99 190.18 L407.74 188.45 L408.49 186.67 L409.24 184.82 L409.99 182.96 L410.74 181.12 L411.49 179.31 L412.24 177.52 L412.99 175.76 L413.74 174.02 L414.49 172.31 L415.24 170.63 L415.99 168.98 L416.74 167.35 L417.49 165.76 L418.24 164.19 L418.99 162.66 L419.74 161.16 L420.49 159.69 L421.24 158.25 L421.99 156.83 L422.74 155.43 L423.49 154.05 L424.24 152.70 L424.99 151.37 L425.74 150.05 L426.49 148.76 L427.24 147.49 L427.99 146.23 L428.74 145.00 L429.49 143.79 L430.24 142.59 L430.99 141.41 L431.74 140.25 L432.49 139.11 L433.24 137.99 L433.99 136.88 L434.74 135.79 L435.49 134.72 L436.24 133.67 L436.99 132.63 L437.74 131.61 L438.49 130.60 L439.24 129.61 L439.99 128.64 L440.74 127.68 L441.49 126.74 L442.24 125.82 L442.99 124.91 L443.74 124.01 L444.49 123.13 L445.24 122.27 L445.99 121.42 L446.74 120.59 L447.49 119.77 L448.24 118.96 L448.99 118.17 L449.74 117.40 L450.49 116.64 L451.24 115.90 L451.99 115.17 L452.74 114.45 L453.49 113.75 L454.24 113.05 L454.99 112.36 L455.74 111.68 L456.49 111.01 L457.24 110.35 L457.99 109.69 L458.74 109.05 L459.49 108.41 L460.24 107.78 L460.99 107.16 L461.74 106.54 L462.49 105.93 L463.24 105.33 L463.99 104.74 L464.74 104.15 L465.49 103.57 L466.24 103.00 L466.99 102.43 L467.74 101.87 L468.49 101.32 L469.24 100.77 L469.99 100.23 L470.74 99.69 L471.49 99.16 L472.24 98.64 L472.99 98.12 L473.74 97.61 L474.49 97.11 L475.24 96.61 L475.99 96.11 L476.74 95.62 L477.49 95.14 L478.24 94.66 L478.99 94.19 L479.74 93.72 L480.49 93.26 L481.24 92.80 L481.99 92.34 L482.74 91.90 L483.49 91.45 L484.24 91.01 L484.99 90.57 L485.74 90.14 L486.49 89.71 L487.24 89.28 L487.99 88.86 L488.74 88.44 L489.49 88.03 L490.24 87.61 L490.99 87.20 L491.74 86.80 L492.49 86.39 L493.24 85.99 L493.99 85.59 L494.74 85.19 L495.49 84.80 L496.24 84.40 L496.99 84.01 L497.74 83.62 L498.49 83.24 L499.24 82.85 L499.99 82.46 L500.74 82.08 L501.49 81.70 L502.24 81.31 L502.99 80.93 L503.74 80.55 L504.49 80.17 L505.24 79.80 L505.99 79.42 L506.74 79.04 L507.49 78.66 L508.24 78.29 L508.99 77.91 L509.74 77.53 L510.49 77.15 L511.24 76.78 L511.99 76.40 L512.74 76.02 L513.49 75.65 L514.24 75.27 L514.99 74.89 L515.74 74.51 L516.49 74.14 L517.24 73.76 L517.99 73.38 L518.74 73.01 L519.49 72.63 L520.24 72.25 L520.99 71.88 L521.74 71.50 L522.49 71.12 L523.24 70.75 L523.99 70.37 L524.74 69.99 L525.49 69.62 L526.24 69.24 L526.99 68.86 L527.74 68.49 L528.49 68.11 L529.24 67.74 L529.99 67.36 L530.74 66.99 L531.49 66.61 L532.24 66.24 L532.99 65.87 L533.74 65.49 L534.49 65.12 L535.24 64.74 L535.99 64.37 L536.74 64.00 L537.49 63.63 L538.24 63.26 L538.99 62.88 L539.74 62.51 L540.49 62.14 L541.24 61.77 L541.99 61.40 L542.74 61.04 L543.49 60.67 L544.24 60.30 L544.99 59.93 L545.74 59.57 L546.49 59.20 L547.24 58.84 L547.99 58.47 L548.74 58.11 L549.49 57.74 L550.24 57.38 L550.99 57.02 L551.74 56.66 L552.49 56.30 L553.24 55.94 L553.99 55.58 L554.74 55.23 L555.49 54.87 L556.24 54.52 L556.99 54.16 L557.74 53.81 L558.49 53.46 L559.24 53.10 L559.99 52.75 L560.74 52.41 L561.49 52.06 L562.24 51.71 L562.99 51.37 L563.74 51.02 L564.49 50.68 L565.24 50.34 L565.99 50.00 L566.74 49.66 L567.49 49.32 L568.24 48.98 L568.99 48.65 L569.74 48.32 L570.49 47.98 L571.24 47.65 L571.99 47.32 L572.74 46.99 L573.49 46.66 L574.24 46.33 L574.99 46.01 L575.74 45.68 L576.49 45.35 L577.24 45.03 L577.99 44.70 L578.74 44.38 L579.49 44.05 L580.24 43.73 L580.99 43.41 L581.74 43.09 L582.49 42.77 L583.24 42.45 L583.99 42.13 L584.74 41.81 L585.49 41.49 L586.24 41.17 L586.99 40.85 L587.74 40.53 L588.49 40.22 L589.24 39.90 L589.99 39.59 L590.74 39.27 L591.49 38.96 L592.24 38.64 L592.99 38.33 L593.74 38.02 L594.49 37.71 L595.24 37.40 L595.99 37.09 L596.74 36.77 L597.49 36.47 L598.24 36.16 L598.99 35.85 L599.74 35.54 L600.49 35.23 L601.24 34.92 L601.99 34.62 L602.74 34.31 L603.49 34.01 L604.24 33.70 L604.99 33.40 L605.30 33.27 Q608.50 33.27 608.50 36.47 L608.50 109.60" stroke="#eef47f" stroke-width="1.15" fill="none" stroke-linejoin="round"/>
<path d="M399.49 206.40 L400.24 204.78 L400.99 202.75 L401.74 200.92 L402.49 199.15 L403.24 197.40 L403.99 195.65 L404.74 193.89 L405.49 192.11 L406.24 190.29 L406.99 188.42 L407.74 186.50 L408.49 184.51 L409.24 182.52 L409.99 180.57 L410.74 178.66 L411.49 176.79 L412.24 174.95 L412.99 173.14 L413.74 171.37 L414.49 169.63 L415.24 167.93 L415.99 166.26 L416.74 164.61 L417.49 163.01 L418.24 161.43 L418.99 159.88 L419.74 158.36 L420.49 156.86 L421.24 155.39 L421.99 153.94 L422.74 152.52 L423.49 151.12 L424.24 149.75 L424.99 148.39 L425.74 147.06 L426.49 145.75 L427.24 144.46 L427.99 143.19 L428.74 141.94 L429.49 140.71 L430.24 139.51 L430.99 138.32 L431.74 137.15 L432.49 136.00 L433.24 134.87 L433.99 133.75 L434.74 132.66 L435.49 131.58 L436.24 130.52 L436.99 129.48 L437.74 128.45 L438.49 127.44 L439.24 126.45 L439.99 125.48 L440.74 124.52 L441.49 123.57 L442.24 122.65 L442.99 121.74 L443.74 120.84 L444.49 119.96 L445.24 119.10 L445.99 118.25 L446.74 117.41 L447.49 116.60 L448.24 115.79 L448.99 115.00 L449.74 114.23 L450.49 113.47 L451.24 112.71 L451.99 111.97 L452.74 111.24 L453.49 110.53 L454.24 109.82 L454.99 109.12 L455.74 108.43 L456.49 107.75 L457.24 107.08 L457.99 106.42 L458.74 105.77 L459.49 105.13 L460.24 104.49 L460.99 103.86 L461.74 103.24 L462.49 102.63 L463.24 102.03 L463.99 101.43 L464.74 100.84 L465.49 100.25 L466.24 99.67 L466.99 99.10 L467.74 98.53 L468.49 97.97 L469.24 97.41 L469.99 96.86 L470.74 96.32 L471.49 95.77 L472.24 95.24 L472.99 94.70 L473.74 94.18 L474.49 93.65 L475.24 93.13 L475.99 92.62 L476.74 92.11 L477.49 91.60 L478.24 91.10 L478.99 90.60 L479.74 90.11 L480.49 89.62 L481.24 89.13 L481.99 88.65 L482.74 88.17 L483.49 87.70 L484.24 87.22 L484.99 86.75 L485.74 86.29 L486.49 85.82 L487.24 85.36 L487.99 84.91 L488.74 84.45 L489.49 84.00 L490.24 83.55 L490.99 83.11 L491.74 82.66 L492.49 82.22 L493.24 81.78 L493.99 81.35 L494.74 80.91 L495.49 80.48 L496.24 80.05 L496.99 79.62 L497.74 79.20 L498.49 78.77 L499.24 78.35 L499.99 77.93 L500.74 77.52 L501.49 77.10 L502.24 76.69 L502.99 76.27 L503.74 75.86 L504.49 75.46 L505.24 75.05 L505.99 74.64 L506.74 74.24 L507.49 73.84 L508.24 73.44 L508.99 73.04 L509.74 72.64 L510.49 72.24 L511.24 71.84 L511.99 71.45 L512.74 71.05 L513.49 70.65 L514.24 70.25 L514.99 69.86 L515.74 69.46 L516.49 69.06 L517.24 68.66 L517.99 68.26 L518.74 67.87 L519.49 67.47 L520.24 67.07 L520.99 66.67 L521.74 66.28 L522.49 65.88 L523.24 65.48 L523.99 65.08 L524.74 64.69 L525.49 64.29 L526.24 63.89 L526.99 63.50 L527.74 63.10 L528.49 62.71 L529.24 62.31 L529.99 61.92 L530.74 61.52 L531.49 61.13 L532.24 60.74 L532.99 60.35 L533.74 59.95 L534.49 59.56 L535.24 59.17 L535.99 58.78 L536.74 58.39 L537.49 58.01 L538.24 57.62 L538.99 57.23 L539.74 56.85 L540.49 56.46 L541.24 56.08 L541.99 55.70 L542.74 55.32 L543.49 54.94 L544.24 54.56 L544.99 54.18 L545.74 53.81 L546.49 53.43 L547.24 53.06 L547.99 52.69 L548.74 52.32 L549.49 51.95 L550.24 51.58 L550.99 51.21 L551.74 50.85 L552.49 50.49 L553.24 50.13 L553.99 49.77 L554.74 49.41 L555.49 49.05 L556.24 48.70 L556.99 48.35 L557.74 48.00 L558.49 47.65 L559.24 47.31 L559.99 46.96 L560.74 46.62 L561.49 46.28 L562.24 45.94 L562.99 45.61 L563.74 45.28 L564.49 44.95 L565.24 44.62 L565.99 44.29 L566.74 43.97 L567.49 43.65 L568.24 43.33 L568.99 43.02 L569.74 42.71 L570.49 42.40 L571.24 42.09 L571.99 41.79 L572.74 41.49 L573.49 41.19 L574.24 40.90 L574.99 40.60 L575.74 40.31 L576.49 40.03 L577.24 39.74 L577.99 39.46 L578.74 39.18 L579.49 38.91 L580.24 38.63 L580.99 38.36 L581.74 38.09 L582.49 37.82 L583.24 37.56 L583.99 37.29 L584.74 37.03 L585.49 36.78 L586.24 36.52 L586.99 36.27 L587.74 36.02 L588.49 35.77 L589.24 35.52 L589.99 35.27 L590.74 35.03 L591.49 34.79 L592.24 34.55 L592.99 34.31 L593.74 34.08 L594.49 33.85 L595.24 33.61 L595.99 33.38 L596.74 33.16 L597.49 32.93 L598.24 32.70 L598.99 32.48 L599.74 32.26 L600.49 32.04 L601.24 31.82 L601.99 31.61 L602.74 31.39 L603.49 31.18 L604.24 30.97 L604.99 30.76 L605.74 30.55 L606.49 30.34 L607.24 30.13 L607.99 29.93 L608.74 29.72 L609.49 29.52 L610.24 29.32 L610.99 29.12 L611.74 28.92 L612.20 28.80 Q615.40 28.80 615.40 32.00 L615.40 100.60" stroke="#d9ee8a" stroke-width="1.15" fill="none" stroke-linejoin="round"/>
<path d="M399.49 206.40 L400.24 204.87 L400.99 202.94 L401.74 201.21 L402.49 199.53 L403.24 197.87 L403.99 196.21 L404.74 194.54 L405.49 192.85 L406.24 191.13 L406.99 189.36 L407.74 187.55 L408.49 185.66 L409.24 183.73 L409.99 181.82 L410.74 179.94 L411.49 178.09 L412.24 176.27 L412.99 174.49 L413.74 172.73 L414.49 171.01 L415.24 169.32 L415.99 167.66 L416.74 166.03 L417.49 164.42 L418.24 162.86 L418.99 161.32 L419.74 159.81 L420.49 158.33 L421.24 156.87 L421.99 155.44 L422.74 154.03 L423.49 152.64 L424.24 151.28 L424.99 149.94 L425.74 148.61 L426.49 147.31 L427.24 146.03 L427.99 144.77 L428.74 143.53 L429.49 142.31 L430.24 141.11 L430.99 139.92 L431.74 138.76 L432.49 137.61 L433.24 136.49 L433.99 135.38 L434.74 134.28 L435.49 133.21 L436.24 132.15 L436.99 131.11 L437.74 130.09 L438.49 129.08 L439.24 128.09 L439.99 127.12 L440.74 126.16 L441.49 125.22 L442.24 124.29 L442.99 123.38 L443.74 122.49 L444.49 121.61 L445.24 120.74 L445.99 119.89 L446.74 119.06 L447.49 118.24 L448.24 117.44 L448.99 116.65 L449.74 115.88 L450.49 115.12 L451.24 114.38 L451.99 113.64 L452.74 112.92 L453.49 112.21 L454.24 111.50 L454.99 110.81 L455.74 110.13 L456.49 109.45 L457.24 108.79 L457.99 108.13 L458.74 107.48 L459.49 106.84 L460.24 106.21 L460.99 105.58 L461.74 104.96 L462.49 104.36 L463.24 103.75 L463.99 103.16 L464.74 102.57 L465.49 101.99 L466.24 101.41 L466.99 100.85 L467.74 100.28 L468.49 99.73 L469.24 99.18 L469.99 98.63 L470.74 98.09 L471.49 97.56 L472.24 97.03 L472.99 96.51 L473.74 95.99 L474.49 95.48 L475.24 94.97 L475.99 94.46 L476.74 93.97 L477.49 93.47 L478.24 92.98 L478.99 92.50 L479.74 92.01 L480.49 91.54 L481.24 91.06 L481.99 90.59 L482.74 90.13 L483.49 89.67 L484.24 89.21 L484.99 88.75 L485.74 88.30 L486.49 87.86 L487.24 87.41 L487.99 86.97 L488.74 86.53 L489.49 86.10 L490.24 85.66 L490.99 85.23 L491.74 84.80 L492.49 84.38 L493.24 83.96 L493.99 83.54 L494.74 83.12 L495.49 82.70 L496.24 82.29 L496.99 81.88 L497.74 81.47 L498.49 81.06 L499.24 80.66 L499.99 80.25 L500.74 79.85 L501.49 79.45 L502.24 79.05 L502.99 78.65 L503.74 78.26 L504.49 77.86 L505.24 77.47 L505.99 77.08 L506.74 76.69 L507.49 76.30 L508.24 75.91 L508.99 75.52 L509.74 75.13 L510.49 74.75 L511.24 74.36 L511.99 73.98 L512.74 73.59 L513.49 73.21 L514.24 72.82 L514.99 72.43 L515.74 72.05 L516.49 71.66 L517.24 71.28 L517.99 70.89 L518.74 70.51 L519.49 70.12 L520.24 69.74 L520.99 69.35 L521.74 68.97 L522.49 68.58 L523.24 68.20 L523.99 67.81 L524.74 67.43 L525.49 67.04 L526.24 66.66 L526.99 66.28 L527.74 65.89 L528.49 65.51 L529.24 65.13 L529.99 64.74 L530.74 64.36 L531.49 63.98 L532.24 63.60 L532.99 63.22 L533.74 62.84 L534.49 62.46 L535.24 62.08 L535.99 61.70 L536.74 61.32 L537.49 60.94 L538.24 60.56 L538.99 60.19 L539.74 59.81 L540.49 59.44 L541.24 59.06 L541.99 58.69 L542.74 58.31 L543.49 57.94 L544.24 57.57 L544.99 57.20 L545.74 56.83 L546.49 56.46 L547.24 56.09 L547.99 55.72 L548.74 55.36 L549.49 54.99 L550.24 54.63 L550.99 54.26 L551.74 53.90 L552.49 53.54 L553.24 53.18 L553.99 52.82 L554.74 52.46 L555.49 52.11 L556.24 51.75 L556.99 51.40 L557.74 51.05 L558.49 50.70 L559.24 50.35 L559.99 50.00 L560.74 49.65 L561.49 49.31 L562.24 48.96 L562.99 48.62 L563.74 48.28 L564.49 47.94 L565.24 47.60 L565.99 47.27 L566.74 46.93 L567.49 46.60 L568.24 46.27 L568.99 45.94 L569.74 45.61 L570.49 45.29 L571.24 44.97 L571.99 44.65 L572.74 44.33 L573.49 44.01 L574.24 43.70 L574.99 43.38 L575.74 43.07 L576.49 42.76 L577.24 42.46 L577.99 42.15 L578.74 41.85 L579.49 41.55 L580.24 41.25 L580.99 40.95 L581.74 40.65 L582.49 40.36 L583.24 40.06 L583.99 39.77 L584.74 39.48 L585.49 39.19 L586.24 38.90 L586.99 38.62 L587.74 38.33 L588.49 38.05 L589.24 37.77 L589.99 37.49 L590.74 37.21 L591.49 36.93 L592.24 36.65 L592.99 36.38 L593.74 36.10 L594.49 35.83 L595.24 35.56 L595.99 35.29 L596.74 35.02 L597.49 34.75 L598.24 34.48 L598.99 34.21 L599.74 33.95 L600.49 33.68 L601.24 33.42 L601.99 33.15 L602.74 32.89 L603.49 32.63 L604.24 32.37 L604.99 32.11 L605.74 31.85 L606.30 31.65 Q609.50 31.65 609.50 34.85 L609.50 104.00" stroke="#c3e898" stroke-width="1.15" fill="none" stroke-linejoin="round"/>
<path d="M399.49 206.40 L400.24 206.39 L400.99 205.38 L401.74 203.87 L402.49 202.15 L403.24 200.36 L403.99 198.57 L404.74 196.81 L405.49 195.09 L406.24 193.39 L406.99 191.70 L407.74 190.00 L408.49 188.29 L409.24 186.55 L409.99 184.76 L410.74 182.98 L411.49 181.21 L412.24 179.47 L412.99 177.75 L413.74 176.06 L414.49 174.39 L415.24 172.74 L415.99 171.11 L416.74 169.51 L417.49 167.93 L418.24 166.39 L418.99 164.87 L419.74 163.38 L420.49 161.92 L421.24 160.49 L421.99 159.09 L422.74 157.72 L423.49 156.37 L424.24 155.03 L424.99 153.72 L425.74 152.43 L426.49 151.15 L427.24 149.90 L427.99 148.66 L428.74 147.44 L429.49 146.24 L430.24 145.06 L430.99 143.89 L431.74 142.74 L432.49 141.61 L433.24 140.50 L433.99 139.40 L434.74 138.32 L435.49 137.25 L436.24 136.21 L436.99 135.17 L437.74 134.16 L438.49 133.15 L439.24 132.17 L439.99 131.20 L440.74 130.24 L441.49 129.30 L442.24 128.38 L442.99 127.47 L443.74 126.57 L444.49 125.69 L445.24 124.82 L445.99 123.97 L446.74 123.13 L447.49 122.31 L448.24 121.50 L448.99 120.70 L449.74 119.92 L450.49 119.16 L451.24 118.40 L451.99 117.66 L452.74 116.94 L453.49 116.23 L454.24 115.53 L454.99 114.85 L455.74 114.17 L456.49 113.51 L457.24 112.85 L457.99 112.21 L458.74 111.57 L459.49 110.93 L460.24 110.31 L460.99 109.69 L461.74 109.08 L462.49 108.48 L463.24 107.88 L463.99 107.30 L464.74 106.71 L465.49 106.14 L466.24 105.57 L466.99 105.01 L467.74 104.46 L468.49 103.91 L469.24 103.36 L469.99 102.83 L470.74 102.30 L471.49 101.77 L472.24 101.26 L472.99 100.74 L473.74 100.24 L474.49 99.73 L475.24 99.24 L475.99 98.75 L476.74 98.26 L477.49 97.78 L478.24 97.31 L478.99 96.84 L479.74 96.37 L480.49 95.91 L481.24 95.46 L481.99 95.01 L482.74 94.56 L483.49 94.13 L484.24 93.70 L484.99 93.29 L485.74 92.88 L486.49 92.47 L487.24 92.08 L487.99 91.69 L488.74 91.30 L489.49 90.93 L490.24 90.56 L490.99 90.19 L491.74 89.83 L492.49 89.47 L493.24 89.11 L493.99 88.76 L494.74 88.42 L495.49 88.07 L496.24 87.73 L496.99 87.39 L497.74 87.06 L498.49 86.72 L499.24 86.39 L499.99 86.05 L500.74 85.72 L501.49 85.38 L502.24 85.05 L502.99 84.72 L503.74 84.38 L504.49 84.05 L505.24 83.71 L505.99 83.37 L506.74 83.02 L507.49 82.68 L508.24 82.33 L508.99 81.98 L509.74 81.62 L510.49 81.27 L511.24 80.91 L511.99 80.55 L512.74 80.19 L513.49 79.83 L514.24 79.47 L514.99 79.12 L515.74 78.76 L516.49 78.40 L517.24 78.04 L517.99 77.68 L518.74 77.32 L519.49 76.97 L520.24 76.61 L520.99 76.25 L521.74 75.89 L522.49 75.53 L523.24 75.18 L523.99 74.82 L524.74 74.46 L525.49 74.10 L526.24 73.75 L526.99 73.39 L527.74 73.03 L528.49 72.68 L529.24 72.32 L529.99 71.96 L530.74 71.61 L531.49 71.25 L532.24 70.90 L532.99 70.54 L533.74 70.19 L534.49 69.84 L535.24 69.48 L535.99 69.13 L536.74 68.78 L537.49 68.43 L538.24 68.07 L538.99 67.72 L539.74 67.37 L540.49 67.02 L541.24 66.67 L541.99 66.33 L542.74 65.98 L543.49 65.63 L544.24 65.28 L544.99 64.94 L545.74 64.59 L546.49 64.25 L547.24 63.90 L547.99 63.56 L548.74 63.22 L549.49 62.88 L550.24 62.54 L550.99 62.20 L551.74 61.86 L552.49 61.52 L553.24 61.19 L553.99 60.85 L554.74 60.52 L555.49 60.19 L556.24 59.85 L556.99 59.52 L557.74 59.19 L558.49 58.86 L559.24 58.54 L559.99 58.21 L560.74 57.89 L561.49 57.56 L562.24 57.24 L562.99 56.92 L563.74 56.60 L564.49 56.29 L565.24 55.97 L565.99 55.66 L566.74 55.34 L567.49 55.03 L568.24 54.72 L568.99 54.41 L569.74 54.11 L570.49 53.80 L571.24 53.50 L571.99 53.19 L572.74 52.89 L573.49 52.59 L574.24 52.28 L574.99 51.98 L575.74 51.68 L576.49 51.38 L577.24 51.08 L577.99 50.78 L578.74 50.48 L579.49 50.18 L580.24 49.88 L580.99 49.58 L581.74 49.28 L582.49 48.98 L583.24 48.69 L583.99 48.39 L584.74 48.09 L585.49 47.80 L586.24 47.50 L586.99 47.21 L587.74 46.92 L588.49 46.62 L589.24 46.33 L589.99 46.04 L590.74 45.74 L591.49 45.45 L592.24 45.16 L592.99 44.87 L593.74 44.58 L594.49 44.29 L595.24 44.01 L595.99 43.72 L596.74 43.43 L597.49 43.14 L598.24 42.86 L598.60 42.72 Q601.80 42.72 601.80 45.92 L601.80 110.80" stroke="#a8e2a6" stroke-width="1.15" fill="none" stroke-linejoin="round"/>
<path d="M399.49 206.40 L400.24 206.59 L400.99 206.01 L401.74 204.95 L402.49 203.58 L403.24 202.02 L403.99 200.37 L404.74 198.67 L405.49 196.95 L406.24 195.22 L406.99 193.50 L407.74 191.77 L408.49 190.05 L409.24 188.31 L409.99 186.56 L410.74 184.78 L411.49 183.02 L412.24 181.29 L412.99 179.58 L413.74 177.91 L414.49 176.27 L415.24 174.66 L415.99 173.07 L416.74 171.51 L417.49 169.97 L418.24 168.46 L418.99 166.98 L419.74 165.53 L420.49 164.10 L421.24 162.70 L421.99 161.33 L422.74 159.98 L423.49 158.67 L424.24 157.37 L424.99 156.08 L425.74 154.82 L426.49 153.57 L427.24 152.34 L427.99 151.13 L428.74 149.94 L429.49 148.76 L430.24 147.59 L430.99 146.44 L431.74 145.31 L432.49 144.20 L433.24 143.09 L433.99 142.01 L434.74 140.94 L435.49 139.88 L436.24 138.84 L436.99 137.81 L437.74 136.80 L438.49 135.80 L439.24 134.82 L439.99 133.85 L440.74 132.89 L441.49 131.95 L442.24 131.02 L442.99 130.11 L443.74 129.21 L444.49 128.32 L445.24 127.45 L445.99 126.59 L446.74 125.74 L447.49 124.91 L448.24 124.09 L448.99 123.29 L449.74 122.49 L450.49 121.72 L451.24 120.95 L451.99 120.20 L452.74 119.46 L453.49 118.74 L454.24 118.03 L454.99 117.33 L455.74 116.64 L456.49 115.97 L457.24 115.32 L457.99 114.67 L458.74 114.04 L459.49 113.41 L460.24 112.79 L460.99 112.18 L461.74 111.57 L462.49 110.97 L463.24 110.38 L463.99 109.80 L464.74 109.22 L465.49 108.65 L466.24 108.08 L466.99 107.53 L467.74 106.98 L468.49 106.43 L469.24 105.89 L469.99 105.36 L470.74 104.83 L471.49 104.31 L472.24 103.80 L472.99 103.29 L473.74 102.78 L474.49 102.29 L475.24 101.79 L475.99 101.31 L476.74 100.82 L477.49 100.35 L478.24 99.88 L478.99 99.41 L479.74 98.95 L480.49 98.49 L481.24 98.04 L481.99 97.59 L482.74 97.15 L483.49 96.71 L484.24 96.28 L484.99 95.85 L485.74 95.43 L486.49 95.01 L487.24 94.60 L487.99 94.21 L488.74 93.84 L489.49 93.48 L490.24 93.14 L490.99 92.81 L491.74 92.49 L492.49 92.19 L493.24 91.89 L493.99 91.61 L494.74 91.33 L495.49 91.06 L496.24 90.80 L496.99 90.54 L497.74 90.29 L498.49 90.04 L499.24 89.79 L499.99 89.54 L500.74 89.29 L501.49 89.04 L502.24 88.79 L502.99 88.53 L503.74 88.27 L504.49 88.01 L505.24 87.74 L505.99 87.46 L506.74 87.17 L507.49 86.88 L508.24 86.57 L508.99 86.25 L509.74 85.92 L510.49 85.58 L511.24 85.24 L511.99 84.90 L512.74 84.56 L513.49 84.22 L514.24 83.88 L514.99 83.55 L515.74 83.22 L516.49 82.88 L517.24 82.55 L517.99 82.22 L518.74 81.89 L519.49 81.56 L520.24 81.23 L520.99 80.90 L521.74 80.57 L522.49 80.24 L523.24 79.91 L523.99 79.58 L524.74 79.25 L525.49 78.92 L526.24 78.59 L526.99 78.26 L527.74 77.93 L528.49 77.60 L529.24 77.27 L529.99 76.93 L530.74 76.60 L531.49 76.26 L532.24 75.93 L532.99 75.59 L533.74 75.25 L534.49 74.91 L535.24 74.57 L535.99 74.23 L536.74 73.89 L537.49 73.54 L538.24 73.19 L538.99 72.85 L539.74 72.50 L540.49 72.14 L541.24 71.79 L541.99 71.43 L542.74 71.07 L543.49 70.71 L544.24 70.35 L544.99 69.98 L545.74 69.62 L546.49 69.25 L547.24 68.87 L547.99 68.50 L548.74 68.12 L549.49 67.74 L550.24 67.35 L550.99 66.96 L551.74 66.57 L552.49 66.18 L552.80 66.02 Q556.00 66.02 556.00 69.22 L556.00 119.30" stroke="#8bdcb2" stroke-width="1.15" fill="none" stroke-linejoin="round"/>
<path d="M399.49 206.40 L400.24 205.00 L400.99 203.22 L401.74 201.62 L402.49 200.06 L403.24 198.52 L403.99 196.98 L404.74 195.44 L405.49 193.88 L406.24 192.29 L406.99 190.67 L407.74 189.00 L408.49 187.29 L409.24 185.51 L409.99 183.69 L410.74 181.89 L411.49 180.10 L412.24 178.34 L412.99 176.59 L413.74 174.87 L414.49 173.17 L415.24 171.50 L415.99 169.85 L416.74 168.23 L417.49 166.64 L418.24 165.08 L418.99 163.54 L419.74 162.04 L420.49 160.57 L421.24 159.14 L421.99 157.72 L422.74 156.33 L423.49 154.96 L424.24 153.61 L424.99 152.29 L425.74 150.98 L426.49 149.69 L427.24 148.42 L427.99 147.18 L428.74 145.95 L429.49 144.74 L430.24 143.54 L430.99 142.37 L431.74 141.22 L432.49 140.08 L433.24 138.96 L433.99 137.86 L434.74 136.77 L435.49 135.70 L436.24 134.65 L436.99 133.61 L437.74 132.60 L438.49 131.59 L439.24 130.61 L439.99 129.63 L440.74 128.68 L441.49 127.74 L442.24 126.81 L442.99 125.91 L443.74 125.01 L444.49 124.13 L445.24 123.27 L445.99 122.42 L446.74 121.59 L447.49 120.77 L448.24 119.96 L448.99 119.17 L449.74 118.40 L450.49 117.63 L451.24 116.89 L451.99 116.15 L452.74 115.44 L453.49 114.73 L454.24 114.04 L454.99 113.35 L455.74 112.68 L456.49 112.01 L457.24 111.35 L457.99 110.70 L458.74 110.05 L459.49 109.42 L460.24 108.79 L460.99 108.17 L461.74 107.56 L462.49 106.95 L463.24 106.36 L463.99 105.77 L464.74 105.18 L465.49 104.60 L466.24 104.03 L466.99 103.47 L467.74 102.91 L468.49 102.36 L469.24 101.82 L469.99 101.28 L470.74 100.74 L471.49 100.22 L472.24 99.69 L472.99 99.18 L473.74 98.67 L474.49 98.16 L475.24 97.66 L475.99 97.17 L476.74 96.68 L477.49 96.20 L478.24 95.72 L478.99 95.25 L479.74 94.78 L480.49 94.32 L481.24 93.86 L481.99 93.41 L482.74 92.97 L483.49 92.53 L484.24 92.09 L484.99 91.67 L485.74 91.24 L486.49 90.82 L487.24 90.41 L487.99 90.00 L488.74 89.59 L489.49 89.19 L490.24 88.80 L490.99 88.40 L491.74 88.01 L492.49 87.62 L493.24 87.24 L493.99 86.85 L494.74 86.48 L495.49 86.10 L496.24 85.72 L496.99 85.35 L497.74 84.98 L498.49 84.61 L499.24 84.24 L499.99 83.87 L500.74 83.51 L501.49 83.14 L502.24 82.78 L502.99 82.41 L503.74 82.05 L504.49 81.68 L505.24 81.32 L505.99 80.96 L506.74 80.59 L507.49 80.23 L508.24 79.86 L508.99 79.50 L509.74 79.13 L510.49 78.76 L511.24 78.39 L511.99 78.02 L512.74 77.65 L513.49 77.28 L514.24 76.90 L514.99 76.53 L515.74 76.16 L516.49 75.78 L517.24 75.41 L517.99 75.03 L518.74 74.65 L519.49 74.28 L520.24 73.90 L520.99 73.52 L521.74 73.14 L522.49 72.76 L523.24 72.38 L523.99 72.00 L524.74 71.62 L525.49 71.24 L526.24 70.86 L526.99 70.48 L527.74 70.10 L528.49 69.72 L529.24 69.34 L529.99 68.96 L530.74 68.57 L531.49 68.19 L532.24 67.81 L532.99 67.43 L533.74 67.05 L534.49 66.67 L535.24 66.29 L535.99 65.91 L536.74 65.53 L537.49 65.15 L538.24 64.77 L538.99 64.39 L539.74 64.01 L540.49 63.63 L541.24 63.25 L541.99 62.88 L542.74 62.50 L543.49 62.12 L544.24 61.75 L544.99 61.38 L545.74 61.00 L546.49 60.63 L547.24 60.26 L547.99 59.89 L548.74 59.52 L549.49 59.15 L550.24 58.79 L550.99 58.42 L551.74 58.06 L552.49 57.69 L553.24 57.33 L553.99 56.97 L554.74 56.61 L555.49 56.25 L556.24 55.90 L556.99 55.54 L557.74 55.19 L558.49 54.84 L559.24 54.49 L559.99 54.14 L560.74 53.80 L561.49 53.45 L562.24 53.11 L562.99 52.77 L563.74 52.43 L564.49 52.10 L565.24 51.76 L565.99 51.43 L566.74 51.10 L567.49 50.78 L568.24 50.45 L568.99 50.13 L569.74 49.81 L570.49 49.49 L571.24 49.18 L571.99 48.87 L572.74 48.56 L573.49 48.25 L574.24 47.95 L574.99 47.65 L575.74 47.35 L576.49 47.06 L577.24 46.76 L577.99 46.47 L578.74 46.18 L579.49 45.90 L580.24 45.61 L580.99 45.33 L581.74 45.05 L582.49 44.77 L583.24 44.49 L583.99 44.22 L584.74 43.95 L585.49 43.68 L586.24 43.41 L586.99 43.14 L587.74 42.87 L588.49 42.61 L589.24 42.34 L589.99 42.08 L590.74 41.82 L591.49 41.56 L592.24 41.30 L592.99 41.04 L593.74 40.78 L594.49 40.53 L595.24 40.27 L595.99 40.02 L596.74 39.76 L597.40 39.54 Q600.60 39.54 600.60 42.74 L600.60 109.60" stroke="#70d6b4" stroke-width="1.15" fill="none" stroke-linejoin="round"/>
<path d="M400.78 206.40 L401.53 204.44 L402.28 202.09 L403.03 199.94 L403.78 197.86 L404.53 195.82 L405.28 193.81 L406.03 191.81 L406.78 189.83 L407.53 187.85 L408.28 185.87 L409.03 183.89 L409.78 181.94 L410.53 180.03 L411.28 178.16 L412.03 176.33 L412.78 174.53 L413.53 172.77 L414.28 171.04 L415.03 169.34 L415.78 167.68 L416.53 166.04 L417.28 164.43 L418.03 162.85 L418.78 161.30 L419.53 159.77 L420.28 158.27 L421.03 156.80 L421.78 155.35 L422.53 153.92 L423.28 152.52 L424.03 151.14 L424.78 149.79 L425.53 148.45 L426.28 147.14 L427.03 145.85 L427.78 144.58 L428.53 143.33 L429.28 142.10 L430.03 140.89 L430.78 139.70 L431.53 138.53 L432.28 137.38 L433.03 136.25 L433.78 135.13 L434.53 134.04 L435.28 132.96 L436.03 131.90 L436.78 130.85 L437.53 129.83 L438.28 128.82 L439.03 127.82 L439.78 126.85 L440.53 125.89 L441.28 124.94 L442.03 124.02 L442.78 123.10 L443.53 122.21 L444.28 121.32 L445.03 120.46 L445.78 119.61 L446.53 118.77 L447.28 117.95 L448.03 117.14 L448.78 116.35 L449.53 115.58 L450.28 114.81 L451.03 114.07 L451.78 113.33 L452.53 112.60 L453.28 111.88 L454.03 111.17 L454.78 110.48 L455.53 109.79 L456.28 109.11 L457.03 108.44 L457.78 107.78 L458.53 107.13 L459.28 106.48 L460.03 105.85 L460.78 105.22 L461.53 104.60 L462.28 103.99 L463.03 103.38 L463.78 102.79 L464.53 102.20 L465.28 101.61 L466.03 101.03 L466.78 100.46 L467.53 99.90 L468.28 99.34 L469.03 98.78 L469.78 98.23 L470.53 97.69 L471.28 97.15 L472.03 96.62 L472.78 96.09 L473.53 95.57 L474.28 95.05 L475.03 94.54 L475.78 94.03 L476.53 93.53 L477.28 93.03 L478.03 92.53 L478.78 92.04 L479.53 91.55 L480.28 91.07 L481.03 90.59 L481.78 90.12 L482.53 89.65 L483.28 89.18 L484.03 88.71 L484.78 88.25 L485.53 87.80 L486.28 87.34 L487.03 86.89 L487.78 86.44 L488.53 86.00 L489.28 85.56 L490.03 85.12 L490.78 84.68 L491.53 84.25 L492.28 83.82 L493.03 83.39 L493.78 82.96 L494.53 82.54 L495.28 82.12 L496.03 81.70 L496.78 81.28 L497.53 80.87 L498.28 80.45 L499.03 80.04 L499.78 79.63 L500.53 79.22 L501.28 78.82 L502.03 78.41 L502.78 78.01 L503.53 77.61 L504.28 77.21 L505.03 76.81 L505.78 76.41 L506.53 76.02 L507.28 75.62 L508.03 75.23 L508.78 74.84 L509.53 74.45 L510.28 74.06 L511.03 73.67 L511.78 73.28 L512.53 72.89 L513.28 72.50 L514.03 72.11 L514.78 71.72 L515.53 71.33 L516.28 70.94 L517.03 70.55 L517.78 70.15 L518.53 69.76 L519.28 69.37 L520.03 68.98 L520.78 68.59 L521.53 68.20 L522.28 67.81 L523.03 67.42 L523.78 67.03 L524.53 66.64 L525.28 66.26 L526.03 65.87 L526.78 65.48 L527.53 65.09 L528.28 64.70 L529.03 64.31 L529.78 63.92 L530.53 63.54 L531.28 63.15 L532.03 62.76 L532.78 62.38 L533.53 61.99 L534.28 61.60 L535.03 61.22 L535.78 60.83 L536.53 60.45 L537.28 60.07 L538.03 59.68 L538.78 59.30 L539.53 58.92 L540.28 58.54 L541.03 58.16 L541.78 57.78 L542.53 57.40 L543.28 57.02 L544.03 56.64 L544.78 56.27 L545.53 55.89 L546.28 55.51 L547.03 55.14 L547.78 54.77 L548.53 54.40 L549.28 54.02 L550.03 53.65 L550.78 53.29 L551.53 52.92 L552.28 52.55 L553.03 52.19 L553.78 51.82 L554.53 51.46 L555.28 51.10 L556.03 50.74 L556.78 50.38 L557.53 50.02 L558.28 49.66 L559.03 49.31 L559.78 48.95 L560.53 48.60 L561.28 48.25 L562.03 47.90 L562.78 47.55 L563.53 47.21 L564.28 46.87 L565.03 46.52 L565.78 46.18 L566.53 45.84 L567.28 45.51 L568.03 45.17 L568.78 44.84 L569.53 44.51 L570.28 44.18 L571.03 43.86 L571.78 43.55 L572.53 43.26 L573.28 42.97 L574.03 42.69 L574.78 42.42 L575.53 42.16 L576.28 41.91 L577.03 41.66 L577.78 41.42 L578.53 41.19 L579.28 40.96 L580.03 40.74 L580.78 40.53 L581.53 40.31 L582.28 40.11 L583.03 39.90 L583.78 39.70 L584.53 39.50 L585.28 39.30 L586.03 39.10 L586.78 38.91 L587.53 38.71 L588.28 38.51 L588.30 38.51 Q591.50 38.51 591.50 41.71 L591.50 107.00" stroke="#5ecdb0" stroke-width="1.15" fill="none" stroke-linejoin="round"/>
<path d="M400.78 206.40 L401.53 206.37 L402.28 205.72 L403.03 204.65 L403.78 203.29 L404.53 201.72 L405.28 200.03 L406.03 198.27 L406.78 196.46 L407.53 194.63 L408.28 192.80 L409.03 190.97 L409.78 189.15 L410.53 187.34 L411.28 185.54 L412.03 183.75 L412.78 182.00 L413.53 180.29 L414.28 178.63 L415.03 177.00 L415.78 175.41 L416.53 173.85 L417.28 172.33 L418.03 170.84 L418.78 169.38 L419.53 167.95 L420.28 166.55 L421.03 165.18 L421.78 163.84 L422.53 162.52 L423.28 161.22 L424.03 159.96 L424.78 158.71 L425.53 157.48 L426.28 156.27 L427.03 155.08 L427.78 153.91 L428.53 152.75 L429.28 151.61 L430.03 150.49 L430.78 149.38 L431.53 148.28 L432.28 147.20 L433.03 146.14 L433.78 145.09 L434.53 144.06 L435.28 143.03 L436.03 142.03 L436.78 141.03 L437.53 140.05 L438.28 139.08 L439.03 138.13 L439.78 137.19 L440.53 136.26 L441.28 135.35 L442.03 134.44 L442.78 133.55 L443.53 132.68 L444.28 131.81 L445.03 130.96 L445.78 130.12 L446.53 129.29 L447.28 128.47 L448.03 127.66 L448.78 126.87 L449.53 126.09 L450.28 125.32 L451.03 124.56 L451.78 123.81 L452.53 123.08 L453.28 122.35 L454.03 121.64 L454.78 120.94 L455.53 120.25 L456.28 119.57 L457.03 118.90 L457.78 118.25 L458.53 117.60 L459.28 116.97 L460.03 116.35 L460.78 115.74 L461.53 115.14 L462.28 114.55 L463.03 113.97 L463.78 113.39 L464.53 112.82 L465.28 112.26 L466.03 111.71 L466.78 111.16 L467.53 110.62 L468.28 110.08 L469.03 109.55 L469.78 109.03 L470.53 108.51 L471.28 108.00 L472.03 107.49 L472.78 106.99 L473.53 106.50 L474.28 106.01 L475.03 105.52 L475.78 105.04 L476.53 104.57 L477.28 104.10 L478.03 103.63 L478.78 103.17 L479.53 102.72 L480.28 102.26 L481.03 101.82 L481.78 101.37 L482.53 100.94 L483.28 100.50 L484.03 100.07 L484.78 99.65 L485.53 99.22 L486.28 98.80 L487.03 98.39 L487.78 97.98 L488.53 97.57 L489.28 97.17 L490.03 96.76 L490.78 96.37 L491.53 95.97 L492.28 95.58 L493.03 95.19 L493.78 94.81 L494.53 94.43 L495.28 94.07 L496.03 93.71 L496.78 93.36 L497.53 93.02 L498.28 92.68 L499.03 92.35 L499.78 92.03 L500.53 91.71 L501.28 91.39 L502.03 91.07 L502.78 90.75 L503.53 90.44 L504.28 90.12 L505.03 89.80 L505.78 89.48 L506.53 89.16 L507.28 88.83 L508.03 88.50 L508.78 88.16 L509.53 87.82 L510.28 87.47 L511.03 87.12 L511.78 86.77 L512.53 86.42 L513.28 86.06 L514.03 85.71 L514.78 85.36 L515.53 85.01 L516.28 84.65 L517.03 84.30 L517.78 83.95 L518.53 83.59 L519.28 83.24 L520.03 82.88 L520.78 82.53 L521.53 82.18 L522.28 81.82 L523.03 81.47 L523.78 81.11 L524.53 80.76 L525.28 80.40 L526.03 80.05 L526.78 79.70 L527.53 79.34 L528.28 78.99 L529.03 78.64 L529.78 78.28 L530.53 77.93 L531.28 77.58 L532.03 77.23 L532.78 76.87 L533.53 76.52 L534.28 76.17 L535.03 75.82 L535.78 75.47 L536.53 75.12 L537.28 74.77 L538.03 74.43 L538.78 74.08 L539.53 73.73 L540.28 73.38 L541.03 73.04 L541.78 72.70 L542.53 72.35 L543.28 72.01 L544.03 71.67 L544.78 71.33 L545.53 70.99 L546.28 70.65 L547.03 70.31 L547.78 69.97 L548.53 69.64 L549.28 69.30 L550.03 68.97 L550.78 68.64 L551.53 68.31 L552.28 67.98 L553.03 67.65 L553.78 67.32 L554.53 67.00 L555.28 66.68 L556.03 66.35 L556.78 66.03 L557.53 65.72 L558.28 65.40 L559.03 65.08 L559.78 64.77 L560.53 64.46 L561.28 64.15 L562.03 63.84 L562.78 63.54 L563.53 63.23 L564.28 62.93 L565.03 62.63 L565.78 62.33 L566.53 62.04 L567.28 61.75 L568.03 61.45 L568.78 61.17 L569.53 60.88 L570.28 60.60 L571.03 60.35 L571.78 60.13 L572.53 59.93 L573.28 59.76 L574.03 59.61 L574.78 59.48 L575.53 59.35 L576.28 59.23 L577.00 59.12 Q580.20 59.12 580.20 62.32 L580.20 119.30" stroke="#55c2b0" stroke-width="1.15" fill="none" stroke-linejoin="round"/>
<path d="M400.78 206.40 L401.53 206.22 L402.28 205.19 L403.03 203.67 L403.78 201.86 L404.53 199.92 L405.28 197.93 L406.03 195.93 L406.78 193.95 L407.53 191.99 L408.28 190.05 L409.03 188.14 L409.78 186.23 L410.53 184.33 L411.28 182.47 L412.03 180.66 L412.78 178.91 L413.53 177.19 L414.28 175.52 L415.03 173.88 L415.78 172.29 L416.53 170.72 L417.28 169.19 L418.03 167.68 L418.78 166.21 L419.53 164.76 L420.28 163.34 L421.03 161.95 L421.78 160.58 L422.53 159.24 L423.28 157.92 L424.03 156.61 L424.78 155.32 L425.53 154.05 L426.28 152.79 L427.03 151.56 L427.78 150.33 L428.53 149.13 L429.28 147.94 L430.03 146.77 L430.78 145.61 L431.53 144.47 L432.28 143.34 L433.03 142.23 L433.78 141.13 L434.53 140.05 L435.28 138.98 L436.03 137.93 L436.78 136.89 L437.53 135.87 L438.28 134.86 L439.03 133.87 L439.78 132.89 L440.53 131.92 L441.28 130.97 L442.03 130.04 L442.78 129.11 L443.53 128.20 L444.28 127.31 L445.03 126.43 L445.78 125.56 L446.53 124.71 L447.28 123.87 L448.03 123.05 L448.78 122.24 L449.53 121.44 L450.28 120.66 L451.03 119.89 L451.78 119.14 L452.53 118.40 L453.28 117.67 L454.03 116.96 L454.78 116.26 L455.53 115.58 L456.28 114.92 L457.03 114.26 L457.78 113.61 L458.53 112.97 L459.28 112.34 L460.03 111.72 L460.78 111.10 L461.53 110.49 L462.28 109.89 L463.03 109.30 L463.78 108.71 L464.53 108.13 L465.28 107.56 L466.03 106.99 L466.78 106.43 L467.53 105.88 L468.28 105.33 L469.03 104.79 L469.78 104.25 L470.53 103.73 L471.28 103.20 L472.03 102.69 L472.78 102.17 L473.53 101.67 L474.28 101.17 L475.03 100.67 L475.78 100.18 L476.53 99.69 L477.28 99.21 L478.03 98.74 L478.78 98.27 L479.53 97.80 L480.28 97.34 L481.03 96.88 L481.78 96.43 L482.53 95.98 L483.28 95.54 L484.03 95.10 L484.78 94.67 L485.53 94.25 L486.28 93.84 L487.03 93.45 L487.78 93.06 L488.53 92.69 L489.28 92.32 L490.03 91.97 L490.78 91.62 L491.53 91.28 L492.28 90.95 L493.03 90.63 L493.78 90.31 L494.53 89.99 L495.28 89.68 L496.03 89.38 L496.78 89.07 L497.53 88.77 L498.28 88.47 L499.03 88.18 L499.78 87.88 L500.53 87.59 L501.28 87.29 L502.03 86.99 L502.78 86.69 L503.53 86.39 L504.28 86.09 L505.03 85.78 L505.78 85.47 L506.53 85.15 L507.28 84.83 L508.03 84.50 L508.78 84.16 L509.53 83.82 L510.28 83.47 L511.03 83.12 L511.78 82.77 L512.53 82.42 L513.28 82.06 L514.03 81.71 L514.78 81.36 L515.53 81.01 L516.28 80.66 L517.03 80.31 L517.78 79.96 L518.53 79.61 L519.28 79.27 L520.03 78.92 L520.78 78.57 L521.53 78.22 L522.28 77.87 L523.03 77.53 L523.78 77.18 L524.53 76.83 L525.28 76.48 L526.03 76.14 L526.78 75.79 L527.53 75.45 L528.28 75.10 L529.03 74.76 L529.78 74.41 L530.53 74.07 L531.28 73.73 L532.03 73.38 L532.78 73.04 L533.53 72.70 L534.28 72.36 L535.03 72.01 L535.78 71.67 L536.53 71.33 L537.28 70.99 L538.03 70.66 L538.78 70.32 L539.53 69.98 L540.28 69.64 L541.03 69.31 L541.78 68.97 L542.53 68.63 L543.28 68.30 L544.03 67.97 L544.78 67.63 L545.53 67.30 L546.28 66.97 L547.03 66.64 L547.78 66.31 L548.53 65.98 L549.28 65.65 L550.03 65.32 L550.78 64.99 L551.53 64.67 L552.28 64.34 L553.03 64.02 L553.78 63.70 L554.53 63.38 L555.28 63.05 L556.03 62.73 L556.78 62.42 L557.53 62.10 L558.28 61.78 L559.03 61.47 L559.78 61.15 L560.53 60.84 L561.28 60.53 L562.03 60.22 L562.78 59.91 L563.53 59.60 L564.28 59.29 L565.03 58.99 L565.78 58.68 L566.53 58.38 L567.28 58.08 L568.03 57.78 L568.78 57.48 L569.53 57.19 L570.28 56.89 L571.03 56.60 L571.78 56.30 L572.53 56.01 L573.28 55.71 L574.03 55.42 L574.78 55.13 L575.53 54.83 L576.28 54.54 L577.03 54.25 L577.78 53.96 L578.53 53.66 L579.28 53.37 L580.03 53.08 L580.78 52.79 L581.53 52.50 L582.28 52.21 L583.03 51.92 L583.78 51.63 L584.53 51.33 L585.28 51.04 L586.03 50.75 L586.78 50.46 L587.53 50.17 L588.28 49.88 L589.03 49.59 L589.78 49.30 L590.53 49.02 L591.28 48.73 L592.03 48.44 L592.78 48.15 L593.53 47.86 L594.28 47.57 L595.03 47.28 L595.78 46.99 L596.53 46.71 L597.28 46.42 L598.03 46.13 L598.78 45.84 L599.53 45.56 L600.28 45.27 L601.03 44.98 L601.78 44.69 L602.53 44.41 L603.28 44.12 L604.03 43.83 L604.78 43.55 L605.53 43.26 L606.28 42.97 L607.03 42.69 L607.78 42.40 L608.53 42.11 L609.28 41.83 L610.03 41.54 L610.78 41.26 L611.53 40.97 L612.28 40.68 L613.03 40.40 L613.78 40.11 L614.53 39.83 L614.80 39.72 Q618.00 39.72 618.00 42.92 L618.00 108.00" stroke="#4fb7b1" stroke-width="1.15" fill="none" stroke-linejoin="round"/>
<path d="M400.78 206.40 L401.53 206.23 L402.28 205.23 L403.03 203.73 L403.78 201.95 L404.53 200.04 L405.28 198.06 L406.03 196.07 L406.78 194.10 L407.53 192.14 L408.28 190.21 L409.03 188.30 L409.78 186.40 L410.53 184.51 L411.28 182.65 L412.03 180.85 L412.78 179.09 L413.53 177.38 L414.28 175.71 L415.03 174.07 L415.78 172.48 L416.53 170.91 L417.28 169.38 L418.03 167.88 L418.78 166.41 L419.53 164.96 L420.28 163.54 L421.03 162.15 L421.78 160.79 L422.53 159.44 L423.28 158.12 L424.03 156.82 L424.78 155.53 L425.53 154.26 L426.28 153.01 L427.03 151.77 L427.78 150.55 L428.53 149.35 L429.28 148.16 L430.03 146.99 L430.78 145.84 L431.53 144.70 L432.28 143.57 L433.03 142.46 L433.78 141.37 L434.53 140.29 L435.28 139.22 L436.03 138.17 L436.78 137.14 L437.53 136.11 L438.28 135.11 L439.03 134.11 L439.78 133.14 L440.53 132.17 L441.28 131.22 L442.03 130.28 L442.78 129.36 L443.53 128.45 L444.28 127.56 L445.03 126.68 L445.78 125.81 L446.53 124.96 L447.28 124.12 L448.03 123.30 L448.78 122.48 L449.53 121.69 L450.28 120.90 L451.03 120.14 L451.78 119.38 L452.53 118.64 L453.28 117.91 L454.03 117.20 L454.78 116.50 L455.53 115.81 L456.28 115.14 L457.03 114.49 L457.78 113.84 L458.53 113.20 L459.28 112.56 L460.03 111.94 L460.78 111.32 L461.53 110.71 L462.28 110.11 L463.03 109.51 L463.78 108.93 L464.53 108.35 L465.28 107.77 L466.03 107.21 L466.78 106.65 L467.53 106.09 L468.28 105.54 L469.03 105.00 L469.78 104.47 L470.53 103.94 L471.28 103.42 L472.03 102.90 L472.78 102.39 L473.53 101.88 L474.28 101.38 L475.03 100.89 L475.78 100.40 L476.53 99.92 L477.28 99.44 L478.03 98.96 L478.78 98.49 L479.53 98.03 L480.28 97.57 L481.03 97.11 L481.78 96.67 L482.53 96.22 L483.28 95.78 L484.03 95.34 L484.78 94.91 L485.53 94.49 L486.28 94.08 L487.03 93.68 L487.78 93.30 L488.53 92.93 L489.28 92.56 L490.03 92.21 L490.78 91.87 L491.53 91.53 L492.28 91.20 L493.03 90.88 L493.78 90.57 L494.53 90.26 L495.28 89.95 L496.03 89.65 L496.78 89.36 L497.53 89.06 L498.28 88.77 L499.03 88.48 L499.78 88.19 L500.53 87.90 L501.28 87.61 L502.03 87.32 L502.78 87.03 L503.53 86.74 L504.28 86.44 L505.03 86.14 L505.78 85.83 L506.53 85.52 L507.28 85.21 L508.03 84.88 L508.78 84.55 L509.53 84.22 L510.28 83.87 L511.03 83.53 L511.78 83.18 L512.53 82.84 L513.28 82.49 L514.03 82.15 L514.78 81.80 L515.53 81.46 L516.28 81.11 L517.03 80.77 L517.78 80.43 L518.53 80.08 L519.28 79.74 L520.03 79.40 L520.78 79.06 L521.53 78.72 L522.28 78.37 L523.03 78.03 L523.78 77.69 L524.53 77.35 L525.28 77.01 L526.03 76.67 L526.78 76.33 L527.53 75.99 L528.28 75.66 L529.03 75.32 L529.78 74.98 L530.53 74.64 L531.28 74.31 L532.03 73.97 L532.78 73.64 L533.53 73.30 L534.28 72.97 L535.03 72.63 L535.78 72.30 L536.53 71.97 L537.28 71.63 L538.03 71.30 L538.78 70.97 L539.53 70.64 L540.28 70.31 L541.03 69.98 L541.78 69.65 L542.53 69.33 L543.28 69.00 L544.03 68.67 L544.78 68.35 L545.53 68.02 L546.28 67.70 L547.03 67.38 L547.78 67.05 L548.53 66.73 L549.28 66.41 L550.03 66.09 L550.78 65.77 L551.53 65.46 L552.28 65.14 L553.03 64.82 L553.78 64.51 L554.53 64.19 L555.28 63.88 L556.03 63.57 L556.78 63.26 L557.53 62.95 L558.28 62.64 L559.03 62.34 L559.78 62.03 L560.53 61.73 L561.28 61.42 L562.03 61.12 L562.78 60.82 L563.53 60.52 L564.28 60.22 L565.03 59.93 L565.78 59.63 L566.53 59.34 L567.28 59.05 L568.03 58.76 L568.78 58.47 L569.53 58.18 L570.28 57.89 L571.03 57.61 L571.78 57.32 L572.53 57.04 L573.28 56.76 L574.03 56.47 L574.78 56.19 L575.53 55.90 L576.28 55.62 L577.03 55.34 L577.78 55.05 L578.53 54.77 L579.28 54.49 L580.03 54.21 L580.78 53.92 L581.53 53.64 L582.28 53.36 L583.03 53.08 L583.78 52.80 L584.53 52.52 L585.28 52.23 L586.03 51.95 L586.78 51.67 L587.53 51.39 L588.28 51.11 L589.03 50.83 L589.78 50.55 L590.53 50.27 L591.28 49.99 L592.03 49.71 L592.78 49.43 L593.53 49.15 L594.28 48.88 L595.03 48.60 L595.78 48.32 L596.53 48.04 L597.28 47.76 L598.03 47.48 L598.78 47.20 L599.53 46.93 L600.28 46.65 L601.03 46.37 L601.78 46.09 L602.53 45.81 L603.28 45.54 L604.03 45.26 L604.78 44.98 L605.53 44.71 L606.28 44.43 L607.03 44.15 L607.78 43.87 L608.53 43.60 L609.28 43.32 L610.03 43.04 L610.78 42.77 L611.53 42.49 L612.28 42.22 L613.03 41.94 L613.78 41.66 L614.53 41.39 L615.28 41.11 L616.03 40.84 L616.40 40.70 Q619.60 40.70 619.60 43.90 L619.60 109.60" stroke="#4aacb5" stroke-width="1.15" fill="none" stroke-linejoin="round"/>
<path d="M400.78 206.40 L401.53 204.64 L402.28 202.50 L403.03 200.55 L403.78 198.67 L404.53 196.82 L405.28 194.98 L406.03 193.15 L406.78 191.32 L407.53 189.48 L408.28 187.61 L409.03 185.72 L409.78 183.81 L410.53 181.93 L411.28 180.08 L412.03 178.27 L412.78 176.50 L413.53 174.76 L414.28 173.05 L415.03 171.38 L415.78 169.74 L416.53 168.13 L417.28 166.55 L418.03 165.01 L418.78 163.49 L419.53 162.00 L420.28 160.54 L421.03 159.11 L421.78 157.70 L422.53 156.30 L423.28 154.94 L424.03 153.59 L424.78 152.26 L425.53 150.95 L426.28 149.66 L427.03 148.39 L427.78 147.13 L428.53 145.90 L429.28 144.68 L430.03 143.49 L430.78 142.31 L431.53 141.14 L432.28 140.00 L433.03 138.87 L433.78 137.76 L434.53 136.67 L435.28 135.59 L436.03 134.53 L436.78 133.48 L437.53 132.45 L438.28 131.44 L439.03 130.44 L439.78 129.46 L440.53 128.50 L441.28 127.55 L442.03 126.61 L442.78 125.69 L443.53 124.79 L444.28 123.90 L445.03 123.03 L445.78 122.17 L446.53 121.33 L447.28 120.51 L448.03 119.69 L448.78 118.90 L449.53 118.12 L450.28 117.35 L451.03 116.60 L451.78 115.87 L452.53 115.15 L453.28 114.44 L454.03 113.75 L454.78 113.06 L455.53 112.38 L456.28 111.71 L457.03 111.05 L457.78 110.40 L458.53 109.75 L459.28 109.12 L460.03 108.49 L460.78 107.87 L461.53 107.25 L462.28 106.65 L463.03 106.05 L463.78 105.45 L464.53 104.87 L465.28 104.29 L466.03 103.72 L466.78 103.15 L467.53 102.59 L468.28 102.04 L469.03 101.49 L469.78 100.95 L470.53 100.41 L471.28 99.88 L472.03 99.35 L472.78 98.83 L473.53 98.32 L474.28 97.81 L475.03 97.30 L475.78 96.80 L476.53 96.31 L477.28 95.82 L478.03 95.33 L478.78 94.85 L479.53 94.38 L480.28 93.91 L481.03 93.45 L481.78 92.99 L482.53 92.54 L483.28 92.10 L484.03 91.66 L484.78 91.22 L485.53 90.79 L486.28 90.37 L487.03 89.95 L487.78 89.53 L488.53 89.12 L489.28 88.71 L490.03 88.31 L490.78 87.91 L491.53 87.51 L492.28 87.12 L493.03 86.73 L493.78 86.34 L494.53 85.95 L495.28 85.57 L496.03 85.19 L496.78 84.81 L497.53 84.43 L498.28 84.05 L499.03 83.68 L499.78 83.30 L500.53 82.93 L501.28 82.55 L502.03 82.18 L502.78 81.81 L503.53 81.44 L504.28 81.06 L505.03 80.69 L505.78 80.32 L506.53 79.94 L507.28 79.57 L508.03 79.19 L508.78 78.82 L509.53 78.44 L510.28 78.06 L511.03 77.68 L511.78 77.30 L512.53 76.93 L513.28 76.55 L514.03 76.18 L514.78 75.80 L515.53 75.43 L516.28 75.06 L517.03 74.69 L517.78 74.31 L518.53 73.94 L519.28 73.58 L520.03 73.21 L520.78 72.84 L521.53 72.47 L522.28 72.11 L523.03 71.74 L523.78 71.38 L524.53 71.01 L525.28 70.65 L526.03 70.28 L526.78 69.92 L527.53 69.56 L528.28 69.20 L529.03 68.84 L529.78 68.48 L530.53 68.12 L531.28 67.76 L532.03 67.40 L532.78 67.04 L533.53 66.68 L534.28 66.32 L535.03 65.97 L535.78 65.61 L536.53 65.25 L537.28 64.90 L538.03 64.54 L538.78 64.19 L539.53 63.83 L540.28 63.48 L541.03 63.13 L541.78 62.77 L542.53 62.42 L543.28 62.07 L544.03 61.71 L544.78 61.36 L545.53 61.01 L546.28 60.66 L547.03 60.31 L547.78 59.96 L548.53 59.61 L549.28 59.26 L550.03 58.91 L550.78 58.56 L551.53 58.21 L552.28 57.86 L553.03 57.51 L553.78 57.16 L554.53 56.81 L555.28 56.47 L556.03 56.12 L556.78 55.77 L557.53 55.43 L558.28 55.08 L559.03 54.73 L559.78 54.39 L560.53 54.04 L561.28 53.70 L562.03 53.35 L562.78 53.01 L563.53 52.66 L564.28 52.32 L565.03 51.97 L565.78 51.63 L566.53 51.29 L567.28 50.94 L568.03 50.60 L568.78 50.26 L569.53 49.92 L570.28 49.57 L571.03 49.23 L571.78 48.89 L572.53 48.55 L573.28 48.21 L574.03 47.86 L574.78 47.52 L575.53 47.18 L576.28 46.84 L577.03 46.50 L577.78 46.16 L578.53 45.81 L579.28 45.47 L580.03 45.13 L580.78 44.79 L581.53 44.45 L582.28 44.11 L583.03 43.76 L583.78 43.42 L584.53 43.08 L585.28 42.74 L586.03 42.40 L586.78 42.06 L587.53 41.72 L588.28 41.37 L589.03 41.03 L589.40 40.86 Q592.60 40.86 592.60 44.06 L592.60 111.80" stroke="#45a0b8" stroke-width="1.15" fill="none" stroke-linejoin="round"/>
<path d="M400.78 206.40 L401.53 206.25 L402.28 205.28 L403.03 203.83 L403.78 202.10 L404.53 200.22 L405.28 198.27 L406.03 196.31 L406.78 194.36 L407.53 192.42 L408.28 190.51 L409.03 188.62 L409.78 186.74 L410.53 184.86 L411.28 183.02 L412.03 181.22 L412.78 179.47 L413.53 177.77 L414.28 176.10 L415.03 174.47 L415.78 172.88 L416.53 171.32 L417.28 169.79 L418.03 168.29 L418.78 166.82 L419.53 165.37 L420.28 163.95 L421.03 162.56 L421.78 161.19 L422.53 159.85 L423.28 158.53 L424.03 157.23 L424.78 155.94 L425.53 154.67 L426.28 153.42 L427.03 152.19 L427.78 150.97 L428.53 149.77 L429.28 148.59 L430.03 147.42 L430.78 146.26 L431.53 145.13 L432.28 144.00 L433.03 142.90 L433.78 141.80 L434.53 140.73 L435.28 139.66 L436.03 138.62 L436.78 137.58 L437.53 136.57 L438.28 135.56 L439.03 134.57 L439.78 133.59 L440.53 132.63 L441.28 131.68 L442.03 130.75 L442.78 129.83 L443.53 128.92 L444.28 128.03 L445.03 127.15 L445.78 126.29 L446.53 125.44 L447.28 124.60 L448.03 123.77 L448.78 122.96 L449.53 122.16 L450.28 121.38 L451.03 120.61 L451.78 119.85 L452.53 119.11 L453.28 118.38 L454.03 117.67 L454.78 116.96 L455.53 116.28 L456.28 115.60 L457.03 114.94 L457.78 114.29 L458.53 113.65 L459.28 113.01 L460.03 112.39 L460.78 111.77 L461.53 111.16 L462.28 110.56 L463.03 109.96 L463.78 109.37 L464.53 108.79 L465.28 108.22 L466.03 107.65 L466.78 107.09 L467.53 106.54 L468.28 105.99 L469.03 105.45 L469.78 104.92 L470.53 104.39 L471.28 103.87 L472.03 103.35 L472.78 102.84 L473.53 102.34 L474.28 101.84 L475.03 101.34 L475.78 100.86 L476.53 100.37 L477.28 99.90 L478.03 99.42 L478.78 98.96 L479.53 98.49 L480.28 98.04 L481.03 97.58 L481.78 97.13 L482.53 96.69 L483.28 96.25 L484.03 95.82 L484.78 95.39 L485.53 94.96 L486.28 94.55 L487.03 94.15 L487.78 93.76 L488.53 93.39 L489.28 93.02 L490.03 92.67 L490.78 92.34 L491.53 92.01 L492.28 91.69 L493.03 91.37 L493.78 91.07 L494.53 90.77 L495.28 90.48 L496.03 90.19 L496.78 89.91 L497.53 89.63 L498.28 89.35 L499.03 89.08 L499.78 88.81 L500.53 88.53 L501.28 88.26 L502.03 87.99 L502.78 87.71 L503.53 87.43 L504.28 87.15 L505.03 86.86 L505.78 86.57 L506.53 86.27 L507.28 85.97 L508.03 85.66 L508.78 85.34 L509.53 85.01 L510.28 84.68 L511.03 84.34 L511.78 84.00 L512.53 83.66 L513.28 83.32 L514.03 82.98 L514.78 82.64 L515.53 82.30 L516.28 81.96 L517.03 81.62 L517.78 81.28 L518.53 80.94 L519.28 80.60 L520.03 80.26 L520.78 79.92 L521.53 79.57 L522.28 79.23 L523.03 78.89 L523.78 78.55 L524.53 78.21 L525.28 77.87 L526.03 77.53 L526.78 77.19 L527.53 76.86 L528.28 76.52 L529.03 76.18 L529.78 75.84 L530.53 75.50 L531.28 75.16 L532.03 74.83 L532.78 74.49 L533.53 74.15 L534.28 73.82 L535.03 73.48 L535.78 73.14 L536.53 72.81 L537.28 72.48 L538.03 72.14 L538.78 71.81 L539.53 71.48 L540.28 71.15 L541.03 70.82 L541.78 70.49 L542.53 70.16 L543.28 69.83 L544.03 69.50 L544.78 69.18 L545.53 68.85 L546.28 68.53 L547.03 68.20 L547.78 67.88 L548.53 67.56 L549.28 67.24 L550.03 66.92 L550.78 66.60 L551.53 66.29 L552.28 65.97 L553.03 65.66 L553.78 65.35 L554.53 65.03 L555.28 64.72 L556.03 64.42 L556.78 64.11 L557.53 63.81 L558.28 63.50 L559.03 63.20 L559.78 62.90 L560.53 62.60 L561.28 62.31 L562.03 62.01 L562.78 61.72 L563.53 61.43 L564.28 61.14 L565.03 60.85 L565.78 60.57 L566.53 60.28 L567.28 60.00 L568.03 59.72 L568.78 59.45 L569.53 59.17 L570.28 58.90 L571.03 58.63 L571.78 58.36 L572.53 58.09 L573.28 57.82 L574.03 57.55 L574.78 57.28 L575.53 57.01 L576.28 56.74 L577.03 56.47 L577.78 56.20 L578.53 55.93 L579.28 55.66 L580.03 55.39 L580.78 55.13 L581.53 54.86 L582.28 54.59 L583.03 54.33 L583.78 54.06 L584.53 53.79 L585.28 53.53 L586.03 53.26 L586.78 53.00 L587.53 52.74 L588.28 52.47 L589.03 52.21 L589.78 51.94 L590.53 51.68 L591.28 51.42 L592.03 51.16 L592.78 50.90 L593.53 50.63 L594.28 50.37 L595.03 50.11 L595.78 49.85 L596.53 49.59 L597.28 49.33 L598.03 49.07 L598.78 48.82 L599.53 48.56 L600.28 48.30 L601.03 48.04 L601.78 47.79 L602.53 47.53 L603.28 47.27 L604.03 47.02 L604.78 46.76 L605.53 46.51 L606.28 46.26 L607.03 46.00 L607.78 45.75 L608.53 45.50 L609.28 45.24 L610.03 44.99 L610.78 44.74 L611.53 44.49 L612.28 44.24 L613.03 43.99 L613.78 43.74 L614.53 43.49 L615.28 43.24 L616.03 43.00 L616.78 42.75 L617.53 42.50 L618.28 42.26 L619.03 42.01 L619.78 41.77 L620.53 41.52 L621.28 41.28 L622.03 41.04 L622.10 41.01 Q625.30 41.01 625.30 44.21 L625.30 107.80" stroke="#4193ba" stroke-width="1.15" fill="none" stroke-linejoin="round"/>
<path d="M401.74 206.40 L402.49 205.88 L403.24 204.47 L403.99 202.57 L404.74 200.42 L405.49 198.16 L406.24 195.89 L406.99 193.65 L407.74 191.47 L408.49 189.36 L409.24 187.31 L409.99 185.33 L410.74 183.41 L411.49 181.55 L412.24 179.75 L412.99 178.00 L413.74 176.30 L414.49 174.64 L415.24 173.02 L415.99 171.44 L416.74 169.89 L417.49 168.37 L418.24 166.87 L418.99 165.41 L419.74 163.97 L420.49 162.55 L421.24 161.16 L421.99 159.78 L422.74 158.43 L423.49 157.09 L424.24 155.77 L424.99 154.48 L425.74 153.20 L426.49 151.94 L427.24 150.69 L427.99 149.47 L428.74 148.26 L429.49 147.07 L430.24 145.89 L430.99 144.73 L431.74 143.59 L432.49 142.46 L433.24 141.35 L433.99 140.26 L434.74 139.18 L435.49 138.12 L436.24 137.07 L436.99 136.04 L437.74 135.02 L438.49 134.01 L439.24 133.03 L439.99 132.05 L440.74 131.09 L441.49 130.15 L442.24 129.22 L442.99 128.31 L443.74 127.40 L444.49 126.52 L445.24 125.65 L445.99 124.79 L446.74 123.94 L447.49 123.11 L448.24 122.30 L448.99 121.50 L449.74 120.71 L450.49 119.94 L451.24 119.18 L451.99 118.44 L452.74 117.71 L453.49 116.99 L454.24 116.29 L454.99 115.60 L455.74 114.93 L456.49 114.27 L457.24 113.61 L457.99 112.97 L458.74 112.33 L459.49 111.70 L460.24 111.08 L460.99 110.47 L461.74 109.87 L462.49 109.27 L463.24 108.68 L463.99 108.09 L464.74 107.52 L465.49 106.95 L466.24 106.38 L466.99 105.82 L467.74 105.27 L468.49 104.73 L469.24 104.19 L469.99 103.66 L470.74 103.13 L471.49 102.61 L472.24 102.09 L472.99 101.58 L473.74 101.07 L474.49 100.57 L475.24 100.08 L475.99 99.59 L476.74 99.10 L477.49 98.62 L478.24 98.14 L478.99 97.67 L479.74 97.20 L480.49 96.74 L481.24 96.28 L481.99 95.82 L482.74 95.37 L483.49 94.92 L484.24 94.48 L484.99 94.06 L485.74 93.64 L486.49 93.24 L487.24 92.84 L487.99 92.46 L488.74 92.08 L489.49 91.72 L490.24 91.36 L490.99 91.00 L491.74 90.66 L492.49 90.32 L493.24 89.98 L493.99 89.65 L494.74 89.33 L495.49 89.01 L496.24 88.69 L496.99 88.38 L497.74 88.07 L498.49 87.75 L499.24 87.44 L499.99 87.14 L500.74 86.83 L501.49 86.52 L502.24 86.21 L502.99 85.89 L503.74 85.58 L504.49 85.26 L505.24 84.94 L505.99 84.62 L506.74 84.29 L507.49 83.96 L508.24 83.62 L508.99 83.27 L509.74 82.92 L510.49 82.57 L511.24 82.21 L511.99 81.85 L512.74 81.50 L513.49 81.15 L514.24 80.79 L514.99 80.44 L515.74 80.09 L516.49 79.74 L517.24 79.38 L517.99 79.03 L518.74 78.68 L519.49 78.33 L520.24 77.99 L520.99 77.64 L521.74 77.29 L522.49 76.94 L523.24 76.60 L523.99 76.25 L524.74 75.91 L525.49 75.56 L526.24 75.22 L526.99 74.87 L527.74 74.53 L528.49 74.19 L529.24 73.84 L529.99 73.50 L530.74 73.16 L531.49 72.82 L532.24 72.48 L532.99 72.14 L533.74 71.80 L534.49 71.46 L535.24 71.12 L535.99 70.79 L536.74 70.45 L537.49 70.11 L538.24 69.78 L538.99 69.44 L539.74 69.11 L540.49 68.77 L541.24 68.44 L541.99 68.11 L542.74 67.78 L543.49 67.44 L544.24 67.11 L544.99 66.78 L545.74 66.45 L546.49 66.12 L547.24 65.80 L547.99 65.47 L548.74 65.14 L549.49 64.81 L550.24 64.49 L550.99 64.16 L551.74 63.84 L552.49 63.52 L553.24 63.19 L553.99 62.87 L554.74 62.55 L555.49 62.23 L556.24 61.91 L556.99 61.59 L557.74 61.27 L558.49 60.96 L559.24 60.64 L559.99 60.32 L560.74 60.01 L561.49 59.69 L562.24 59.38 L562.99 59.07 L563.74 58.76 L564.49 58.45 L565.24 58.14 L565.99 57.83 L566.74 57.52 L567.49 57.22 L568.24 56.91 L568.99 56.61 L569.74 56.30 L570.49 56.00 L571.24 55.70 L571.99 55.40 L572.74 55.10 L573.49 54.80 L574.24 54.49 L574.99 54.19 L575.74 53.89 L576.49 53.59 L577.24 53.29 L577.99 52.99 L578.74 52.69 L579.49 52.39 L580.24 52.09 L580.99 51.80 L581.74 51.50 L582.49 51.20 L583.24 50.90 L583.99 50.60 L584.74 50.30 L585.49 50.01 L586.24 49.71 L586.99 49.41 L587.74 49.12 L588.49 48.82 L589.24 48.52 L589.99 48.23 L590.74 47.93 L591.49 47.63 L592.24 47.34 L592.99 47.04 L593.74 46.75 L594.49 46.45 L595.24 46.16 L595.99 45.86 L596.74 45.57 L597.49 45.27 L598.24 44.98 L598.99 44.68 L599.74 44.39 L600.49 44.09 L601.24 43.80 L601.99 43.51 L602.74 43.21 L603.49 42.92 L604.24 42.63 L604.99 42.33 L605.74 42.04 L606.49 41.75 L607.24 41.46 L607.99 41.16 L608.74 40.87 L609.49 40.58 L610.24 40.29 L610.99 40.00 L611.74 39.71 L612.49 39.41 L613.24 39.12 L613.99 38.83 L614.74 38.54 L615.49 38.25 L616.24 37.96 L616.99 37.67 L617.60 37.43 Q620.80 37.43 620.80 40.63 L620.80 113.70" stroke="#3d86bd" stroke-width="1.15" fill="none" stroke-linejoin="round"/>
<path d="M401.74 206.40 L402.49 204.40 L403.24 202.02 L403.99 199.84 L404.74 197.74 L405.49 195.67 L406.24 193.65 L406.99 191.65 L407.74 189.69 L408.49 187.75 L409.24 185.84 L409.99 183.95 L410.74 182.10 L411.49 180.28 L412.24 178.50 L412.99 176.75 L413.74 175.03 L414.49 173.35 L415.24 171.70 L415.99 170.08 L416.74 168.49 L417.49 166.93 L418.24 165.39 L418.99 163.88 L419.74 162.40 L420.49 160.95 L421.24 159.51 L421.99 158.10 L422.74 156.72 L423.49 155.35 L424.24 154.01 L424.99 152.68 L425.74 151.38 L426.49 150.10 L427.24 148.83 L427.99 147.59 L428.74 146.36 L429.49 145.16 L430.24 143.97 L430.99 142.80 L431.74 141.65 L432.49 140.51 L433.24 139.40 L433.99 138.30 L434.74 137.21 L435.49 136.15 L436.24 135.10 L436.99 134.06 L437.74 133.05 L438.49 132.05 L439.24 131.06 L439.99 130.09 L440.74 129.13 L441.49 128.19 L442.24 127.27 L442.99 126.36 L443.74 125.47 L444.49 124.59 L445.24 123.72 L445.99 122.87 L446.74 122.04 L447.49 121.21 L448.24 120.41 L448.99 119.61 L449.74 118.83 L450.49 118.07 L451.24 117.32 L451.99 116.58 L452.74 115.86 L453.49 115.15 L454.24 114.46 L454.99 113.77 L455.74 113.09 L456.49 112.42 L457.24 111.76 L457.99 111.11 L458.74 110.47 L459.49 109.84 L460.24 109.21 L460.99 108.59 L461.74 107.98 L462.49 107.38 L463.24 106.79 L463.99 106.20 L464.74 105.62 L465.49 105.04 L466.24 104.48 L466.99 103.91 L467.74 103.36 L468.49 102.81 L469.24 102.27 L469.99 101.73 L470.74 101.20 L471.49 100.67 L472.24 100.15 L472.99 99.64 L473.74 99.13 L474.49 98.63 L475.24 98.13 L475.99 97.63 L476.74 97.14 L477.49 96.66 L478.24 96.18 L478.99 95.70 L479.74 95.23 L480.49 94.77 L481.24 94.31 L481.99 93.85 L482.74 93.41 L483.49 92.97 L484.24 92.54 L484.99 92.11 L485.74 91.69 L486.49 91.28 L487.24 90.87 L487.99 90.46 L488.74 90.07 L489.49 89.67 L490.24 89.28 L490.99 88.89 L491.74 88.51 L492.49 88.13 L493.24 87.76 L493.99 87.38 L494.74 87.01 L495.49 86.65 L496.24 86.28 L496.99 85.92 L497.74 85.56 L498.49 85.20 L499.24 84.84 L499.99 84.48 L500.74 84.13 L501.49 83.77 L502.24 83.42 L502.99 83.06 L503.74 82.70 L504.49 82.35 L505.24 81.99 L505.99 81.63 L506.74 81.28 L507.49 80.92 L508.24 80.55 L508.99 80.19 L509.74 79.83 L510.49 79.46 L511.24 79.09 L511.99 78.73 L512.74 78.36 L513.49 78.00 L514.24 77.63 L514.99 77.27 L515.74 76.90 L516.49 76.54 L517.24 76.17 L517.99 75.81 L518.74 75.45 L519.49 75.09 L520.24 74.72 L520.99 74.36 L521.74 74.00 L522.49 73.64 L523.24 73.28 L523.99 72.92 L524.74 72.56 L525.49 72.20 L526.24 71.84 L526.99 71.48 L527.74 71.12 L528.49 70.76 L529.24 70.41 L529.99 70.05 L530.74 69.69 L531.49 69.33 L532.24 68.98 L532.99 68.62 L533.74 68.27 L534.49 67.91 L535.24 67.56 L535.99 67.21 L536.74 66.85 L537.49 66.50 L538.24 66.15 L538.99 65.80 L539.74 65.45 L540.49 65.10 L541.24 64.75 L541.99 64.40 L542.74 64.05 L543.49 63.70 L544.24 63.36 L544.99 63.01 L545.74 62.67 L546.49 62.32 L547.24 61.98 L547.99 61.63 L548.74 61.29 L549.49 60.95 L550.24 60.61 L550.99 60.27 L551.74 59.93 L552.49 59.59 L553.24 59.25 L553.99 58.92 L554.74 58.58 L555.49 58.25 L556.24 57.92 L556.99 57.58 L557.74 57.25 L558.49 56.92 L559.24 56.59 L559.99 56.26 L560.74 55.94 L561.49 55.61 L562.24 55.29 L562.99 54.96 L563.74 54.64 L564.49 54.32 L565.24 54.00 L565.99 53.68 L566.74 53.36 L567.49 53.05 L568.24 52.73 L568.99 52.42 L569.74 52.11 L570.49 51.80 L571.24 51.49 L571.99 51.18 L572.74 50.87 L573.49 50.56 L574.24 50.26 L574.99 49.95 L575.74 49.65 L576.49 49.35 L577.24 49.04 L577.99 48.74 L578.74 48.44 L579.49 48.14 L580.24 47.84 L580.99 47.55 L581.74 47.25 L582.49 46.95 L583.24 46.66 L583.99 46.36 L584.74 46.07 L585.49 45.77 L586.24 45.48 L586.99 45.19 L587.74 44.90 L588.49 44.61 L589.24 44.32 L589.99 44.03 L590.74 43.74 L591.49 43.45 L592.24 43.16 L592.99 42.87 L593.74 42.58 L594.49 42.30 L595.24 42.01 L595.99 41.73 L596.00 41.72 Q599.20 41.72 599.20 44.92 L599.20 110.20" stroke="#3978bd" stroke-width="1.15" fill="none" stroke-linejoin="round"/>
<path d="M401.74 206.40 L402.49 204.22 L403.24 201.65 L403.99 199.30 L404.74 197.03 L405.49 194.81 L406.24 192.64 L406.99 190.52 L407.74 188.45 L408.49 186.42 L409.24 184.43 L409.99 182.50 L410.74 180.61 L411.49 178.76 L412.24 176.96 L412.99 175.19 L413.74 173.47 L414.49 171.78 L415.24 170.12 L415.99 168.49 L416.74 166.89 L417.49 165.31 L418.24 163.76 L418.99 162.23 L419.74 160.72 L420.49 159.22 L421.24 157.75 L421.99 156.31 L422.74 154.89 L423.49 153.50 L424.24 152.13 L424.99 150.78 L425.74 149.45 L426.49 148.15 L427.24 146.87 L427.99 145.61 L428.74 144.37 L429.49 143.15 L430.24 141.95 L430.99 140.77 L431.74 139.61 L432.49 138.47 L433.24 137.35 L433.99 136.25 L434.74 135.16 L435.49 134.09 L436.24 133.04 L436.99 132.01 L437.74 131.00 L438.49 130.00 L439.24 129.02 L439.99 128.05 L440.74 127.10 L441.49 126.17 L442.24 125.25 L442.99 124.35 L443.74 123.46 L444.49 122.59 L445.24 121.73 L445.99 120.89 L446.74 120.06 L447.49 119.25 L448.24 118.45 L448.99 117.66 L449.74 116.89 L450.49 116.14 L451.24 115.39 L451.99 114.67 L452.74 113.95 L453.49 113.24 L454.24 112.54 L454.99 111.85 L455.74 111.17 L456.49 110.50 L457.24 109.84 L457.99 109.19 L458.74 108.54 L459.49 107.91 L460.24 107.28 L460.99 106.65 L461.74 106.04 L462.49 105.43 L463.24 104.83 L463.99 104.24 L464.74 103.66 L465.49 103.08 L466.24 102.50 L466.99 101.94 L467.74 101.38 L468.49 100.82 L469.24 100.27 L469.99 99.73 L470.74 99.19 L471.49 98.66 L472.24 98.14 L472.99 97.62 L473.74 97.10 L474.49 96.59 L475.24 96.08 L475.99 95.58 L476.74 95.08 L477.49 94.59 L478.24 94.10 L478.99 93.62 L479.74 93.14 L480.49 92.67 L481.24 92.21 L481.99 91.74 L482.74 91.29 L483.49 90.83 L484.24 90.39 L484.99 89.94 L485.74 89.50 L486.49 89.06 L487.24 88.63 L487.99 88.20 L488.74 87.77 L489.49 87.35 L490.24 86.93 L490.99 86.52 L491.74 86.10 L492.49 85.69 L493.24 85.28 L493.99 84.88 L494.74 84.47 L495.49 84.07 L496.24 83.67 L496.99 83.28 L497.74 82.88 L498.49 82.49 L499.24 82.10 L499.99 81.70 L500.74 81.32 L501.49 80.93 L502.24 80.54 L502.99 80.16 L503.74 79.77 L504.49 79.39 L505.24 79.01 L505.99 78.63 L506.74 78.25 L507.49 77.87 L508.24 77.49 L508.99 77.11 L509.74 76.73 L510.49 76.35 L511.24 75.97 L511.99 75.60 L512.74 75.22 L513.49 74.84 L514.24 74.47 L514.99 74.10 L515.74 73.72 L516.49 73.35 L517.24 72.98 L517.99 72.61 L518.74 72.23 L519.49 71.86 L520.24 71.49 L520.99 71.13 L521.74 70.76 L522.49 70.39 L523.24 70.02 L523.99 69.66 L524.74 69.29 L525.49 68.92 L526.24 68.56 L526.99 68.19 L527.74 67.83 L528.49 67.47 L529.24 67.10 L529.99 66.74 L530.74 66.38 L531.49 66.02 L532.24 65.66 L532.99 65.30 L533.74 64.94 L534.49 64.58 L535.24 64.22 L535.99 63.86 L536.74 63.50 L537.49 63.14 L538.24 62.79 L538.99 62.43 L539.74 62.08 L540.49 61.72 L541.24 61.37 L541.99 61.01 L542.74 60.66 L543.49 60.30 L544.24 59.95 L544.99 59.60 L545.74 59.25 L546.49 58.90 L547.24 58.55 L547.99 58.20 L548.74 57.85 L549.49 57.50 L550.24 57.15 L550.99 56.80 L551.74 56.45 L552.49 56.11 L553.24 55.76 L553.99 55.42 L554.74 55.07 L555.49 54.73 L556.24 54.38 L556.99 54.04 L557.74 53.70 L558.49 53.36 L559.24 53.02 L559.99 52.68 L560.74 52.34 L561.49 52.00 L562.24 51.66 L562.99 51.32 L563.74 50.98 L564.49 50.65 L565.24 50.31 L565.99 49.98 L566.74 49.64 L567.49 49.31 L568.24 48.98 L568.99 48.64 L569.74 48.31 L570.49 47.98 L571.24 47.65 L571.99 47.32 L572.74 47.00 L573.49 46.67 L574.24 46.34 L574.99 46.01 L575.74 45.68 L576.49 45.36 L577.24 45.03 L577.99 44.71 L578.74 44.38 L579.49 44.06 L580.24 43.73 L580.99 43.41 L581.74 43.08 L582.49 42.76 L583.24 42.44 L583.99 42.11 L584.74 41.79 L585.49 41.47 L586.24 41.15 L586.99 40.83 L587.74 40.51 L588.49 40.19 L589.24 39.87 L589.99 39.55 L590.74 39.23 L591.49 38.91 L592.24 38.59 L592.99 38.27 L593.74 37.95 L594.49 37.63 L595.24 37.32 L595.99 37.00 L596.74 36.68 L597.49 36.36 L598.24 36.05 L598.99 35.73 L599.74 35.42 L600.49 35.10 L601.24 34.79 L601.99 34.47 L602.74 34.16 L603.49 33.84 L603.60 33.80 Q606.80 33.80 606.80 37.00 L606.80 111.00" stroke="#356abc" stroke-width="1.15" fill="none" stroke-linejoin="round"/>
<path d="M401.74 206.40 L402.49 204.05 L403.24 201.30 L403.99 198.78 L404.74 196.35 L405.49 193.97 L406.24 191.66 L406.99 189.39 L407.74 187.18 L408.49 185.02 L409.24 182.92 L409.99 180.90 L410.74 178.96 L411.49 177.08 L412.24 175.26 L412.99 173.49 L413.74 171.77 L414.49 170.09 L415.24 168.45 L415.99 166.83 L416.74 165.24 L417.49 163.66 L418.24 162.09 L418.99 160.52 L419.74 158.96 L420.49 157.43 L421.24 155.93 L421.99 154.45 L422.74 153.01 L423.49 151.59 L424.24 150.19 L424.99 148.83 L425.74 147.48 L426.49 146.16 L427.24 144.87 L427.99 143.60 L428.74 142.35 L429.49 141.13 L430.24 139.92 L430.99 138.74 L431.74 137.58 L432.49 136.44 L433.24 135.32 L433.99 134.21 L434.74 133.13 L435.49 132.07 L436.24 131.02 L436.99 129.99 L437.74 128.98 L438.49 127.99 L439.24 127.02 L439.99 126.06 L440.74 125.11 L441.49 124.19 L442.24 123.27 L442.99 122.38 L443.74 121.50 L444.49 120.63 L445.24 119.78 L445.99 118.94 L446.74 118.12 L447.49 117.31 L448.24 116.51 L448.99 115.73 L449.74 114.96 L450.49 114.20 L451.24 113.46 L451.99 112.72 L452.74 112.00 L453.49 111.28 L454.24 110.58 L454.99 109.88 L455.74 109.20 L456.49 108.52 L457.24 107.85 L457.99 107.19 L458.74 106.54 L459.49 105.90 L460.24 105.27 L460.99 104.64 L461.74 104.02 L462.49 103.41 L463.24 102.80 L463.99 102.20 L464.74 101.61 L465.49 101.03 L466.24 100.45 L466.99 99.88 L467.74 99.31 L468.49 98.75 L469.24 98.20 L469.99 97.65 L470.74 97.11 L471.49 96.57 L472.24 96.04 L472.99 95.51 L473.74 94.99 L474.49 94.47 L475.24 93.96 L475.99 93.45 L476.74 92.94 L477.49 92.44 L478.24 91.95 L478.99 91.46 L479.74 90.97 L480.49 90.48 L481.24 90.00 L481.99 89.53 L482.74 89.06 L483.49 88.59 L484.24 88.12 L484.99 87.66 L485.74 87.20 L486.49 86.74 L487.24 86.29 L487.99 85.84 L488.74 85.39 L489.49 84.94 L490.24 84.50 L490.99 84.06 L491.74 83.63 L492.49 83.19 L493.24 82.76 L493.99 82.33 L494.74 81.90 L495.49 81.48 L496.24 81.05 L496.99 80.63 L497.74 80.21 L498.49 79.79 L499.24 79.38 L499.99 78.97 L500.74 78.55 L501.49 78.14 L502.24 77.74 L502.99 77.33 L503.74 76.92 L504.49 76.52 L505.24 76.12 L505.99 75.72 L506.74 75.32 L507.49 74.92 L508.24 74.52 L508.99 74.13 L509.74 73.74 L510.49 73.34 L511.24 72.95 L511.99 72.56 L512.74 72.17 L513.49 71.78 L514.24 71.39 L514.99 71.01 L515.74 70.62 L516.49 70.24 L517.24 69.85 L517.99 69.47 L518.74 69.09 L519.49 68.70 L520.24 68.32 L520.99 67.94 L521.74 67.56 L522.49 67.19 L523.24 66.81 L523.99 66.43 L524.74 66.05 L525.49 65.68 L526.24 65.30 L526.99 64.93 L527.74 64.56 L528.49 64.18 L529.24 63.81 L529.99 63.44 L530.74 63.07 L531.49 62.70 L532.24 62.33 L532.99 61.96 L533.74 61.59 L534.49 61.22 L535.24 60.85 L535.99 60.48 L536.74 60.12 L537.49 59.75 L538.24 59.38 L538.99 59.02 L539.74 58.65 L540.49 58.29 L541.24 57.93 L541.99 57.56 L542.74 57.20 L543.49 56.84 L544.24 56.47 L544.99 56.11 L545.74 55.75 L546.49 55.39 L547.24 55.03 L547.99 54.67 L548.74 54.31 L549.49 53.95 L550.24 53.59 L550.99 53.24 L551.74 52.88 L552.49 52.52 L553.24 52.16 L553.99 51.81 L554.74 51.45 L555.49 51.10 L556.24 50.74 L556.99 50.39 L557.74 50.03 L558.49 49.68 L559.24 49.32 L559.99 48.97 L560.74 48.62 L561.49 48.27 L562.24 47.91 L562.99 47.56 L563.74 47.21 L564.49 46.86 L565.24 46.51 L565.99 46.16 L566.74 45.81 L567.49 45.46 L568.24 45.12 L568.99 44.77 L569.74 44.42 L570.49 44.07 L571.24 43.73 L571.99 43.38 L572.74 43.04 L573.49 42.69 L574.24 42.35 L574.99 42.00 L575.74 41.66 L576.49 41.32 L577.24 40.98 L577.99 40.64 L578.74 40.30 L579.49 39.96 L580.24 39.62 L580.99 39.28 L581.74 38.95 L582.49 38.61 L583.24 38.27 L583.99 37.94 L584.74 37.60 L585.49 37.27 L586.24 36.93 L586.99 36.60 L587.74 36.27 L588.49 35.93 L589.24 35.60 L589.99 35.27 L590.74 34.94 L591.49 34.60 L592.24 34.27 L592.99 33.94 L593.74 33.61 L594.49 33.28 L595.24 32.95 L595.99 32.62 L596.74 32.29 L597.49 31.96 L598.24 31.63 L598.99 31.30 L599.74 30.97 L600.49 30.65 L601.24 30.32 L601.99 29.99 L602.74 29.66 L603.49 29.33 L603.50 29.33 Q606.70 29.33 606.70 32.53 L606.70 112.50" stroke="#315bb8" stroke-width="1.15" fill="none" stroke-linejoin="round"/>
<path d="M401.74 206.40 L402.49 205.60 L403.24 203.71 L403.99 201.41 L404.74 199.02 L405.49 196.67 L406.24 194.41 L406.99 192.24 L407.74 190.15 L408.49 188.13 L409.24 186.17 L409.99 184.25 L410.74 182.38 L411.49 180.55 L412.24 178.77 L412.99 177.03 L413.74 175.32 L414.49 173.64 L415.24 172.00 L415.99 170.39 L416.74 168.81 L417.49 167.26 L418.24 165.73 L418.99 164.23 L419.74 162.76 L420.49 161.32 L421.24 159.89 L421.99 158.49 L422.74 157.12 L423.49 155.76 L424.24 154.42 L424.99 153.11 L425.74 151.81 L426.49 150.53 L427.24 149.27 L427.99 148.03 L428.74 146.81 L429.49 145.61 L430.24 144.42 L430.99 143.26 L431.74 142.11 L432.49 140.97 L433.24 139.86 L433.99 138.76 L434.74 137.67 L435.49 136.61 L436.24 135.56 L436.99 134.52 L437.74 133.51 L438.49 132.50 L439.24 131.52 L439.99 130.54 L440.74 129.59 L441.49 128.65 L442.24 127.72 L442.99 126.81 L443.74 125.91 L444.49 125.03 L445.24 124.16 L445.99 123.31 L446.74 122.47 L447.49 121.65 L448.24 120.84 L448.99 120.04 L449.74 119.26 L450.49 118.50 L451.24 117.74 L451.99 117.01 L452.74 116.28 L453.49 115.57 L454.24 114.88 L454.99 114.19 L455.74 113.52 L456.49 112.85 L457.24 112.19 L457.99 111.54 L458.74 110.90 L459.49 110.27 L460.24 109.65 L460.99 109.03 L461.74 108.42 L462.49 107.82 L463.24 107.22 L463.99 106.64 L464.74 106.06 L465.49 105.48 L466.24 104.92 L466.99 104.36 L467.74 103.80 L468.49 103.26 L469.24 102.71 L469.99 102.18 L470.74 101.65 L471.49 101.12 L472.24 100.60 L472.99 100.09 L473.74 99.58 L474.49 99.08 L475.24 98.58 L475.99 98.09 L476.74 97.60 L477.49 97.11 L478.24 96.63 L478.99 96.16 L479.74 95.69 L480.49 95.22 L481.24 94.76 L481.99 94.30 L482.74 93.86 L483.49 93.42 L484.24 92.99 L484.99 92.57 L485.74 92.15 L486.49 91.74 L487.24 91.34 L487.99 90.94 L488.74 90.55 L489.49 90.16 L490.24 89.78 L490.99 89.41 L491.74 89.03 L492.49 88.66 L493.24 88.30 L493.99 87.94 L494.74 87.58 L495.49 87.22 L496.24 86.87 L496.99 86.51 L497.74 86.16 L498.49 85.82 L499.24 85.47 L499.99 85.12 L500.74 84.77 L501.49 84.43 L502.24 84.08 L502.99 83.73 L503.74 83.38 L504.49 83.03 L505.24 82.68 L505.99 82.33 L506.74 81.97 L507.49 81.62 L508.24 81.26 L508.99 80.89 L509.74 80.53 L510.49 80.16 L511.24 79.79 L511.99 79.42 L512.74 79.05 L513.49 78.68 L514.24 78.31 L514.99 77.94 L515.74 77.57 L516.49 77.20 L517.24 76.83 L517.99 76.46 L518.74 76.09 L519.49 75.72 L520.24 75.35 L520.99 74.98 L521.74 74.61 L522.49 74.25 L523.24 73.88 L523.99 73.51 L524.74 73.14 L525.49 72.77 L526.24 72.40 L526.99 72.03 L527.74 71.66 L528.49 71.29 L529.24 70.93 L529.99 70.56 L530.74 70.19 L531.49 69.82 L532.24 69.46 L532.99 69.09 L533.74 68.72 L534.49 68.36 L535.24 67.99 L535.99 67.63 L536.74 67.26 L537.49 66.90 L538.24 66.54 L538.99 66.17 L539.74 65.81 L540.49 65.45 L541.24 65.09 L541.99 64.73 L542.74 64.37 L543.49 64.01 L544.24 63.65 L544.99 63.29 L545.74 62.93 L546.49 62.58 L547.24 62.22 L547.99 61.87 L548.74 61.51 L549.49 61.16 L550.24 60.81 L550.99 60.46 L551.74 60.11 L552.49 59.76 L553.24 59.41 L553.99 59.07 L554.74 58.72 L555.49 58.38 L556.24 58.04 L556.99 57.69 L557.74 57.35 L558.49 57.01 L559.24 56.68 L559.99 56.34 L560.74 56.01 L561.49 55.67 L562.24 55.34 L562.99 55.01 L563.74 54.68 L564.49 54.35 L565.24 54.03 L565.99 53.70 L566.74 53.38 L567.49 53.06 L568.24 52.74 L568.99 52.42 L569.74 52.11 L570.49 51.80 L571.24 51.49 L571.99 51.19 L572.74 50.90 L573.49 50.61 L574.24 50.33 L574.99 50.05 L575.74 49.77 L576.49 49.50 L577.24 49.24 L577.99 48.97 L578.74 48.71 L579.49 48.45 L580.24 48.19 L580.99 47.94 L581.74 47.68 L582.40 47.45 Q585.60 47.45 585.60 50.65 L585.60 111.80" stroke="#2d42ae" stroke-width="1.15" fill="none" stroke-linejoin="round"/>
<path d="M401.74 206.40 L402.49 204.17 L403.24 201.55 L403.99 199.15 L404.74 196.84 L405.49 194.58 L406.24 192.38 L406.99 190.22 L407.74 188.12 L408.49 186.06 L409.24 184.05 L409.99 182.10 L410.74 180.19 L411.49 178.34 L412.24 176.53 L412.99 174.76 L413.74 173.03 L414.49 171.34 L415.24 169.68 L415.99 168.05 L416.74 166.45 L417.49 164.88 L418.24 163.32 L418.99 161.78 L419.74 160.26 L420.49 158.76 L421.24 157.28 L421.99 155.83 L422.74 154.40 L423.49 153.00 L424.24 151.62 L424.99 150.27 L425.74 148.94 L426.49 147.63 L427.24 146.35 L427.99 145.08 L428.74 143.84 L429.49 142.62 L430.24 141.42 L430.99 140.24 L431.74 139.08 L432.49 137.94 L433.24 136.82 L433.99 135.71 L434.74 134.63 L435.49 133.56 L436.24 132.51 L436.99 131.48 L437.74 130.47 L438.49 129.47 L439.24 128.49 L439.99 127.52 L440.74 126.57 L441.49 125.64 L442.24 124.73 L442.99 123.82 L443.74 122.94 L444.49 122.07 L445.24 121.21 L445.99 120.37 L446.74 119.55 L447.49 118.73 L448.24 117.94 L448.99 117.15 L449.74 116.38 L450.49 115.63 L451.24 114.89 L451.99 114.16 L452.74 113.44 L453.49 112.73 L454.24 112.03 L454.99 111.34 L455.74 110.66 L456.49 109.99 L457.24 109.32 L457.99 108.67 L458.74 108.02 L459.49 107.39 L460.24 106.76 L460.99 106.13 L461.74 105.52 L462.49 104.91 L463.24 104.31 L463.99 103.71 L464.74 103.13 L465.49 102.55 L466.24 101.97 L466.99 101.41 L467.74 100.84 L468.49 100.29 L469.24 99.74 L469.99 99.19 L470.74 98.65 L471.49 98.12 L472.24 97.59 L472.99 97.07 L473.74 96.55 L474.49 96.04 L475.24 95.53 L475.99 95.02 L476.74 94.53 L477.49 94.03 L478.24 93.54 L478.99 93.06 L479.74 92.58 L480.49 92.11 L481.24 91.64 L481.99 91.17 L482.74 90.71 L483.49 90.26 L484.24 89.80 L484.99 89.36 L485.74 88.91 L486.49 88.47 L487.24 88.03 L487.99 87.60 L488.74 87.17 L489.49 86.74 L490.24 86.31 L490.99 85.89 L491.74 85.47 L492.49 85.06 L493.24 84.64 L493.99 84.23 L494.74 83.82 L495.49 83.41 L496.24 83.01 L496.99 82.60 L497.74 82.20 L498.49 81.80 L499.24 81.40 L499.99 81.01 L500.74 80.61 L501.49 80.22 L502.24 79.82 L502.99 79.43 L503.74 79.04 L504.49 78.65 L505.24 78.26 L505.99 77.87 L506.74 77.48 L507.49 77.09 L508.24 76.71 L508.99 76.32 L509.74 75.93 L510.49 75.55 L511.24 75.16 L511.99 74.77 L512.74 74.38 L513.49 74.00 L514.24 73.61 L514.99 73.22 L515.74 72.83 L516.49 72.44 L517.24 72.05 L517.99 71.66 L518.74 71.27 L519.49 70.88 L520.24 70.49 L520.99 70.10 L521.74 69.71 L522.49 69.32 L523.24 68.93 L523.99 68.54 L524.74 68.15 L525.49 67.76 L526.24 67.37 L526.99 66.97 L527.74 66.58 L528.49 66.19 L529.24 65.80 L529.99 65.41 L530.74 65.02 L531.49 64.63 L532.24 64.24 L532.99 63.85 L533.74 63.46 L534.49 63.07 L535.24 62.68 L535.99 62.29 L536.74 61.91 L537.49 61.52 L538.24 61.13 L538.99 60.74 L539.74 60.36 L540.49 59.97 L541.24 59.58 L541.99 59.20 L542.74 58.81 L543.49 58.43 L544.24 58.05 L544.99 57.66 L545.74 57.28 L546.49 56.90 L547.24 56.52 L547.99 56.14 L548.74 55.76 L549.49 55.38 L550.24 55.00 L550.99 54.63 L551.74 54.25 L552.49 53.88 L553.24 53.50 L553.99 53.13 L554.74 52.76 L555.49 52.39 L556.24 52.02 L556.99 51.65 L557.74 51.29 L558.49 50.92 L559.24 50.56 L559.99 50.19 L560.74 49.83 L561.49 49.47 L562.24 49.11 L562.99 48.76 L563.74 48.40 L564.49 48.05 L565.24 47.70 L565.99 47.35 L566.74 47.00 L567.49 46.65 L568.24 46.30 L568.99 45.96 L569.74 45.62 L570.49 45.28 L571.24 44.94 L571.99 44.60 L572.74 44.26 L573.49 43.93 L574.24 43.60 L574.99 43.26 L575.74 42.93 L576.49 42.60 L577.24 42.27 L577.99 41.95 L578.74 41.62 L579.49 41.30 L580.24 40.97 L580.99 40.65 L581.74 40.33 L582.49 40.01 L583.24 39.69 L583.99 39.37 L584.74 39.05 L585.49 38.74 L586.24 38.42 L586.99 38.11 L587.74 37.80 L588.49 37.48 L589.24 37.17 L589.99 36.86 L590.74 36.55 L591.49 36.24 L592.24 35.94 L592.99 35.63 L593.74 35.33 L594.49 35.02 L595.24 34.72 L595.99 34.41 L596.74 34.11 L597.49 33.81 L598.24 33.51 L598.99 33.21 L599.74 32.91 L600.49 32.61 L601.24 32.31 L601.99 32.02 L602.74 31.72 L603.49 31.42 L604.24 31.13 L604.99 30.83 L605.74 30.54 L606.49 30.25 L607.24 29.96 L607.80 29.74 Q611.00 29.74 611.00 32.94 L611.00 106.00" stroke="#2a37a0" stroke-width="1.15" fill="none" stroke-linejoin="round"/>
<path d="M401.74 206.40 L402.49 203.82 L403.24 200.85 L403.99 198.13 L404.74 195.51 L405.49 192.98 L406.24 190.53 L406.99 188.17 L407.74 185.88 L408.49 183.69 L409.24 181.58 L409.99 179.55 L410.74 177.60 L411.49 175.71 L412.24 173.89 L412.99 172.12 L413.74 170.39 L414.49 168.70 L415.24 167.04 L415.99 165.40 L416.74 163.78 L417.49 162.17 L418.24 160.56 L418.99 158.95 L419.74 157.37 L420.49 155.82 L421.24 154.31 L421.99 152.82 L422.74 151.36 L423.49 149.93 L424.24 148.53 L424.99 147.15 L425.74 145.80 L426.49 144.48 L427.24 143.18 L427.99 141.90 L428.74 140.65 L429.49 139.42 L430.24 138.21 L430.99 137.03 L431.74 135.87 L432.49 134.72 L433.24 133.60 L433.99 132.50 L434.74 131.42 L435.49 130.35 L436.24 129.31 L436.99 128.28 L437.74 127.27 L438.49 126.28 L439.24 125.30 L439.99 124.34 L440.74 123.40 L441.49 122.47 L442.24 121.56 L442.99 120.66 L443.74 119.78 L444.49 118.91 L445.24 118.05 L445.99 117.21 L446.74 116.38 L447.49 115.57 L448.24 114.76 L448.99 113.97 L449.74 113.19 L450.49 112.43 L451.24 111.67 L451.99 110.93 L452.74 110.20 L453.49 109.47 L454.24 108.76 L454.99 108.06 L455.74 107.36 L456.49 106.68 L457.24 106.01 L457.99 105.34 L458.74 104.69 L459.49 104.04 L460.24 103.40 L460.99 102.77 L461.74 102.14 L462.49 101.53 L463.24 100.92 L463.99 100.31 L464.74 99.72 L465.49 99.13 L466.24 98.55 L466.99 97.97 L467.74 97.41 L468.49 96.84 L469.24 96.28 L469.99 95.73 L470.74 95.19 L471.49 94.65 L472.24 94.11 L472.99 93.58 L473.74 93.05 L474.49 92.52 L475.24 92.00 L475.99 91.49 L476.74 90.97 L477.49 90.46 L478.24 89.96 L478.99 89.46 L479.74 88.96 L480.49 88.46 L481.24 87.97 L481.99 87.48 L482.74 86.99 L483.49 86.51 L484.24 86.03 L484.99 85.55 L485.74 85.08 L486.49 84.61 L487.24 84.14 L487.99 83.67 L488.74 83.21 L489.49 82.75 L490.24 82.29 L490.99 81.83 L491.74 81.38 L492.49 80.93 L493.24 80.48 L493.99 80.03 L494.74 79.59 L495.49 79.14 L496.24 78.70 L496.99 78.27 L497.74 77.83 L498.49 77.40 L499.24 76.97 L499.99 76.54 L500.74 76.11 L501.49 75.69 L502.24 75.26 L502.99 74.84 L503.74 74.42 L504.49 74.01 L505.24 73.59 L505.99 73.18 L506.74 72.77 L507.49 72.36 L508.24 71.95 L508.99 71.54 L509.74 71.14 L510.49 70.74 L511.24 70.33 L511.99 69.93 L512.74 69.53 L513.49 69.12 L514.24 68.72 L514.99 68.32 L515.74 67.91 L516.49 67.51 L517.24 67.10 L517.99 66.70 L518.74 66.30 L519.49 65.89 L520.24 65.49 L520.99 65.08 L521.74 64.68 L522.49 64.27 L523.24 63.87 L523.99 63.47 L524.74 63.06 L525.49 62.66 L526.24 62.25 L526.99 61.85 L527.74 61.45 L528.49 61.05 L529.24 60.64 L529.99 60.24 L530.74 59.84 L531.49 59.44 L532.24 59.04 L532.99 58.64 L533.74 58.24 L534.49 57.84 L535.24 57.44 L535.99 57.04 L536.74 56.64 L537.49 56.25 L538.24 55.85 L538.99 55.46 L539.74 55.06 L540.49 54.67 L541.24 54.28 L541.99 53.89 L542.74 53.50 L543.49 53.11 L544.24 52.72 L544.99 52.33 L545.74 51.95 L546.49 51.56 L547.24 51.18 L547.99 50.80 L548.74 50.42 L549.49 50.04 L550.24 49.66 L550.99 49.29 L551.74 48.91 L552.49 48.54 L553.24 48.17 L553.99 47.80 L554.74 47.43 L555.49 47.07 L556.24 46.70 L556.99 46.34 L557.74 45.98 L558.49 45.62 L559.24 45.26 L559.99 44.91 L560.74 44.56 L561.49 44.21 L562.24 43.86 L562.99 43.51 L563.74 43.17 L564.49 42.83 L565.24 42.49 L565.99 42.15 L566.74 41.82 L567.49 41.49 L568.24 41.16 L568.99 40.83 L569.74 40.51 L570.49 40.19 L571.24 39.87 L571.99 39.56 L572.74 39.25 L573.49 38.95 L574.24 38.65 L574.99 38.35 L575.74 38.05 L576.49 37.76 L577.24 37.47 L577.99 37.19 L578.74 36.91 L579.49 36.63 L580.24 36.36 L580.99 36.08 L581.74 35.82 L582.49 35.55 L583.24 35.29 L583.99 35.03 L584.74 34.77 L585.49 34.52 L586.24 34.26 L586.99 34.02 L587.74 33.77 L588.49 33.52 L589.24 33.28 L589.99 33.04 L590.74 32.81 L591.49 32.57 L592.24 32.34 L592.99 32.11 L593.74 31.88 L594.49 31.66 L595.24 31.43 L595.99 31.21 L596.74 30.99 L597.49 30.77 L598.24 30.56 L598.99 30.34 L599.74 30.13 L600.49 29.92 L601.24 29.71 L601.99 29.50 L602.74 29.29 L603.49 29.09 L604.24 28.88 L604.99 28.68 L605.74 28.48 L606.49 28.28 L607.24 28.08 L607.99 27.88 L608.30 27.80 Q611.50 27.80 611.50 31.00 L611.50 107.30" stroke="#262e8e" stroke-width="1.15" fill="none" stroke-linejoin="round"/>
<path d="M401.74 206.40 L402.49 203.43 L403.24 200.06 L403.99 196.97 L404.74 194.03 L405.49 191.22 L406.24 188.54 L406.99 186.00 L407.74 183.61 L408.49 181.34 L409.24 179.19 L409.99 177.14 L410.74 175.19 L411.49 173.31 L412.24 171.49 L412.99 169.73 L413.74 168.01 L414.49 166.31 L415.24 164.63 L415.99 162.95 L416.74 161.27 L417.49 159.56 L418.24 157.88 L418.99 156.23 L419.74 154.61 L420.49 153.03 L421.24 151.48 L421.99 149.97 L422.74 148.49 L423.49 147.04 L424.24 145.62 L424.99 144.22 L425.74 142.86 L426.49 141.52 L427.24 140.21 L427.99 138.93 L428.74 137.67 L429.49 136.44 L430.24 135.23 L430.99 134.04 L431.74 132.87 L432.49 131.73 L433.24 130.61 L433.99 129.50 L434.74 128.42 L435.49 127.36 L436.24 126.32 L436.99 125.29 L437.74 124.28 L438.49 123.29 L439.24 122.32 L439.99 121.36 L440.74 120.42 L441.49 119.49 L442.24 118.58 L442.99 117.68 L443.74 116.79 L444.49 115.92 L445.24 115.07 L445.99 114.22 L446.74 113.39 L447.49 112.57 L448.24 111.76 L448.99 110.96 L449.74 110.18 L450.49 109.40 L451.24 108.64 L451.99 107.89 L452.74 107.14 L453.49 106.41 L454.24 105.69 L454.99 104.98 L455.74 104.27 L456.49 103.58 L457.24 102.89 L457.99 102.21 L458.74 101.54 L459.49 100.88 L460.24 100.23 L460.99 99.59 L461.74 98.95 L462.49 98.32 L463.24 97.70 L463.99 97.08 L464.74 96.48 L465.49 95.87 L466.24 95.28 L466.99 94.69 L467.74 94.11 L468.49 93.53 L469.24 92.96 L469.99 92.39 L470.74 91.83 L471.49 91.27 L472.24 90.72 L472.99 90.16 L473.74 89.62 L474.49 89.07 L475.24 88.53 L475.99 88.00 L476.74 87.47 L477.49 86.94 L478.24 86.41 L478.99 85.89 L479.74 85.37 L480.49 84.86 L481.24 84.35 L481.99 83.84 L482.74 83.33 L483.49 82.83 L484.24 82.33 L484.99 81.84 L485.74 81.34 L486.49 80.85 L487.24 80.36 L487.99 79.88 L488.74 79.40 L489.49 78.92 L490.24 78.44 L490.99 77.97 L491.74 77.50 L492.49 77.03 L493.24 76.56 L493.99 76.10 L494.74 75.64 L495.49 75.18 L496.24 74.72 L496.99 74.27 L497.74 73.82 L498.49 73.37 L499.24 72.93 L499.99 72.48 L500.74 72.04 L501.49 71.60 L502.24 71.17 L502.99 70.73 L503.74 70.30 L504.49 69.87 L505.24 69.45 L505.99 69.02 L506.74 68.60 L507.49 68.18 L508.24 67.77 L508.99 67.35 L509.74 66.94 L510.49 66.53 L511.24 66.12 L511.99 65.72 L512.74 65.31 L513.49 64.90 L514.24 64.50 L514.99 64.10 L515.74 63.69 L516.49 63.29 L517.24 62.89 L517.99 62.49 L518.74 62.09 L519.49 61.70 L520.24 61.30 L520.99 60.90 L521.74 60.51 L522.49 60.11 L523.24 59.72 L523.99 59.32 L524.74 58.93 L525.49 58.54 L526.24 58.15 L526.99 57.76 L527.74 57.37 L528.49 56.98 L529.24 56.59 L529.99 56.21 L530.74 55.82 L531.49 55.44 L532.24 55.05 L532.99 54.67 L533.74 54.28 L534.49 53.90 L535.24 53.52 L535.99 53.14 L536.74 52.76 L537.49 52.38 L538.24 52.00 L538.99 51.62 L539.74 51.25 L540.49 50.87 L541.24 50.50 L541.99 50.12 L542.74 49.75 L543.49 49.38 L544.24 49.00 L544.99 48.63 L545.74 48.26 L546.49 47.89 L547.24 47.53 L547.99 47.16 L548.74 46.79 L549.49 46.43 L550.24 46.06 L550.99 45.70 L551.74 45.33 L552.49 44.97 L553.24 44.61 L553.99 44.25 L554.74 43.89 L555.49 43.53 L556.24 43.17 L556.99 42.82 L557.74 42.46 L558.49 42.11 L559.24 41.75 L559.99 41.40 L560.74 41.05 L561.49 40.70 L562.24 40.35 L562.99 40.00 L563.74 39.65 L564.49 39.31 L565.24 38.96 L565.99 38.62 L566.74 38.28 L567.49 37.93 L568.24 37.59 L568.99 37.25 L569.74 36.92 L570.49 36.58 L571.24 36.25 L571.99 35.92 L572.74 35.60 L573.49 35.28 L574.24 34.96 L574.99 34.65 L575.74 34.35 L576.49 34.04 L577.24 33.74 L577.99 33.45 L578.74 33.16 L579.49 32.87 L580.24 32.58 L580.99 32.30 L581.74 32.02 L582.49 31.75 L583.24 31.47 L583.99 31.20 L584.74 30.94 L585.49 30.67 L586.24 30.41 L586.99 30.15 L587.74 29.89 L588.49 29.64 L589.24 29.38 L589.99 29.13 L590.74 28.89 L591.49 28.64 L592.24 28.39 L592.99 28.15 L593.74 27.91 L594.49 27.67 L595.24 27.43 L595.99 27.19 L596.74 26.95 L597.49 26.72 L598.24 26.48 L598.99 26.25 L599.74 26.02 L600.49 25.79 L601.24 25.55 L601.99 25.32 L602.74 25.09 L603.10 24.98 Q606.30 24.98 606.30 28.18 L606.30 105.50" stroke="#212577" stroke-width="1.15" fill="none" stroke-linejoin="round"/>
</svg>
</body></html>
